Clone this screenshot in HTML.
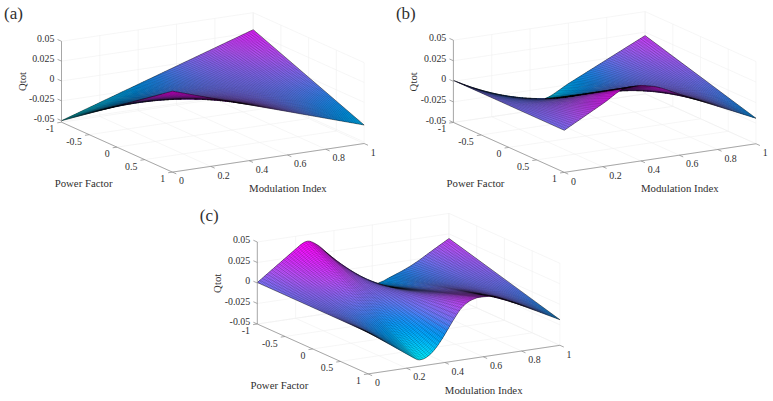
<!DOCTYPE html>
<html><head><meta charset="utf-8"><title>Qtot surfaces</title>
<style>html,body{margin:0;padding:0;background:#fff}svg{display:block}path.m{fill:none;stroke:#000;stroke-width:0.165}path.n{fill:none;stroke:#000;stroke-width:0.165}path.b{fill:none;stroke:#000;stroke-width:.55;stroke-opacity:.85}text{font-family:"Liberation Serif",serif;fill:#303030}</style>
</head><body>
<svg width="773" height="401" viewBox="0 0 773 401">
<defs><linearGradient id="g0_99" gradientUnits="userSpaceOnUse" x1="252.2" y1="0" x2="363.1" y2="0"><stop offset="0" stop-color="#e225ff"/><stop offset=".1" stop-color="#d435ff"/><stop offset=".2" stop-color="#c549ff"/><stop offset=".3" stop-color="#b25bff"/><stop offset=".4" stop-color="#9669ff"/><stop offset=".5" stop-color="#7a78ff"/><stop offset=".6" stop-color="#5684ff"/><stop offset=".7" stop-color="#2b90ff"/><stop offset=".8" stop-color="#0e9cff"/><stop offset=".9" stop-color="#00abff"/><stop offset="1" stop-color="#00bcff"/></linearGradient>
<linearGradient id="g0_98" gradientUnits="userSpaceOnUse" x1="250.3" y1="0" x2="361.2" y2="0"><stop offset="0" stop-color="#e027ff"/><stop offset=".1" stop-color="#d237ff"/><stop offset=".2" stop-color="#c34bff"/><stop offset=".3" stop-color="#b05cff"/><stop offset=".4" stop-color="#956aff"/><stop offset=".5" stop-color="#7a78ff"/><stop offset=".6" stop-color="#5784ff"/><stop offset=".7" stop-color="#2e90ff"/><stop offset=".8" stop-color="#109bff"/><stop offset=".9" stop-color="#00a9ff"/><stop offset="1" stop-color="#00baff"/></linearGradient>
<linearGradient id="g0_97" gradientUnits="userSpaceOnUse" x1="248.4" y1="0" x2="359.3" y2="0"><stop offset="0" stop-color="#de28ff"/><stop offset=".1" stop-color="#d03aff"/><stop offset=".2" stop-color="#c24cff"/><stop offset=".3" stop-color="#af5dff"/><stop offset=".4" stop-color="#946aff"/><stop offset=".5" stop-color="#7a78ff"/><stop offset=".6" stop-color="#5883ff"/><stop offset=".7" stop-color="#308fff"/><stop offset=".8" stop-color="#139aff"/><stop offset=".9" stop-color="#00a7ff"/><stop offset="1" stop-color="#00b7ff"/></linearGradient>
<linearGradient id="g0_96" gradientUnits="userSpaceOnUse" x1="246.5" y1="0" x2="357.4" y2="0"><stop offset="0" stop-color="#dc2aff"/><stop offset=".1" stop-color="#cf3cff"/><stop offset=".2" stop-color="#c14eff"/><stop offset=".3" stop-color="#ad5eff"/><stop offset=".4" stop-color="#946bff"/><stop offset=".5" stop-color="#7a78ff"/><stop offset=".6" stop-color="#5983ff"/><stop offset=".7" stop-color="#338eff"/><stop offset=".8" stop-color="#1599ff"/><stop offset=".9" stop-color="#00a5ff"/><stop offset="1" stop-color="#00b5ff"/></linearGradient>
<linearGradient id="g0_95" gradientUnits="userSpaceOnUse" x1="244.6" y1="0" x2="355.5" y2="0"><stop offset="0" stop-color="#db2cff"/><stop offset=".1" stop-color="#cd3eff"/><stop offset=".2" stop-color="#c050ff"/><stop offset=".3" stop-color="#ab5eff"/><stop offset=".4" stop-color="#936bff"/><stop offset=".5" stop-color="#7a78ff"/><stop offset=".6" stop-color="#5a83ff"/><stop offset=".7" stop-color="#358eff"/><stop offset=".8" stop-color="#1798ff"/><stop offset=".9" stop-color="#00a3ff"/><stop offset="1" stop-color="#00b3ff"/></linearGradient>
<linearGradient id="g0_94" gradientUnits="userSpaceOnUse" x1="242.7" y1="0" x2="353.6" y2="0"><stop offset="0" stop-color="#d82fff"/><stop offset=".1" stop-color="#cb40ff"/><stop offset=".2" stop-color="#be51ff"/><stop offset=".3" stop-color="#aa5fff"/><stop offset=".4" stop-color="#926bff"/><stop offset=".5" stop-color="#7a78ff"/><stop offset=".6" stop-color="#5b82ff"/><stop offset=".7" stop-color="#378dff"/><stop offset=".8" stop-color="#1997ff"/><stop offset=".9" stop-color="#03a2ff"/><stop offset="1" stop-color="#00b0ff"/></linearGradient>
<linearGradient id="g0_93" gradientUnits="userSpaceOnUse" x1="240.7" y1="0" x2="351.6" y2="0"><stop offset="0" stop-color="#d632ff"/><stop offset=".1" stop-color="#ca42ff"/><stop offset=".2" stop-color="#bd53ff"/><stop offset=".3" stop-color="#a860ff"/><stop offset=".4" stop-color="#916cff"/><stop offset=".5" stop-color="#7a78ff"/><stop offset=".6" stop-color="#5c82ff"/><stop offset=".7" stop-color="#3a8cff"/><stop offset=".8" stop-color="#1b96ff"/><stop offset=".9" stop-color="#06a0ff"/><stop offset="1" stop-color="#00aeff"/></linearGradient>
<linearGradient id="g0_92" gradientUnits="userSpaceOnUse" x1="238.8" y1="0" x2="349.7" y2="0"><stop offset="0" stop-color="#d435ff"/><stop offset=".1" stop-color="#c845ff"/><stop offset=".2" stop-color="#bc55ff"/><stop offset=".3" stop-color="#a761ff"/><stop offset=".4" stop-color="#916cff"/><stop offset=".5" stop-color="#7a78ff"/><stop offset=".6" stop-color="#5d82ff"/><stop offset=".7" stop-color="#3c8bff"/><stop offset=".8" stop-color="#1d95ff"/><stop offset=".9" stop-color="#099fff"/><stop offset="1" stop-color="#00abff"/></linearGradient>
<linearGradient id="g0_91" gradientUnits="userSpaceOnUse" x1="236.9" y1="0" x2="347.8" y2="0"><stop offset="0" stop-color="#d237ff"/><stop offset=".1" stop-color="#c647ff"/><stop offset=".2" stop-color="#ba56ff"/><stop offset=".3" stop-color="#a562ff"/><stop offset=".4" stop-color="#906dff"/><stop offset=".5" stop-color="#7a78ff"/><stop offset=".6" stop-color="#5e81ff"/><stop offset=".7" stop-color="#3f8bff"/><stop offset=".8" stop-color="#1f94ff"/><stop offset=".9" stop-color="#0b9eff"/><stop offset="1" stop-color="#00a9ff"/></linearGradient>
<linearGradient id="g0_90" gradientUnits="userSpaceOnUse" x1="235.0" y1="0" x2="345.9" y2="0"><stop offset="0" stop-color="#d03aff"/><stop offset=".1" stop-color="#c549ff"/><stop offset=".2" stop-color="#b858ff"/><stop offset=".3" stop-color="#a462ff"/><stop offset=".4" stop-color="#8f6dff"/><stop offset=".5" stop-color="#7a78ff"/><stop offset=".6" stop-color="#5f81ff"/><stop offset=".7" stop-color="#418aff"/><stop offset=".8" stop-color="#2293ff"/><stop offset=".9" stop-color="#0e9cff"/><stop offset="1" stop-color="#00a7ff"/></linearGradient>
<linearGradient id="g0_89" gradientUnits="userSpaceOnUse" x1="233.1" y1="0" x2="344.0" y2="0"><stop offset="0" stop-color="#ce3dff"/><stop offset=".1" stop-color="#c34bff"/><stop offset=".2" stop-color="#b659ff"/><stop offset=".3" stop-color="#a263ff"/><stop offset=".4" stop-color="#8e6eff"/><stop offset=".5" stop-color="#7a78ff"/><stop offset=".6" stop-color="#6081ff"/><stop offset=".7" stop-color="#4489ff"/><stop offset=".8" stop-color="#2492ff"/><stop offset=".9" stop-color="#119bff"/><stop offset="1" stop-color="#00a4ff"/></linearGradient>
<linearGradient id="g0_88" gradientUnits="userSpaceOnUse" x1="231.2" y1="0" x2="342.1" y2="0"><stop offset="0" stop-color="#cc40ff"/><stop offset=".1" stop-color="#c14eff"/><stop offset=".2" stop-color="#b45aff"/><stop offset=".3" stop-color="#a164ff"/><stop offset=".4" stop-color="#8e6eff"/><stop offset=".5" stop-color="#7a78ff"/><stop offset=".6" stop-color="#6180ff"/><stop offset=".7" stop-color="#4689ff"/><stop offset=".8" stop-color="#2891ff"/><stop offset=".9" stop-color="#149aff"/><stop offset="1" stop-color="#02a2ff"/></linearGradient>
<linearGradient id="g0_87" gradientUnits="userSpaceOnUse" x1="229.2" y1="0" x2="340.1" y2="0"><stop offset="0" stop-color="#ca43ff"/><stop offset=".1" stop-color="#bf50ff"/><stop offset=".2" stop-color="#b15bff"/><stop offset=".3" stop-color="#9f65ff"/><stop offset=".4" stop-color="#8d6eff"/><stop offset=".5" stop-color="#7a78ff"/><stop offset=".6" stop-color="#6280ff"/><stop offset=".7" stop-color="#4988ff"/><stop offset=".8" stop-color="#2b90ff"/><stop offset=".9" stop-color="#1798ff"/><stop offset="1" stop-color="#06a0ff"/></linearGradient>
<linearGradient id="g0_86" gradientUnits="userSpaceOnUse" x1="227.3" y1="0" x2="338.2" y2="0"><stop offset="0" stop-color="#c745ff"/><stop offset=".1" stop-color="#be52ff"/><stop offset=".2" stop-color="#af5cff"/><stop offset=".3" stop-color="#9e66ff"/><stop offset=".4" stop-color="#8c6fff"/><stop offset=".5" stop-color="#7a78ff"/><stop offset=".6" stop-color="#6380ff"/><stop offset=".7" stop-color="#4b87ff"/><stop offset=".8" stop-color="#2f8fff"/><stop offset=".9" stop-color="#1a97ff"/><stop offset="1" stop-color="#099fff"/></linearGradient>
<linearGradient id="g0_85" gradientUnits="userSpaceOnUse" x1="225.4" y1="0" x2="336.3" y2="0"><stop offset="0" stop-color="#c548ff"/><stop offset=".1" stop-color="#bc54ff"/><stop offset=".2" stop-color="#ad5eff"/><stop offset=".3" stop-color="#9c66ff"/><stop offset=".4" stop-color="#8b6fff"/><stop offset=".5" stop-color="#7a78ff"/><stop offset=".6" stop-color="#647fff"/><stop offset=".7" stop-color="#4e87ff"/><stop offset=".8" stop-color="#338eff"/><stop offset=".9" stop-color="#1d96ff"/><stop offset="1" stop-color="#0d9dff"/></linearGradient>
<linearGradient id="g0_84" gradientUnits="userSpaceOnUse" x1="223.5" y1="0" x2="334.4" y2="0"><stop offset="0" stop-color="#c34bff"/><stop offset=".1" stop-color="#ba56ff"/><stop offset=".2" stop-color="#ab5fff"/><stop offset=".3" stop-color="#9b67ff"/><stop offset=".4" stop-color="#8a70ff"/><stop offset=".5" stop-color="#7a78ff"/><stop offset=".6" stop-color="#657fff"/><stop offset=".7" stop-color="#5086ff"/><stop offset=".8" stop-color="#368dff"/><stop offset=".9" stop-color="#2094ff"/><stop offset="1" stop-color="#119bff"/></linearGradient>
<linearGradient id="g0_83" gradientUnits="userSpaceOnUse" x1="221.6" y1="0" x2="332.5" y2="0"><stop offset="0" stop-color="#c14eff"/><stop offset=".1" stop-color="#b858ff"/><stop offset=".2" stop-color="#a860ff"/><stop offset=".3" stop-color="#9968ff"/><stop offset=".4" stop-color="#8a70ff"/><stop offset=".5" stop-color="#7a78ff"/><stop offset=".6" stop-color="#667fff"/><stop offset=".7" stop-color="#5285ff"/><stop offset=".8" stop-color="#3a8cff"/><stop offset=".9" stop-color="#2293ff"/><stop offset="1" stop-color="#149aff"/></linearGradient>
<linearGradient id="g0_82" gradientUnits="userSpaceOnUse" x1="219.7" y1="0" x2="330.6" y2="0"><stop offset="0" stop-color="#bf50ff"/><stop offset=".1" stop-color="#b45aff"/><stop offset=".2" stop-color="#a661ff"/><stop offset=".3" stop-color="#9769ff"/><stop offset=".4" stop-color="#8970ff"/><stop offset=".5" stop-color="#7a78ff"/><stop offset=".6" stop-color="#677eff"/><stop offset=".7" stop-color="#5485ff"/><stop offset=".8" stop-color="#3e8bff"/><stop offset=".9" stop-color="#2792ff"/><stop offset="1" stop-color="#1898ff"/></linearGradient>
<linearGradient id="g0_81" gradientUnits="userSpaceOnUse" x1="217.7" y1="0" x2="328.6" y2="0"><stop offset="0" stop-color="#bd53ff"/><stop offset=".1" stop-color="#b15bff"/><stop offset=".2" stop-color="#a462ff"/><stop offset=".3" stop-color="#966aff"/><stop offset=".4" stop-color="#8871ff"/><stop offset=".5" stop-color="#7a78ff"/><stop offset=".6" stop-color="#687eff"/><stop offset=".7" stop-color="#5684ff"/><stop offset=".8" stop-color="#428aff"/><stop offset=".9" stop-color="#2c90ff"/><stop offset="1" stop-color="#1b96ff"/></linearGradient>
<linearGradient id="g0_80" gradientUnits="userSpaceOnUse" x1="215.8" y1="0" x2="326.7" y2="0"><stop offset="0" stop-color="#bb56ff"/><stop offset=".1" stop-color="#ae5dff"/><stop offset=".2" stop-color="#a164ff"/><stop offset=".3" stop-color="#946aff"/><stop offset=".4" stop-color="#8771ff"/><stop offset=".5" stop-color="#7a78ff"/><stop offset=".6" stop-color="#697eff"/><stop offset=".7" stop-color="#5883ff"/><stop offset=".8" stop-color="#4589ff"/><stop offset=".9" stop-color="#308fff"/><stop offset="1" stop-color="#1f95ff"/></linearGradient>
<linearGradient id="g0_79" gradientUnits="userSpaceOnUse" x1="213.9" y1="0" x2="324.8" y2="0"><stop offset="0" stop-color="#b758ff"/><stop offset=".1" stop-color="#ab5eff"/><stop offset=".2" stop-color="#9f65ff"/><stop offset=".3" stop-color="#936bff"/><stop offset=".4" stop-color="#8772ff"/><stop offset=".5" stop-color="#7a78ff"/><stop offset=".6" stop-color="#6a7dff"/><stop offset=".7" stop-color="#5a83ff"/><stop offset=".8" stop-color="#4988ff"/><stop offset=".9" stop-color="#358dff"/><stop offset="1" stop-color="#2393ff"/></linearGradient>
<linearGradient id="g0_78" gradientUnits="userSpaceOnUse" x1="212.0" y1="0" x2="322.9" y2="0"><stop offset="0" stop-color="#b45aff"/><stop offset=".1" stop-color="#a860ff"/><stop offset=".2" stop-color="#9d66ff"/><stop offset=".3" stop-color="#916cff"/><stop offset=".4" stop-color="#8672ff"/><stop offset=".5" stop-color="#7a78ff"/><stop offset=".6" stop-color="#6b7dff"/><stop offset=".7" stop-color="#5c82ff"/><stop offset=".8" stop-color="#4d87ff"/><stop offset=".9" stop-color="#3a8cff"/><stop offset="1" stop-color="#2891ff"/></linearGradient>
<linearGradient id="g0_77" gradientUnits="userSpaceOnUse" x1="210.1" y1="0" x2="321.0" y2="0"><stop offset="0" stop-color="#b05cff"/><stop offset=".1" stop-color="#a562ff"/><stop offset=".2" stop-color="#9a67ff"/><stop offset=".3" stop-color="#906dff"/><stop offset=".4" stop-color="#8572ff"/><stop offset=".5" stop-color="#7a78ff"/><stop offset=".6" stop-color="#6c7dff"/><stop offset=".7" stop-color="#5e81ff"/><stop offset=".8" stop-color="#5086ff"/><stop offset=".9" stop-color="#3f8bff"/><stop offset="1" stop-color="#2e8fff"/></linearGradient>
<linearGradient id="g0_76" gradientUnits="userSpaceOnUse" x1="208.2" y1="0" x2="319.1" y2="0"><stop offset="0" stop-color="#ac5eff"/><stop offset=".1" stop-color="#a263ff"/><stop offset=".2" stop-color="#9868ff"/><stop offset=".3" stop-color="#8e6eff"/><stop offset=".4" stop-color="#8473ff"/><stop offset=".5" stop-color="#7a78ff"/><stop offset=".6" stop-color="#6d7cff"/><stop offset=".7" stop-color="#6081ff"/><stop offset=".8" stop-color="#5385ff"/><stop offset=".9" stop-color="#4489ff"/><stop offset="1" stop-color="#348eff"/></linearGradient>
<linearGradient id="g0_75" gradientUnits="userSpaceOnUse" x1="206.2" y1="0" x2="317.1" y2="0"><stop offset="0" stop-color="#a860ff"/><stop offset=".1" stop-color="#9f65ff"/><stop offset=".2" stop-color="#966aff"/><stop offset=".3" stop-color="#8d6eff"/><stop offset=".4" stop-color="#8473ff"/><stop offset=".5" stop-color="#7a78ff"/><stop offset=".6" stop-color="#6e7cff"/><stop offset=".7" stop-color="#6280ff"/><stop offset=".8" stop-color="#5684ff"/><stop offset=".9" stop-color="#4988ff"/><stop offset="1" stop-color="#3b8cff"/></linearGradient>
<linearGradient id="g0_74" gradientUnits="userSpaceOnUse" x1="204.3" y1="0" x2="315.2" y2="0"><stop offset="0" stop-color="#a462ff"/><stop offset=".1" stop-color="#9c66ff"/><stop offset=".2" stop-color="#936bff"/><stop offset=".3" stop-color="#8b6fff"/><stop offset=".4" stop-color="#8374ff"/><stop offset=".5" stop-color="#7a78ff"/><stop offset=".6" stop-color="#6f7cff"/><stop offset=".7" stop-color="#647fff"/><stop offset=".8" stop-color="#5983ff"/><stop offset=".9" stop-color="#4e87ff"/><stop offset="1" stop-color="#418aff"/></linearGradient>
<linearGradient id="g0_73" gradientUnits="userSpaceOnUse" x1="202.4" y1="0" x2="313.3" y2="0"><stop offset="0" stop-color="#a064ff"/><stop offset=".1" stop-color="#9968ff"/><stop offset=".2" stop-color="#916cff"/><stop offset=".3" stop-color="#8a70ff"/><stop offset=".4" stop-color="#8274ff"/><stop offset=".5" stop-color="#7a78ff"/><stop offset=".6" stop-color="#707bff"/><stop offset=".7" stop-color="#667fff"/><stop offset=".8" stop-color="#5c82ff"/><stop offset=".9" stop-color="#5285ff"/><stop offset="1" stop-color="#4789ff"/></linearGradient>
<linearGradient id="g0_72" gradientUnits="userSpaceOnUse" x1="200.5" y1="0" x2="311.4" y2="0"><stop offset="0" stop-color="#9c66ff"/><stop offset=".1" stop-color="#966aff"/><stop offset=".2" stop-color="#8f6dff"/><stop offset=".3" stop-color="#8871ff"/><stop offset=".4" stop-color="#8174ff"/><stop offset=".5" stop-color="#7a78ff"/><stop offset=".6" stop-color="#717bff"/><stop offset=".7" stop-color="#687eff"/><stop offset=".8" stop-color="#5f81ff"/><stop offset=".9" stop-color="#5684ff"/><stop offset="1" stop-color="#4d87ff"/></linearGradient>
<linearGradient id="g0_71" gradientUnits="userSpaceOnUse" x1="198.6" y1="0" x2="309.5" y2="0"><stop offset="0" stop-color="#9968ff"/><stop offset=".1" stop-color="#936bff"/><stop offset=".2" stop-color="#8d6eff"/><stop offset=".3" stop-color="#8672ff"/><stop offset=".4" stop-color="#8075ff"/><stop offset=".5" stop-color="#7a78ff"/><stop offset=".6" stop-color="#727bff"/><stop offset=".7" stop-color="#6a7dff"/><stop offset=".8" stop-color="#6380ff"/><stop offset=".9" stop-color="#5b83ff"/><stop offset="1" stop-color="#5385ff"/></linearGradient>
<linearGradient id="g0_70" gradientUnits="userSpaceOnUse" x1="196.6" y1="0" x2="307.5" y2="0"><stop offset="0" stop-color="#956aff"/><stop offset=".1" stop-color="#8f6dff"/><stop offset=".2" stop-color="#8a70ff"/><stop offset=".3" stop-color="#8572ff"/><stop offset=".4" stop-color="#8075ff"/><stop offset=".5" stop-color="#7a78ff"/><stop offset=".6" stop-color="#737aff"/><stop offset=".7" stop-color="#6d7dff"/><stop offset=".8" stop-color="#667fff"/><stop offset=".9" stop-color="#5f81ff"/><stop offset="1" stop-color="#5883ff"/></linearGradient>
<linearGradient id="g0_69" gradientUnits="userSpaceOnUse" x1="194.7" y1="0" x2="305.6" y2="0"><stop offset="0" stop-color="#916cff"/><stop offset=".1" stop-color="#8c6eff"/><stop offset=".2" stop-color="#8871ff"/><stop offset=".3" stop-color="#8373ff"/><stop offset=".4" stop-color="#7f76ff"/><stop offset=".5" stop-color="#7a78ff"/><stop offset=".6" stop-color="#747aff"/><stop offset=".7" stop-color="#6f7cff"/><stop offset=".8" stop-color="#697eff"/><stop offset=".9" stop-color="#6380ff"/><stop offset="1" stop-color="#5d82ff"/></linearGradient>
<linearGradient id="g0_68" gradientUnits="userSpaceOnUse" x1="192.8" y1="0" x2="303.7" y2="0"><stop offset="0" stop-color="#8d6eff"/><stop offset=".1" stop-color="#8970ff"/><stop offset=".2" stop-color="#8672ff"/><stop offset=".3" stop-color="#8274ff"/><stop offset=".4" stop-color="#7e76ff"/><stop offset=".5" stop-color="#7a78ff"/><stop offset=".6" stop-color="#7579ff"/><stop offset=".7" stop-color="#717bff"/><stop offset=".8" stop-color="#6c7dff"/><stop offset=".9" stop-color="#677eff"/><stop offset="1" stop-color="#6280ff"/></linearGradient>
<linearGradient id="g0_67" gradientUnits="userSpaceOnUse" x1="190.9" y1="0" x2="301.8" y2="0"><stop offset="0" stop-color="#8970ff"/><stop offset=".1" stop-color="#8672ff"/><stop offset=".2" stop-color="#8373ff"/><stop offset=".3" stop-color="#8075ff"/><stop offset=".4" stop-color="#7d76ff"/><stop offset=".5" stop-color="#7a78ff"/><stop offset=".6" stop-color="#7679ff"/><stop offset=".7" stop-color="#737aff"/><stop offset=".8" stop-color="#6f7cff"/><stop offset=".9" stop-color="#6b7dff"/><stop offset="1" stop-color="#677eff"/></linearGradient>
<linearGradient id="g0_66" gradientUnits="userSpaceOnUse" x1="189.0" y1="0" x2="299.9" y2="0"><stop offset="0" stop-color="#8572ff"/><stop offset=".1" stop-color="#8373ff"/><stop offset=".2" stop-color="#8174ff"/><stop offset=".3" stop-color="#7f76ff"/><stop offset=".4" stop-color="#7d77ff"/><stop offset=".5" stop-color="#7a78ff"/><stop offset=".6" stop-color="#7879ff"/><stop offset=".7" stop-color="#757aff"/><stop offset=".8" stop-color="#727bff"/><stop offset=".9" stop-color="#6f7cff"/><stop offset="1" stop-color="#6c7dff"/></linearGradient>
<linearGradient id="g0_65" gradientUnits="userSpaceOnUse" x1="187.1" y1="0" x2="298.0" y2="0"><stop offset="0" stop-color="#8174ff"/><stop offset=".1" stop-color="#8075ff"/><stop offset=".2" stop-color="#7f76ff"/><stop offset=".3" stop-color="#7d76ff"/><stop offset=".4" stop-color="#7c77ff"/><stop offset=".5" stop-color="#7a78ff"/><stop offset=".6" stop-color="#7978ff"/><stop offset=".7" stop-color="#7779ff"/><stop offset=".8" stop-color="#757aff"/><stop offset=".9" stop-color="#737aff"/><stop offset="1" stop-color="#717bff"/></linearGradient>
<linearGradient id="g0_64" gradientUnits="userSpaceOnUse" x1="185.1" y1="0" x2="296.0" y2="0"><stop offset="0" stop-color="#7e76ff"/><stop offset=".1" stop-color="#7d77ff"/><stop offset=".2" stop-color="#7c77ff"/><stop offset=".3" stop-color="#7c77ff"/><stop offset=".4" stop-color="#7b78ff"/><stop offset=".5" stop-color="#7a78ff"/><stop offset=".6" stop-color="#7a78ff"/><stop offset=".7" stop-color="#7978ff"/><stop offset=".8" stop-color="#7879ff"/><stop offset=".9" stop-color="#7779ff"/><stop offset="1" stop-color="#7679ff"/></linearGradient>
<linearGradient id="g0_63" gradientUnits="userSpaceOnUse" x1="183.2" y1="0" x2="294.1" y2="0"><stop offset="0" stop-color="#7a78ff"/><stop offset=".1" stop-color="#7a78ff"/><stop offset=".2" stop-color="#7a78ff"/><stop offset=".3" stop-color="#7a78ff"/><stop offset=".4" stop-color="#7a78ff"/><stop offset=".5" stop-color="#7a78ff"/><stop offset=".6" stop-color="#7b78ff"/><stop offset=".7" stop-color="#7b78ff"/><stop offset=".8" stop-color="#7b78ff"/><stop offset=".9" stop-color="#7b78ff"/><stop offset="1" stop-color="#7b78ff"/></linearGradient>
<linearGradient id="g0_62" gradientUnits="userSpaceOnUse" x1="181.3" y1="0" x2="292.2" y2="0"><stop offset="0" stop-color="#747aff"/><stop offset=".1" stop-color="#7679ff"/><stop offset=".2" stop-color="#7779ff"/><stop offset=".3" stop-color="#7879ff"/><stop offset=".4" stop-color="#7978ff"/><stop offset=".5" stop-color="#7a78ff"/><stop offset=".6" stop-color="#7b77ff"/><stop offset=".7" stop-color="#7c77ff"/><stop offset=".8" stop-color="#7d76ff"/><stop offset=".9" stop-color="#7e76ff"/><stop offset="1" stop-color="#7f76ff"/></linearGradient>
<linearGradient id="g0_61" gradientUnits="userSpaceOnUse" x1="179.4" y1="0" x2="290.3" y2="0"><stop offset="0" stop-color="#6f7cff"/><stop offset=".1" stop-color="#727bff"/><stop offset=".2" stop-color="#747aff"/><stop offset=".3" stop-color="#7679ff"/><stop offset=".4" stop-color="#7879ff"/><stop offset=".5" stop-color="#7a78ff"/><stop offset=".6" stop-color="#7c77ff"/><stop offset=".7" stop-color="#7e76ff"/><stop offset=".8" stop-color="#7f75ff"/><stop offset=".9" stop-color="#8174ff"/><stop offset="1" stop-color="#8374ff"/></linearGradient>
<linearGradient id="g0_60" gradientUnits="userSpaceOnUse" x1="177.5" y1="0" x2="288.4" y2="0"><stop offset="0" stop-color="#6a7dff"/><stop offset=".1" stop-color="#6e7cff"/><stop offset=".2" stop-color="#717bff"/><stop offset=".3" stop-color="#747aff"/><stop offset=".4" stop-color="#7779ff"/><stop offset=".5" stop-color="#7a78ff"/><stop offset=".6" stop-color="#7d77ff"/><stop offset=".7" stop-color="#7f75ff"/><stop offset=".8" stop-color="#8274ff"/><stop offset=".9" stop-color="#8473ff"/><stop offset="1" stop-color="#8772ff"/></linearGradient>
<linearGradient id="g0_59" gradientUnits="userSpaceOnUse" x1="175.6" y1="0" x2="286.5" y2="0"><stop offset="0" stop-color="#657fff"/><stop offset=".1" stop-color="#697eff"/><stop offset=".2" stop-color="#6e7cff"/><stop offset=".3" stop-color="#727bff"/><stop offset=".4" stop-color="#7679ff"/><stop offset=".5" stop-color="#7a78ff"/><stop offset=".6" stop-color="#7e76ff"/><stop offset=".7" stop-color="#8175ff"/><stop offset=".8" stop-color="#8473ff"/><stop offset=".9" stop-color="#8771ff"/><stop offset="1" stop-color="#8a70ff"/></linearGradient>
<linearGradient id="g0_58" gradientUnits="userSpaceOnUse" x1="173.6" y1="0" x2="284.5" y2="0"><stop offset="0" stop-color="#6081ff"/><stop offset=".1" stop-color="#657fff"/><stop offset=".2" stop-color="#6b7dff"/><stop offset=".3" stop-color="#707bff"/><stop offset=".4" stop-color="#757aff"/><stop offset=".5" stop-color="#7a78ff"/><stop offset=".6" stop-color="#7e76ff"/><stop offset=".7" stop-color="#8274ff"/><stop offset=".8" stop-color="#8672ff"/><stop offset=".9" stop-color="#8a70ff"/><stop offset="1" stop-color="#8e6eff"/></linearGradient>
<linearGradient id="g0_57" gradientUnits="userSpaceOnUse" x1="171.7" y1="0" x2="282.6" y2="0"><stop offset="0" stop-color="#5b82ff"/><stop offset=".1" stop-color="#6180ff"/><stop offset=".2" stop-color="#687eff"/><stop offset=".3" stop-color="#6e7cff"/><stop offset=".4" stop-color="#747aff"/><stop offset=".5" stop-color="#7a78ff"/><stop offset=".6" stop-color="#7f75ff"/><stop offset=".7" stop-color="#8473ff"/><stop offset=".8" stop-color="#8970ff"/><stop offset=".9" stop-color="#8d6eff"/><stop offset="1" stop-color="#926cff"/></linearGradient>
<linearGradient id="g0_56" gradientUnits="userSpaceOnUse" x1="169.8" y1="0" x2="280.7" y2="0"><stop offset="0" stop-color="#5684ff"/><stop offset=".1" stop-color="#5d82ff"/><stop offset=".2" stop-color="#657fff"/><stop offset=".3" stop-color="#6c7dff"/><stop offset=".4" stop-color="#737aff"/><stop offset=".5" stop-color="#7a78ff"/><stop offset=".6" stop-color="#8075ff"/><stop offset=".7" stop-color="#8572ff"/><stop offset=".8" stop-color="#8b6fff"/><stop offset=".9" stop-color="#906cff"/><stop offset="1" stop-color="#966aff"/></linearGradient>
<linearGradient id="g0_55" gradientUnits="userSpaceOnUse" x1="167.9" y1="0" x2="278.8" y2="0"><stop offset="0" stop-color="#5186ff"/><stop offset=".1" stop-color="#5983ff"/><stop offset=".2" stop-color="#6280ff"/><stop offset=".3" stop-color="#6a7dff"/><stop offset=".4" stop-color="#727bff"/><stop offset=".5" stop-color="#7a78ff"/><stop offset=".6" stop-color="#8175ff"/><stop offset=".7" stop-color="#8771ff"/><stop offset=".8" stop-color="#8d6eff"/><stop offset=".9" stop-color="#946bff"/><stop offset="1" stop-color="#9a68ff"/></linearGradient>
<linearGradient id="g0_54" gradientUnits="userSpaceOnUse" x1="166.0" y1="0" x2="276.9" y2="0"><stop offset="0" stop-color="#4b87ff"/><stop offset=".1" stop-color="#5584ff"/><stop offset=".2" stop-color="#5e81ff"/><stop offset=".3" stop-color="#687eff"/><stop offset=".4" stop-color="#717bff"/><stop offset=".5" stop-color="#7a78ff"/><stop offset=".6" stop-color="#8174ff"/><stop offset=".7" stop-color="#8971ff"/><stop offset=".8" stop-color="#906dff"/><stop offset=".9" stop-color="#9769ff"/><stop offset="1" stop-color="#9e66ff"/></linearGradient>
<linearGradient id="g0_53" gradientUnits="userSpaceOnUse" x1="164.1" y1="0" x2="275.0" y2="0"><stop offset="0" stop-color="#4589ff"/><stop offset=".1" stop-color="#5186ff"/><stop offset=".2" stop-color="#5b82ff"/><stop offset=".3" stop-color="#667fff"/><stop offset=".4" stop-color="#707bff"/><stop offset=".5" stop-color="#7a78ff"/><stop offset=".6" stop-color="#8274ff"/><stop offset=".7" stop-color="#8a70ff"/><stop offset=".8" stop-color="#926cff"/><stop offset=".9" stop-color="#9a68ff"/><stop offset="1" stop-color="#a263ff"/></linearGradient>
<linearGradient id="g0_52" gradientUnits="userSpaceOnUse" x1="162.1" y1="0" x2="273.0" y2="0"><stop offset="0" stop-color="#3f8bff"/><stop offset=".1" stop-color="#4d87ff"/><stop offset=".2" stop-color="#5883ff"/><stop offset=".3" stop-color="#647fff"/><stop offset=".4" stop-color="#6f7cff"/><stop offset=".5" stop-color="#7a78ff"/><stop offset=".6" stop-color="#8373ff"/><stop offset=".7" stop-color="#8c6fff"/><stop offset=".8" stop-color="#946aff"/><stop offset=".9" stop-color="#9d66ff"/><stop offset="1" stop-color="#a561ff"/></linearGradient>
<linearGradient id="g0_51" gradientUnits="userSpaceOnUse" x1="160.2" y1="0" x2="271.1" y2="0"><stop offset="0" stop-color="#398dff"/><stop offset=".1" stop-color="#4888ff"/><stop offset=".2" stop-color="#5584ff"/><stop offset=".3" stop-color="#6280ff"/><stop offset=".4" stop-color="#6e7cff"/><stop offset=".5" stop-color="#7a78ff"/><stop offset=".6" stop-color="#8473ff"/><stop offset=".7" stop-color="#8d6eff"/><stop offset=".8" stop-color="#9769ff"/><stop offset=".9" stop-color="#a064ff"/><stop offset="1" stop-color="#a95fff"/></linearGradient>
<linearGradient id="g0_50" gradientUnits="userSpaceOnUse" x1="158.3" y1="0" x2="269.2" y2="0"><stop offset="0" stop-color="#328eff"/><stop offset=".1" stop-color="#438aff"/><stop offset=".2" stop-color="#5285ff"/><stop offset=".3" stop-color="#6081ff"/><stop offset=".4" stop-color="#6d7cff"/><stop offset=".5" stop-color="#7a78ff"/><stop offset=".6" stop-color="#8573ff"/><stop offset=".7" stop-color="#8f6dff"/><stop offset=".8" stop-color="#9968ff"/><stop offset=".9" stop-color="#a363ff"/><stop offset="1" stop-color="#ad5dff"/></linearGradient>
<linearGradient id="g0_49" gradientUnits="userSpaceOnUse" x1="156.4" y1="0" x2="267.3" y2="0"><stop offset="0" stop-color="#2c90ff"/><stop offset=".1" stop-color="#3e8bff"/><stop offset=".2" stop-color="#4f86ff"/><stop offset=".3" stop-color="#5e81ff"/><stop offset=".4" stop-color="#6c7dff"/><stop offset=".5" stop-color="#7a78ff"/><stop offset=".6" stop-color="#8572ff"/><stop offset=".7" stop-color="#906dff"/><stop offset=".8" stop-color="#9b67ff"/><stop offset=".9" stop-color="#a661ff"/><stop offset="1" stop-color="#b15bff"/></linearGradient>
<linearGradient id="g0_48" gradientUnits="userSpaceOnUse" x1="154.5" y1="0" x2="265.4" y2="0"><stop offset="0" stop-color="#2692ff"/><stop offset=".1" stop-color="#398cff"/><stop offset=".2" stop-color="#4c87ff"/><stop offset=".3" stop-color="#5c82ff"/><stop offset=".4" stop-color="#6b7dff"/><stop offset=".5" stop-color="#7a78ff"/><stop offset=".6" stop-color="#8672ff"/><stop offset=".7" stop-color="#926cff"/><stop offset=".8" stop-color="#9d66ff"/><stop offset=".9" stop-color="#a960ff"/><stop offset="1" stop-color="#b559ff"/></linearGradient>
<linearGradient id="g0_47" gradientUnits="userSpaceOnUse" x1="152.6" y1="0" x2="263.5" y2="0"><stop offset="0" stop-color="#2193ff"/><stop offset=".1" stop-color="#348eff"/><stop offset=".2" stop-color="#4888ff"/><stop offset=".3" stop-color="#5a83ff"/><stop offset=".4" stop-color="#6a7dff"/><stop offset=".5" stop-color="#7a78ff"/><stop offset=".6" stop-color="#8771ff"/><stop offset=".7" stop-color="#936bff"/><stop offset=".8" stop-color="#a064ff"/><stop offset=".9" stop-color="#ac5eff"/><stop offset="1" stop-color="#b957ff"/></linearGradient>
<linearGradient id="g0_46" gradientUnits="userSpaceOnUse" x1="150.6" y1="0" x2="261.5" y2="0"><stop offset="0" stop-color="#1e95ff"/><stop offset=".1" stop-color="#2f8fff"/><stop offset=".2" stop-color="#4489ff"/><stop offset=".3" stop-color="#5884ff"/><stop offset=".4" stop-color="#697eff"/><stop offset=".5" stop-color="#7a78ff"/><stop offset=".6" stop-color="#8871ff"/><stop offset=".7" stop-color="#956aff"/><stop offset=".8" stop-color="#a263ff"/><stop offset=".9" stop-color="#af5cff"/><stop offset="1" stop-color="#bb55ff"/></linearGradient>
<linearGradient id="g0_45" gradientUnits="userSpaceOnUse" x1="148.7" y1="0" x2="259.6" y2="0"><stop offset="0" stop-color="#1a97ff"/><stop offset=".1" stop-color="#2a91ff"/><stop offset=".2" stop-color="#408aff"/><stop offset=".3" stop-color="#5584ff"/><stop offset=".4" stop-color="#687eff"/><stop offset=".5" stop-color="#7a78ff"/><stop offset=".6" stop-color="#8871ff"/><stop offset=".7" stop-color="#9669ff"/><stop offset=".8" stop-color="#a462ff"/><stop offset=".9" stop-color="#b25bff"/><stop offset="1" stop-color="#be52ff"/></linearGradient>
<linearGradient id="g0_44" gradientUnits="userSpaceOnUse" x1="146.8" y1="0" x2="257.7" y2="0"><stop offset="0" stop-color="#1798ff"/><stop offset=".1" stop-color="#2592ff"/><stop offset=".2" stop-color="#3d8bff"/><stop offset=".3" stop-color="#5385ff"/><stop offset=".4" stop-color="#677eff"/><stop offset=".5" stop-color="#7a78ff"/><stop offset=".6" stop-color="#8970ff"/><stop offset=".7" stop-color="#9868ff"/><stop offset=".8" stop-color="#a761ff"/><stop offset=".9" stop-color="#b559ff"/><stop offset="1" stop-color="#c04fff"/></linearGradient>
<linearGradient id="g0_43" gradientUnits="userSpaceOnUse" x1="144.9" y1="0" x2="255.8" y2="0"><stop offset="0" stop-color="#139aff"/><stop offset=".1" stop-color="#2293ff"/><stop offset=".2" stop-color="#398cff"/><stop offset=".3" stop-color="#5186ff"/><stop offset=".4" stop-color="#667fff"/><stop offset=".5" stop-color="#7a78ff"/><stop offset=".6" stop-color="#8a70ff"/><stop offset=".7" stop-color="#9968ff"/><stop offset=".8" stop-color="#a960ff"/><stop offset=".9" stop-color="#b958ff"/><stop offset="1" stop-color="#c24dff"/></linearGradient>
<linearGradient id="g0_42" gradientUnits="userSpaceOnUse" x1="143.0" y1="0" x2="253.9" y2="0"><stop offset="0" stop-color="#0f9cff"/><stop offset=".1" stop-color="#1f95ff"/><stop offset=".2" stop-color="#358dff"/><stop offset=".3" stop-color="#4f86ff"/><stop offset=".4" stop-color="#657fff"/><stop offset=".5" stop-color="#7a78ff"/><stop offset=".6" stop-color="#8b6fff"/><stop offset=".7" stop-color="#9b67ff"/><stop offset=".8" stop-color="#ab5eff"/><stop offset=".9" stop-color="#bb56ff"/><stop offset="1" stop-color="#c44aff"/></linearGradient>
<linearGradient id="g0_41" gradientUnits="userSpaceOnUse" x1="141.1" y1="0" x2="252.0" y2="0"><stop offset="0" stop-color="#0c9eff"/><stop offset=".1" stop-color="#1c96ff"/><stop offset=".2" stop-color="#328eff"/><stop offset=".3" stop-color="#4d87ff"/><stop offset=".4" stop-color="#647fff"/><stop offset=".5" stop-color="#7a78ff"/><stop offset=".6" stop-color="#8b6fff"/><stop offset=".7" stop-color="#9d66ff"/><stop offset=".8" stop-color="#ae5dff"/><stop offset=".9" stop-color="#bd53ff"/><stop offset="1" stop-color="#c647ff"/></linearGradient>
<linearGradient id="g0_40" gradientUnits="userSpaceOnUse" x1="139.1" y1="0" x2="250.0" y2="0"><stop offset="0" stop-color="#089fff"/><stop offset=".1" stop-color="#1997ff"/><stop offset=".2" stop-color="#2e90ff"/><stop offset=".3" stop-color="#4b88ff"/><stop offset=".4" stop-color="#6380ff"/><stop offset=".5" stop-color="#7a78ff"/><stop offset=".6" stop-color="#8c6fff"/><stop offset=".7" stop-color="#9e65ff"/><stop offset=".8" stop-color="#b05cff"/><stop offset=".9" stop-color="#be51ff"/><stop offset="1" stop-color="#c844ff"/></linearGradient>
<linearGradient id="g0_39" gradientUnits="userSpaceOnUse" x1="137.2" y1="0" x2="248.1" y2="0"><stop offset="0" stop-color="#05a1ff"/><stop offset=".1" stop-color="#1699ff"/><stop offset=".2" stop-color="#2a91ff"/><stop offset=".3" stop-color="#4888ff"/><stop offset=".4" stop-color="#6280ff"/><stop offset=".5" stop-color="#7a78ff"/><stop offset=".6" stop-color="#8d6eff"/><stop offset=".7" stop-color="#a064ff"/><stop offset=".8" stop-color="#b25bff"/><stop offset=".9" stop-color="#c04fff"/><stop offset="1" stop-color="#ca42ff"/></linearGradient>
<linearGradient id="g0_38" gradientUnits="userSpaceOnUse" x1="135.3" y1="0" x2="246.2" y2="0"><stop offset="0" stop-color="#01a3ff"/><stop offset=".1" stop-color="#139aff"/><stop offset=".2" stop-color="#2692ff"/><stop offset=".3" stop-color="#4689ff"/><stop offset=".4" stop-color="#6180ff"/><stop offset=".5" stop-color="#7a78ff"/><stop offset=".6" stop-color="#8e6eff"/><stop offset=".7" stop-color="#a164ff"/><stop offset=".8" stop-color="#b55aff"/><stop offset=".9" stop-color="#c24dff"/><stop offset="1" stop-color="#cc3fff"/></linearGradient>
<linearGradient id="g0_37" gradientUnits="userSpaceOnUse" x1="133.4" y1="0" x2="244.3" y2="0"><stop offset="0" stop-color="#00a5ff"/><stop offset=".1" stop-color="#109bff"/><stop offset=".2" stop-color="#2393ff"/><stop offset=".3" stop-color="#438aff"/><stop offset=".4" stop-color="#6081ff"/><stop offset=".5" stop-color="#7a78ff"/><stop offset=".6" stop-color="#8f6dff"/><stop offset=".7" stop-color="#a363ff"/><stop offset=".8" stop-color="#b758ff"/><stop offset=".9" stop-color="#c34bff"/><stop offset="1" stop-color="#ce3cff"/></linearGradient>
<linearGradient id="g0_36" gradientUnits="userSpaceOnUse" x1="131.5" y1="0" x2="242.4" y2="0"><stop offset="0" stop-color="#00a7ff"/><stop offset=".1" stop-color="#0d9dff"/><stop offset=".2" stop-color="#2194ff"/><stop offset=".3" stop-color="#418aff"/><stop offset=".4" stop-color="#5f81ff"/><stop offset=".5" stop-color="#7a78ff"/><stop offset=".6" stop-color="#8f6dff"/><stop offset=".7" stop-color="#a462ff"/><stop offset=".8" stop-color="#b957ff"/><stop offset=".9" stop-color="#c548ff"/><stop offset="1" stop-color="#d139ff"/></linearGradient>
<linearGradient id="g0_35" gradientUnits="userSpaceOnUse" x1="129.6" y1="0" x2="240.5" y2="0"><stop offset="0" stop-color="#00aaff"/><stop offset=".1" stop-color="#0b9eff"/><stop offset=".2" stop-color="#1f95ff"/><stop offset=".3" stop-color="#3e8bff"/><stop offset=".4" stop-color="#5e81ff"/><stop offset=".5" stop-color="#7a78ff"/><stop offset=".6" stop-color="#906dff"/><stop offset=".7" stop-color="#a661ff"/><stop offset=".8" stop-color="#bb56ff"/><stop offset=".9" stop-color="#c746ff"/><stop offset="1" stop-color="#d337ff"/></linearGradient>
<linearGradient id="g0_34" gradientUnits="userSpaceOnUse" x1="127.6" y1="0" x2="238.5" y2="0"><stop offset="0" stop-color="#00acff"/><stop offset=".1" stop-color="#08a0ff"/><stop offset=".2" stop-color="#1d96ff"/><stop offset=".3" stop-color="#3c8cff"/><stop offset=".4" stop-color="#5d82ff"/><stop offset=".5" stop-color="#7a78ff"/><stop offset=".6" stop-color="#916cff"/><stop offset=".7" stop-color="#a760ff"/><stop offset=".8" stop-color="#bc54ff"/><stop offset=".9" stop-color="#c844ff"/><stop offset="1" stop-color="#d534ff"/></linearGradient>
<linearGradient id="g0_33" gradientUnits="userSpaceOnUse" x1="125.7" y1="0" x2="236.6" y2="0"><stop offset="0" stop-color="#00aeff"/><stop offset=".1" stop-color="#05a1ff"/><stop offset=".2" stop-color="#1a97ff"/><stop offset=".3" stop-color="#398cff"/><stop offset=".4" stop-color="#5c82ff"/><stop offset=".5" stop-color="#7a78ff"/><stop offset=".6" stop-color="#926cff"/><stop offset=".7" stop-color="#a960ff"/><stop offset=".8" stop-color="#bd52ff"/><stop offset=".9" stop-color="#ca42ff"/><stop offset="1" stop-color="#d731ff"/></linearGradient>
<linearGradient id="g0_32" gradientUnits="userSpaceOnUse" x1="123.8" y1="0" x2="234.7" y2="0"><stop offset="0" stop-color="#00b1ff"/><stop offset=".1" stop-color="#02a2ff"/><stop offset=".2" stop-color="#1898ff"/><stop offset=".3" stop-color="#378dff"/><stop offset=".4" stop-color="#5b82ff"/><stop offset=".5" stop-color="#7a78ff"/><stop offset=".6" stop-color="#926bff"/><stop offset=".7" stop-color="#aa5fff"/><stop offset=".8" stop-color="#bf51ff"/><stop offset=".9" stop-color="#cc40ff"/><stop offset="1" stop-color="#d92eff"/></linearGradient>
<linearGradient id="g0_31" gradientUnits="userSpaceOnUse" x1="121.9" y1="0" x2="232.8" y2="0"><stop offset="0" stop-color="#00b3ff"/><stop offset=".1" stop-color="#00a4ff"/><stop offset=".2" stop-color="#1699ff"/><stop offset=".3" stop-color="#348eff"/><stop offset=".4" stop-color="#5a83ff"/><stop offset=".5" stop-color="#7a78ff"/><stop offset=".6" stop-color="#936bff"/><stop offset=".7" stop-color="#ac5eff"/><stop offset=".8" stop-color="#c04fff"/><stop offset=".9" stop-color="#ce3dff"/><stop offset="1" stop-color="#db2bff"/></linearGradient>
<linearGradient id="g0_30" gradientUnits="userSpaceOnUse" x1="120.0" y1="0" x2="230.9" y2="0"><stop offset="0" stop-color="#00b6ff"/><stop offset=".1" stop-color="#00a6ff"/><stop offset=".2" stop-color="#149aff"/><stop offset=".3" stop-color="#328eff"/><stop offset=".4" stop-color="#5983ff"/><stop offset=".5" stop-color="#7a78ff"/><stop offset=".6" stop-color="#946bff"/><stop offset=".7" stop-color="#ad5dff"/><stop offset=".8" stop-color="#c14dff"/><stop offset=".9" stop-color="#cf3bff"/><stop offset="1" stop-color="#dd2aff"/></linearGradient>
<linearGradient id="g0_29" gradientUnits="userSpaceOnUse" x1="118.1" y1="0" x2="229.0" y2="0"><stop offset="0" stop-color="#00b8ff"/><stop offset=".1" stop-color="#00a8ff"/><stop offset=".2" stop-color="#129bff"/><stop offset=".3" stop-color="#2f8fff"/><stop offset=".4" stop-color="#5883ff"/><stop offset=".5" stop-color="#7a78ff"/><stop offset=".6" stop-color="#956aff"/><stop offset=".7" stop-color="#af5cff"/><stop offset=".8" stop-color="#c34cff"/><stop offset=".9" stop-color="#d139ff"/><stop offset="1" stop-color="#df28ff"/></linearGradient>
<linearGradient id="g0_28" gradientUnits="userSpaceOnUse" x1="116.1" y1="0" x2="227.0" y2="0"><stop offset="0" stop-color="#00bbff"/><stop offset=".1" stop-color="#00aaff"/><stop offset=".2" stop-color="#109cff"/><stop offset=".3" stop-color="#2d90ff"/><stop offset=".4" stop-color="#5784ff"/><stop offset=".5" stop-color="#7a78ff"/><stop offset=".6" stop-color="#956aff"/><stop offset=".7" stop-color="#b15cff"/><stop offset=".8" stop-color="#c44aff"/><stop offset=".9" stop-color="#d337ff"/><stop offset="1" stop-color="#e126ff"/></linearGradient>
<linearGradient id="g0_27" gradientUnits="userSpaceOnUse" x1="114.2" y1="0" x2="225.1" y2="0"><stop offset="0" stop-color="#00bdff"/><stop offset=".1" stop-color="#00acff"/><stop offset=".2" stop-color="#0e9dff"/><stop offset=".3" stop-color="#2a90ff"/><stop offset=".4" stop-color="#5684ff"/><stop offset=".5" stop-color="#7a78ff"/><stop offset=".6" stop-color="#9669ff"/><stop offset=".7" stop-color="#b25bff"/><stop offset=".8" stop-color="#c548ff"/><stop offset=".9" stop-color="#d434ff"/><stop offset="1" stop-color="#e324ff"/></linearGradient>
<linearGradient id="g0_26" gradientUnits="userSpaceOnUse" x1="112.3" y1="0" x2="223.2" y2="0"><stop offset="0" stop-color="#00bfff"/><stop offset=".1" stop-color="#00adff"/><stop offset=".2" stop-color="#0b9eff"/><stop offset=".3" stop-color="#2891ff"/><stop offset=".4" stop-color="#5585ff"/><stop offset=".5" stop-color="#7a78ff"/><stop offset=".6" stop-color="#9769ff"/><stop offset=".7" stop-color="#b45aff"/><stop offset=".8" stop-color="#c647ff"/><stop offset=".9" stop-color="#d632ff"/><stop offset="1" stop-color="#e523ff"/></linearGradient>
<linearGradient id="g0_25" gradientUnits="userSpaceOnUse" x1="110.4" y1="0" x2="221.3" y2="0"><stop offset="0" stop-color="#00c2ff"/><stop offset=".1" stop-color="#00afff"/><stop offset=".2" stop-color="#099fff"/><stop offset=".3" stop-color="#2592ff"/><stop offset=".4" stop-color="#5485ff"/><stop offset=".5" stop-color="#7a78ff"/><stop offset=".6" stop-color="#9869ff"/><stop offset=".7" stop-color="#b559ff"/><stop offset=".8" stop-color="#c845ff"/><stop offset=".9" stop-color="#d830ff"/><stop offset="1" stop-color="#e721ff"/></linearGradient>
<linearGradient id="g0_24" gradientUnits="userSpaceOnUse" x1="108.5" y1="0" x2="219.4" y2="0"><stop offset="0" stop-color="#00c5ff"/><stop offset=".1" stop-color="#00b1ff"/><stop offset=".2" stop-color="#07a0ff"/><stop offset=".3" stop-color="#2393ff"/><stop offset=".4" stop-color="#5385ff"/><stop offset=".5" stop-color="#7a78ff"/><stop offset=".6" stop-color="#9968ff"/><stop offset=".7" stop-color="#b758ff"/><stop offset=".8" stop-color="#c943ff"/><stop offset=".9" stop-color="#d92eff"/><stop offset="1" stop-color="#e91fff"/></linearGradient>
<linearGradient id="g0_23" gradientUnits="userSpaceOnUse" x1="106.5" y1="0" x2="217.4" y2="0"><stop offset="0" stop-color="#00c7ff"/><stop offset=".1" stop-color="#00b3ff"/><stop offset=".2" stop-color="#05a1ff"/><stop offset=".3" stop-color="#2293ff"/><stop offset=".4" stop-color="#5286ff"/><stop offset=".5" stop-color="#7a78ff"/><stop offset=".6" stop-color="#9968ff"/><stop offset=".7" stop-color="#b858ff"/><stop offset=".8" stop-color="#ca42ff"/><stop offset=".9" stop-color="#db2cff"/><stop offset="1" stop-color="#ea1dff"/></linearGradient>
<linearGradient id="g0_22" gradientUnits="userSpaceOnUse" x1="104.6" y1="0" x2="215.5" y2="0"><stop offset="0" stop-color="#00caff"/><stop offset=".1" stop-color="#00b5ff"/><stop offset=".2" stop-color="#03a2ff"/><stop offset=".3" stop-color="#2094ff"/><stop offset=".4" stop-color="#5186ff"/><stop offset=".5" stop-color="#7a78ff"/><stop offset=".6" stop-color="#9a67ff"/><stop offset=".7" stop-color="#ba57ff"/><stop offset=".8" stop-color="#cb40ff"/><stop offset=".9" stop-color="#dd2aff"/><stop offset="1" stop-color="#ec1bff"/></linearGradient>
<linearGradient id="g0_21" gradientUnits="userSpaceOnUse" x1="102.7" y1="0" x2="213.6" y2="0"><stop offset="0" stop-color="#00cdff"/><stop offset=".1" stop-color="#00b7ff"/><stop offset=".2" stop-color="#01a3ff"/><stop offset=".3" stop-color="#1f95ff"/><stop offset=".4" stop-color="#5086ff"/><stop offset=".5" stop-color="#7a78ff"/><stop offset=".6" stop-color="#9b67ff"/><stop offset=".7" stop-color="#bb56ff"/><stop offset=".8" stop-color="#cd3eff"/><stop offset=".9" stop-color="#de29ff"/><stop offset="1" stop-color="#ee1aff"/></linearGradient>
<linearGradient id="g0_20" gradientUnits="userSpaceOnUse" x1="100.8" y1="0" x2="211.7" y2="0"><stop offset="0" stop-color="#00d0ff"/><stop offset=".1" stop-color="#00b9ff"/><stop offset=".2" stop-color="#00a4ff"/><stop offset=".3" stop-color="#1d95ff"/><stop offset=".4" stop-color="#4e87ff"/><stop offset=".5" stop-color="#7a78ff"/><stop offset=".6" stop-color="#9c67ff"/><stop offset=".7" stop-color="#bc55ff"/><stop offset=".8" stop-color="#ce3dff"/><stop offset=".9" stop-color="#e027ff"/><stop offset="1" stop-color="#f018ff"/></linearGradient>
<linearGradient id="g0_19" gradientUnits="userSpaceOnUse" x1="98.9" y1="0" x2="209.8" y2="0"><stop offset="0" stop-color="#00d3ff"/><stop offset=".1" stop-color="#00bbff"/><stop offset=".2" stop-color="#00a6ff"/><stop offset=".3" stop-color="#1c96ff"/><stop offset=".4" stop-color="#4d87ff"/><stop offset=".5" stop-color="#7a78ff"/><stop offset=".6" stop-color="#9c66ff"/><stop offset=".7" stop-color="#bd54ff"/><stop offset=".8" stop-color="#cf3bff"/><stop offset=".9" stop-color="#e126ff"/><stop offset="1" stop-color="#f216ff"/></linearGradient>
<linearGradient id="g0_18" gradientUnits="userSpaceOnUse" x1="97.0" y1="0" x2="207.9" y2="0"><stop offset="0" stop-color="#00d6ff"/><stop offset=".1" stop-color="#00bdff"/><stop offset=".2" stop-color="#00a7ff"/><stop offset=".3" stop-color="#1b97ff"/><stop offset=".4" stop-color="#4c87ff"/><stop offset=".5" stop-color="#7a78ff"/><stop offset=".6" stop-color="#9d66ff"/><stop offset=".7" stop-color="#bd53ff"/><stop offset=".8" stop-color="#d03aff"/><stop offset=".9" stop-color="#e324ff"/><stop offset="1" stop-color="#f414ff"/></linearGradient>
<linearGradient id="g0_17" gradientUnits="userSpaceOnUse" x1="95.0" y1="0" x2="205.9" y2="0"><stop offset="0" stop-color="#00d8ff"/><stop offset=".1" stop-color="#00bfff"/><stop offset=".2" stop-color="#00a9ff"/><stop offset=".3" stop-color="#1997ff"/><stop offset=".4" stop-color="#4b88ff"/><stop offset=".5" stop-color="#7a78ff"/><stop offset=".6" stop-color="#9e65ff"/><stop offset=".7" stop-color="#be51ff"/><stop offset=".8" stop-color="#d238ff"/><stop offset=".9" stop-color="#e423ff"/><stop offset="1" stop-color="#f613ff"/></linearGradient>
<linearGradient id="g0_16" gradientUnits="userSpaceOnUse" x1="93.1" y1="0" x2="204.0" y2="0"><stop offset="0" stop-color="#00dbff"/><stop offset=".1" stop-color="#00c1ff"/><stop offset=".2" stop-color="#00aaff"/><stop offset=".3" stop-color="#1898ff"/><stop offset=".4" stop-color="#4988ff"/><stop offset=".5" stop-color="#7a78ff"/><stop offset=".6" stop-color="#9f65ff"/><stop offset=".7" stop-color="#bf50ff"/><stop offset=".8" stop-color="#d336ff"/><stop offset=".9" stop-color="#e622ff"/><stop offset="1" stop-color="#f811ff"/></linearGradient>
<linearGradient id="g0_15" gradientUnits="userSpaceOnUse" x1="91.2" y1="0" x2="202.1" y2="0"><stop offset="0" stop-color="#00deff"/><stop offset=".1" stop-color="#00c3ff"/><stop offset=".2" stop-color="#00abff"/><stop offset=".3" stop-color="#1699ff"/><stop offset=".4" stop-color="#4888ff"/><stop offset=".5" stop-color="#7a78ff"/><stop offset=".6" stop-color="#9f65ff"/><stop offset=".7" stop-color="#c04fff"/><stop offset=".8" stop-color="#d435ff"/><stop offset=".9" stop-color="#e720ff"/><stop offset="1" stop-color="#fa0fff"/></linearGradient>
<linearGradient id="g0_14" gradientUnits="userSpaceOnUse" x1="89.3" y1="0" x2="200.2" y2="0"><stop offset="0" stop-color="#00e1ff"/><stop offset=".1" stop-color="#00c5ff"/><stop offset=".2" stop-color="#00adff"/><stop offset=".3" stop-color="#1599ff"/><stop offset=".4" stop-color="#4789ff"/><stop offset=".5" stop-color="#7a78ff"/><stop offset=".6" stop-color="#a064ff"/><stop offset=".7" stop-color="#c14eff"/><stop offset=".8" stop-color="#d633ff"/><stop offset=".9" stop-color="#e91fff"/><stop offset="1" stop-color="#fc0dff"/></linearGradient>
<linearGradient id="g0_13" gradientUnits="userSpaceOnUse" x1="87.4" y1="0" x2="198.3" y2="0"><stop offset="0" stop-color="#00e4ff"/><stop offset=".1" stop-color="#00c7ff"/><stop offset=".2" stop-color="#00aeff"/><stop offset=".3" stop-color="#139aff"/><stop offset=".4" stop-color="#4689ff"/><stop offset=".5" stop-color="#7a78ff"/><stop offset=".6" stop-color="#a164ff"/><stop offset=".7" stop-color="#c24dff"/><stop offset=".8" stop-color="#d731ff"/><stop offset=".9" stop-color="#ea1dff"/><stop offset="1" stop-color="#fe0cff"/></linearGradient>
<linearGradient id="g0_12" gradientUnits="userSpaceOnUse" x1="85.5" y1="0" x2="196.4" y2="0"><stop offset="0" stop-color="#00e7ff"/><stop offset=".1" stop-color="#00caff"/><stop offset=".2" stop-color="#00b0ff"/><stop offset=".3" stop-color="#129bff"/><stop offset=".4" stop-color="#4589ff"/><stop offset=".5" stop-color="#7a78ff"/><stop offset=".6" stop-color="#a263ff"/><stop offset=".7" stop-color="#c24cff"/><stop offset=".8" stop-color="#d830ff"/><stop offset=".9" stop-color="#ec1cff"/><stop offset="1" stop-color="#ff0aff"/></linearGradient>
<linearGradient id="g0_11" gradientUnits="userSpaceOnUse" x1="83.5" y1="0" x2="194.4" y2="0"><stop offset="0" stop-color="#00e9ff"/><stop offset=".1" stop-color="#00ccff"/><stop offset=".2" stop-color="#00b1ff"/><stop offset=".3" stop-color="#119bff"/><stop offset=".4" stop-color="#438aff"/><stop offset=".5" stop-color="#7a78ff"/><stop offset=".6" stop-color="#a363ff"/><stop offset=".7" stop-color="#c34bff"/><stop offset=".8" stop-color="#d92eff"/><stop offset=".9" stop-color="#ed1aff"/><stop offset="1" stop-color="#ff09ff"/></linearGradient>
<linearGradient id="g0_10" gradientUnits="userSpaceOnUse" x1="81.6" y1="0" x2="192.5" y2="0"><stop offset="0" stop-color="#00ecff"/><stop offset=".1" stop-color="#00ceff"/><stop offset=".2" stop-color="#00b3ff"/><stop offset=".3" stop-color="#0f9cff"/><stop offset=".4" stop-color="#428aff"/><stop offset=".5" stop-color="#7a78ff"/><stop offset=".6" stop-color="#a363ff"/><stop offset=".7" stop-color="#c44aff"/><stop offset=".8" stop-color="#db2cff"/><stop offset=".9" stop-color="#ef19ff"/><stop offset="1" stop-color="#ff08ff"/></linearGradient>
<linearGradient id="g0_9" gradientUnits="userSpaceOnUse" x1="79.7" y1="0" x2="190.6" y2="0"><stop offset="0" stop-color="#00eeff"/><stop offset=".1" stop-color="#00d0ff"/><stop offset=".2" stop-color="#00b4ff"/><stop offset=".3" stop-color="#0e9dff"/><stop offset=".4" stop-color="#418aff"/><stop offset=".5" stop-color="#7a78ff"/><stop offset=".6" stop-color="#a462ff"/><stop offset=".7" stop-color="#c549ff"/><stop offset=".8" stop-color="#dc2bff"/><stop offset=".9" stop-color="#f118ff"/><stop offset="1" stop-color="#ff08ff"/></linearGradient>
<linearGradient id="g0_8" gradientUnits="userSpaceOnUse" x1="77.8" y1="0" x2="188.7" y2="0"><stop offset="0" stop-color="#00f0ff"/><stop offset=".1" stop-color="#00d3ff"/><stop offset=".2" stop-color="#00b6ff"/><stop offset=".3" stop-color="#0c9dff"/><stop offset=".4" stop-color="#408bff"/><stop offset=".5" stop-color="#7a78ff"/><stop offset=".6" stop-color="#a562ff"/><stop offset=".7" stop-color="#c647ff"/><stop offset=".8" stop-color="#dd2aff"/><stop offset=".9" stop-color="#f216ff"/><stop offset="1" stop-color="#ff07ff"/></linearGradient>
<linearGradient id="g0_7" gradientUnits="userSpaceOnUse" x1="75.9" y1="0" x2="186.8" y2="0"><stop offset="0" stop-color="#00f2ff"/><stop offset=".1" stop-color="#00d5ff"/><stop offset=".2" stop-color="#00b7ff"/><stop offset=".3" stop-color="#0b9eff"/><stop offset=".4" stop-color="#3e8bff"/><stop offset=".5" stop-color="#7a78ff"/><stop offset=".6" stop-color="#a661ff"/><stop offset=".7" stop-color="#c746ff"/><stop offset=".8" stop-color="#de29ff"/><stop offset=".9" stop-color="#f415ff"/><stop offset="1" stop-color="#ff06ff"/></linearGradient>
<linearGradient id="g0_6" gradientUnits="userSpaceOnUse" x1="74.0" y1="0" x2="184.9" y2="0"><stop offset="0" stop-color="#00f4ff"/><stop offset=".1" stop-color="#00d7ff"/><stop offset=".2" stop-color="#00b8ff"/><stop offset=".3" stop-color="#099fff"/><stop offset=".4" stop-color="#3d8bff"/><stop offset=".5" stop-color="#7a78ff"/><stop offset=".6" stop-color="#a661ff"/><stop offset=".7" stop-color="#c845ff"/><stop offset=".8" stop-color="#df28ff"/><stop offset=".9" stop-color="#f513ff"/><stop offset="1" stop-color="#ff05ff"/></linearGradient>
<linearGradient id="g0_5" gradientUnits="userSpaceOnUse" x1="72.0" y1="0" x2="182.9" y2="0"><stop offset="0" stop-color="#00f5ff"/><stop offset=".1" stop-color="#00d9ff"/><stop offset=".2" stop-color="#00baff"/><stop offset=".3" stop-color="#089fff"/><stop offset=".4" stop-color="#3c8cff"/><stop offset=".5" stop-color="#7a78ff"/><stop offset=".6" stop-color="#a761ff"/><stop offset=".7" stop-color="#c844ff"/><stop offset=".8" stop-color="#e027ff"/><stop offset=".9" stop-color="#f712ff"/><stop offset="1" stop-color="#ff04ff"/></linearGradient>
<linearGradient id="g0_4" gradientUnits="userSpaceOnUse" x1="70.1" y1="0" x2="181.0" y2="0"><stop offset="0" stop-color="#00f7ff"/><stop offset=".1" stop-color="#00dcff"/><stop offset=".2" stop-color="#00bbff"/><stop offset=".3" stop-color="#06a0ff"/><stop offset=".4" stop-color="#3b8cff"/><stop offset=".5" stop-color="#7a78ff"/><stop offset=".6" stop-color="#a860ff"/><stop offset=".7" stop-color="#c943ff"/><stop offset=".8" stop-color="#e226ff"/><stop offset=".9" stop-color="#f811ff"/><stop offset="1" stop-color="#ff04ff"/></linearGradient>
<linearGradient id="g0_3" gradientUnits="userSpaceOnUse" x1="68.2" y1="0" x2="179.1" y2="0"><stop offset="0" stop-color="#00f9ff"/><stop offset=".1" stop-color="#00deff"/><stop offset=".2" stop-color="#00bdff"/><stop offset=".3" stop-color="#05a1ff"/><stop offset=".4" stop-color="#398cff"/><stop offset=".5" stop-color="#7a78ff"/><stop offset=".6" stop-color="#a960ff"/><stop offset=".7" stop-color="#ca42ff"/><stop offset=".8" stop-color="#e324ff"/><stop offset=".9" stop-color="#fa0fff"/><stop offset="1" stop-color="#ff03ff"/></linearGradient>
<linearGradient id="g0_2" gradientUnits="userSpaceOnUse" x1="66.3" y1="0" x2="177.2" y2="0"><stop offset="0" stop-color="#00fbff"/><stop offset=".1" stop-color="#00e0ff"/><stop offset=".2" stop-color="#00beff"/><stop offset=".3" stop-color="#04a1ff"/><stop offset=".4" stop-color="#388dff"/><stop offset=".5" stop-color="#7a78ff"/><stop offset=".6" stop-color="#aa5fff"/><stop offset=".7" stop-color="#cb41ff"/><stop offset=".8" stop-color="#e423ff"/><stop offset=".9" stop-color="#fb0eff"/><stop offset="1" stop-color="#ff02ff"/></linearGradient>
<linearGradient id="g0_1" gradientUnits="userSpaceOnUse" x1="64.4" y1="0" x2="175.3" y2="0"><stop offset="0" stop-color="#00fcff"/><stop offset=".1" stop-color="#00e3ff"/><stop offset=".2" stop-color="#00c0ff"/><stop offset=".3" stop-color="#02a2ff"/><stop offset=".4" stop-color="#378dff"/><stop offset=".5" stop-color="#7a78ff"/><stop offset=".6" stop-color="#aa5fff"/><stop offset=".7" stop-color="#cc40ff"/><stop offset=".8" stop-color="#e522ff"/><stop offset=".9" stop-color="#fd0cff"/><stop offset="1" stop-color="#ff01ff"/></linearGradient>
<linearGradient id="g0_0" gradientUnits="userSpaceOnUse" x1="62.5" y1="0" x2="173.4" y2="0"><stop offset="0" stop-color="#00feff"/><stop offset=".1" stop-color="#00e5ff"/><stop offset=".2" stop-color="#00c1ff"/><stop offset=".3" stop-color="#01a3ff"/><stop offset=".4" stop-color="#368dff"/><stop offset=".5" stop-color="#7a78ff"/><stop offset=".6" stop-color="#ab5fff"/><stop offset=".7" stop-color="#cd3fff"/><stop offset=".8" stop-color="#e621ff"/><stop offset=".9" stop-color="#fe0bff"/><stop offset="1" stop-color="#ff00ff"/></linearGradient>
<linearGradient id="g1_99" gradientUnits="userSpaceOnUse" x1="644.1" y1="0" x2="755.0" y2="0"><stop offset="0" stop-color="#ce3dff"/><stop offset=".1" stop-color="#c34bff"/><stop offset=".2" stop-color="#b858ff"/><stop offset=".3" stop-color="#a562ff"/><stop offset=".4" stop-color="#926cff"/><stop offset=".5" stop-color="#7f76ff"/><stop offset=".6" stop-color="#677eff"/><stop offset=".7" stop-color="#4d87ff"/><stop offset=".8" stop-color="#2f8fff"/><stop offset=".9" stop-color="#1898ff"/><stop offset="1" stop-color="#07a0ff"/></linearGradient>
<linearGradient id="g1_98" gradientUnits="userSpaceOnUse" x1="642.2" y1="0" x2="753.1" y2="0"><stop offset="0" stop-color="#cb41ff"/><stop offset=".1" stop-color="#c14eff"/><stop offset=".2" stop-color="#b45aff"/><stop offset=".3" stop-color="#a263ff"/><stop offset=".4" stop-color="#916cff"/><stop offset=".5" stop-color="#7f76ff"/><stop offset=".6" stop-color="#687eff"/><stop offset=".7" stop-color="#5086ff"/><stop offset=".8" stop-color="#348eff"/><stop offset=".9" stop-color="#1c96ff"/><stop offset="1" stop-color="#0c9eff"/></linearGradient>
<linearGradient id="g1_97" gradientUnits="userSpaceOnUse" x1="640.3" y1="0" x2="751.2" y2="0"><stop offset="0" stop-color="#c845ff"/><stop offset=".1" stop-color="#be51ff"/><stop offset=".2" stop-color="#b15bff"/><stop offset=".3" stop-color="#a064ff"/><stop offset=".4" stop-color="#8f6dff"/><stop offset=".5" stop-color="#7e76ff"/><stop offset=".6" stop-color="#697eff"/><stop offset=".7" stop-color="#5385ff"/><stop offset=".8" stop-color="#398cff"/><stop offset=".9" stop-color="#2094ff"/><stop offset="1" stop-color="#119bff"/></linearGradient>
<linearGradient id="g1_96" gradientUnits="userSpaceOnUse" x1="638.4" y1="0" x2="749.3" y2="0"><stop offset="0" stop-color="#c549ff"/><stop offset=".1" stop-color="#bc54ff"/><stop offset=".2" stop-color="#ae5dff"/><stop offset=".3" stop-color="#9e65ff"/><stop offset=".4" stop-color="#8e6eff"/><stop offset=".5" stop-color="#7e76ff"/><stop offset=".6" stop-color="#6b7dff"/><stop offset=".7" stop-color="#5684ff"/><stop offset=".8" stop-color="#3e8bff"/><stop offset=".9" stop-color="#2592ff"/><stop offset="1" stop-color="#1599ff"/></linearGradient>
<linearGradient id="g1_95" gradientUnits="userSpaceOnUse" x1="636.5" y1="0" x2="747.4" y2="0"><stop offset="0" stop-color="#c24dff"/><stop offset=".1" stop-color="#b957ff"/><stop offset=".2" stop-color="#ab5fff"/><stop offset=".3" stop-color="#9c66ff"/><stop offset=".4" stop-color="#8d6eff"/><stop offset=".5" stop-color="#7e76ff"/><stop offset=".6" stop-color="#6c7dff"/><stop offset=".7" stop-color="#5983ff"/><stop offset=".8" stop-color="#438aff"/><stop offset=".9" stop-color="#2b90ff"/><stop offset="1" stop-color="#1a97ff"/></linearGradient>
<linearGradient id="g1_94" gradientUnits="userSpaceOnUse" x1="634.6" y1="0" x2="745.5" y2="0"><stop offset="0" stop-color="#bf51ff"/><stop offset=".1" stop-color="#b559ff"/><stop offset=".2" stop-color="#a761ff"/><stop offset=".3" stop-color="#9a68ff"/><stop offset=".4" stop-color="#8c6fff"/><stop offset=".5" stop-color="#7e76ff"/><stop offset=".6" stop-color="#6d7cff"/><stop offset=".7" stop-color="#5b82ff"/><stop offset=".8" stop-color="#4888ff"/><stop offset=".9" stop-color="#328eff"/><stop offset="1" stop-color="#1f94ff"/></linearGradient>
<linearGradient id="g1_93" gradientUnits="userSpaceOnUse" x1="632.6" y1="0" x2="743.5" y2="0"><stop offset="0" stop-color="#bc55ff"/><stop offset=".1" stop-color="#b15cff"/><stop offset=".2" stop-color="#a462ff"/><stop offset=".3" stop-color="#9769ff"/><stop offset=".4" stop-color="#8b6fff"/><stop offset=".5" stop-color="#7e76ff"/><stop offset=".6" stop-color="#6f7cff"/><stop offset=".7" stop-color="#5e81ff"/><stop offset=".8" stop-color="#4d87ff"/><stop offset=".9" stop-color="#398cff"/><stop offset="1" stop-color="#2592ff"/></linearGradient>
<linearGradient id="g1_92" gradientUnits="userSpaceOnUse" x1="630.7" y1="0" x2="741.6" y2="0"><stop offset="0" stop-color="#b858ff"/><stop offset=".1" stop-color="#ac5eff"/><stop offset=".2" stop-color="#a164ff"/><stop offset=".3" stop-color="#956aff"/><stop offset=".4" stop-color="#8a70ff"/><stop offset=".5" stop-color="#7e76ff"/><stop offset=".6" stop-color="#707bff"/><stop offset=".7" stop-color="#6180ff"/><stop offset=".8" stop-color="#5285ff"/><stop offset=".9" stop-color="#408bff"/><stop offset="1" stop-color="#2d90ff"/></linearGradient>
<linearGradient id="g1_91" gradientUnits="userSpaceOnUse" x1="628.8" y1="0" x2="739.7" y2="0"><stop offset="0" stop-color="#b25bff"/><stop offset=".1" stop-color="#a860ff"/><stop offset=".2" stop-color="#9d66ff"/><stop offset=".3" stop-color="#936bff"/><stop offset=".4" stop-color="#8871ff"/><stop offset=".5" stop-color="#7e76ff"/><stop offset=".6" stop-color="#717bff"/><stop offset=".7" stop-color="#647fff"/><stop offset=".8" stop-color="#5684ff"/><stop offset=".9" stop-color="#4789ff"/><stop offset="1" stop-color="#368dff"/></linearGradient>
<linearGradient id="g1_90" gradientUnits="userSpaceOnUse" x1="626.9" y1="0" x2="737.8" y2="0"><stop offset="0" stop-color="#ad5eff"/><stop offset=".1" stop-color="#a363ff"/><stop offset=".2" stop-color="#9a67ff"/><stop offset=".3" stop-color="#916cff"/><stop offset=".4" stop-color="#8771ff"/><stop offset=".5" stop-color="#7e76ff"/><stop offset=".6" stop-color="#737aff"/><stop offset=".7" stop-color="#667fff"/><stop offset=".8" stop-color="#5a83ff"/><stop offset=".9" stop-color="#4d87ff"/><stop offset="1" stop-color="#3e8bff"/></linearGradient>
<linearGradient id="g1_89" gradientUnits="userSpaceOnUse" x1="625.0" y1="0" x2="735.9" y2="0"><stop offset="0" stop-color="#a761ff"/><stop offset=".1" stop-color="#9f65ff"/><stop offset=".2" stop-color="#9769ff"/><stop offset=".3" stop-color="#8e6dff"/><stop offset=".4" stop-color="#8672ff"/><stop offset=".5" stop-color="#7e76ff"/><stop offset=".6" stop-color="#747aff"/><stop offset=".7" stop-color="#697eff"/><stop offset=".8" stop-color="#5e81ff"/><stop offset=".9" stop-color="#5385ff"/><stop offset="1" stop-color="#4789ff"/></linearGradient>
<linearGradient id="g1_88" gradientUnits="userSpaceOnUse" x1="623.1" y1="0" x2="734.0" y2="0"><stop offset="0" stop-color="#a263ff"/><stop offset=".1" stop-color="#9b67ff"/><stop offset=".2" stop-color="#936bff"/><stop offset=".3" stop-color="#8c6fff"/><stop offset=".4" stop-color="#8572ff"/><stop offset=".5" stop-color="#7e76ff"/><stop offset=".6" stop-color="#757aff"/><stop offset=".7" stop-color="#6c7dff"/><stop offset=".8" stop-color="#6280ff"/><stop offset=".9" stop-color="#5983ff"/><stop offset="1" stop-color="#4f86ff"/></linearGradient>
<linearGradient id="g1_87" gradientUnits="userSpaceOnUse" x1="621.1" y1="0" x2="732.0" y2="0"><stop offset="0" stop-color="#9c66ff"/><stop offset=".1" stop-color="#9669ff"/><stop offset=".2" stop-color="#906dff"/><stop offset=".3" stop-color="#8a70ff"/><stop offset=".4" stop-color="#8473ff"/><stop offset=".5" stop-color="#7e76ff"/><stop offset=".6" stop-color="#7779ff"/><stop offset=".7" stop-color="#6f7cff"/><stop offset=".8" stop-color="#667fff"/><stop offset=".9" stop-color="#5e81ff"/><stop offset="1" stop-color="#5684ff"/></linearGradient>
<linearGradient id="g1_86" gradientUnits="userSpaceOnUse" x1="619.2" y1="0" x2="730.1" y2="0"><stop offset="0" stop-color="#9769ff"/><stop offset=".1" stop-color="#926cff"/><stop offset=".2" stop-color="#8d6eff"/><stop offset=".3" stop-color="#8871ff"/><stop offset=".4" stop-color="#8374ff"/><stop offset=".5" stop-color="#7e76ff"/><stop offset=".6" stop-color="#7879ff"/><stop offset=".7" stop-color="#717bff"/><stop offset=".8" stop-color="#6b7dff"/><stop offset=".9" stop-color="#647fff"/><stop offset="1" stop-color="#5d82ff"/></linearGradient>
<linearGradient id="g1_85" gradientUnits="userSpaceOnUse" x1="617.3" y1="0" x2="728.2" y2="0"><stop offset="0" stop-color="#916cff"/><stop offset=".1" stop-color="#8d6eff"/><stop offset=".2" stop-color="#8a70ff"/><stop offset=".3" stop-color="#8672ff"/><stop offset=".4" stop-color="#8274ff"/><stop offset=".5" stop-color="#7e76ff"/><stop offset=".6" stop-color="#7978ff"/><stop offset=".7" stop-color="#747aff"/><stop offset=".8" stop-color="#6f7cff"/><stop offset=".9" stop-color="#697eff"/><stop offset="1" stop-color="#647fff"/></linearGradient>
<linearGradient id="g1_84" gradientUnits="userSpaceOnUse" x1="615.4" y1="0" x2="726.3" y2="0"><stop offset="0" stop-color="#8c6fff"/><stop offset=".1" stop-color="#8970ff"/><stop offset=".2" stop-color="#8672ff"/><stop offset=".3" stop-color="#8373ff"/><stop offset=".4" stop-color="#8075ff"/><stop offset=".5" stop-color="#7d76ff"/><stop offset=".6" stop-color="#7b78ff"/><stop offset=".7" stop-color="#7779ff"/><stop offset=".8" stop-color="#737aff"/><stop offset=".9" stop-color="#6f7cff"/><stop offset="1" stop-color="#6b7dff"/></linearGradient>
<linearGradient id="g1_83" gradientUnits="userSpaceOnUse" x1="613.5" y1="0" x2="724.4" y2="0"><stop offset="0" stop-color="#8772ff"/><stop offset=".1" stop-color="#8572ff"/><stop offset=".2" stop-color="#8373ff"/><stop offset=".3" stop-color="#8174ff"/><stop offset=".4" stop-color="#7f75ff"/><stop offset=".5" stop-color="#7d76ff"/><stop offset=".6" stop-color="#7c77ff"/><stop offset=".7" stop-color="#7978ff"/><stop offset=".8" stop-color="#7779ff"/><stop offset=".9" stop-color="#757aff"/><stop offset="1" stop-color="#727bff"/></linearGradient>
<linearGradient id="g1_82" gradientUnits="userSpaceOnUse" x1="611.6" y1="0" x2="722.5" y2="0"><stop offset="0" stop-color="#8174ff"/><stop offset=".1" stop-color="#8075ff"/><stop offset=".2" stop-color="#8075ff"/><stop offset=".3" stop-color="#7f76ff"/><stop offset=".4" stop-color="#7e76ff"/><stop offset=".5" stop-color="#7d76ff"/><stop offset=".6" stop-color="#7d77ff"/><stop offset=".7" stop-color="#7c77ff"/><stop offset=".8" stop-color="#7b78ff"/><stop offset=".9" stop-color="#7a78ff"/><stop offset="1" stop-color="#7978ff"/></linearGradient>
<linearGradient id="g1_81" gradientUnits="userSpaceOnUse" x1="609.6" y1="0" x2="720.5" y2="0"><stop offset="0" stop-color="#7c77ff"/><stop offset=".1" stop-color="#7c77ff"/><stop offset=".2" stop-color="#7c77ff"/><stop offset=".3" stop-color="#7d77ff"/><stop offset=".4" stop-color="#7d77ff"/><stop offset=".5" stop-color="#7d76ff"/><stop offset=".6" stop-color="#7e76ff"/><stop offset=".7" stop-color="#7e76ff"/><stop offset=".8" stop-color="#7e76ff"/><stop offset=".9" stop-color="#7e76ff"/><stop offset="1" stop-color="#7f76ff"/></linearGradient>
<linearGradient id="g1_80" gradientUnits="userSpaceOnUse" x1="607.7" y1="0" x2="718.6" y2="0"><stop offset="0" stop-color="#757aff"/><stop offset=".1" stop-color="#7779ff"/><stop offset=".2" stop-color="#7978ff"/><stop offset=".3" stop-color="#7a78ff"/><stop offset=".4" stop-color="#7c77ff"/><stop offset=".5" stop-color="#7d76ff"/><stop offset=".6" stop-color="#7f76ff"/><stop offset=".7" stop-color="#8075ff"/><stop offset=".8" stop-color="#8174ff"/><stop offset=".9" stop-color="#8374ff"/><stop offset="1" stop-color="#8473ff"/></linearGradient>
<linearGradient id="g1_79" gradientUnits="userSpaceOnUse" x1="605.8" y1="0" x2="716.7" y2="0"><stop offset="0" stop-color="#6e7cff"/><stop offset=".1" stop-color="#717bff"/><stop offset=".2" stop-color="#747aff"/><stop offset=".3" stop-color="#7779ff"/><stop offset=".4" stop-color="#7b78ff"/><stop offset=".5" stop-color="#7d76ff"/><stop offset=".6" stop-color="#8075ff"/><stop offset=".7" stop-color="#8274ff"/><stop offset=".8" stop-color="#8473ff"/><stop offset=".9" stop-color="#8771ff"/><stop offset="1" stop-color="#8970ff"/></linearGradient>
<linearGradient id="g1_78" gradientUnits="userSpaceOnUse" x1="603.9" y1="0" x2="714.8" y2="0"><stop offset="0" stop-color="#667fff"/><stop offset=".1" stop-color="#6b7dff"/><stop offset=".2" stop-color="#707bff"/><stop offset=".3" stop-color="#747aff"/><stop offset=".4" stop-color="#7978ff"/><stop offset=".5" stop-color="#7d76ff"/><stop offset=".6" stop-color="#8175ff"/><stop offset=".7" stop-color="#8473ff"/><stop offset=".8" stop-color="#8871ff"/><stop offset=".9" stop-color="#8b6fff"/><stop offset="1" stop-color="#8f6dff"/></linearGradient>
<linearGradient id="g1_77" gradientUnits="userSpaceOnUse" x1="602.0" y1="0" x2="712.9" y2="0"><stop offset="0" stop-color="#5f81ff"/><stop offset=".1" stop-color="#657fff"/><stop offset=".2" stop-color="#6b7dff"/><stop offset=".3" stop-color="#727bff"/><stop offset=".4" stop-color="#7879ff"/><stop offset=".5" stop-color="#7d77ff"/><stop offset=".6" stop-color="#8274ff"/><stop offset=".7" stop-color="#8672ff"/><stop offset=".8" stop-color="#8b6fff"/><stop offset=".9" stop-color="#8f6dff"/><stop offset="1" stop-color="#946bff"/></linearGradient>
<linearGradient id="g1_76" gradientUnits="userSpaceOnUse" x1="600.1" y1="0" x2="711.0" y2="0"><stop offset="0" stop-color="#5883ff"/><stop offset=".1" stop-color="#6081ff"/><stop offset=".2" stop-color="#677eff"/><stop offset=".3" stop-color="#6f7cff"/><stop offset=".4" stop-color="#7679ff"/><stop offset=".5" stop-color="#7d77ff"/><stop offset=".6" stop-color="#8374ff"/><stop offset=".7" stop-color="#8871ff"/><stop offset=".8" stop-color="#8e6eff"/><stop offset=".9" stop-color="#946bff"/><stop offset="1" stop-color="#9968ff"/></linearGradient>
<linearGradient id="g1_75" gradientUnits="userSpaceOnUse" x1="598.1" y1="0" x2="709.0" y2="0"><stop offset="0" stop-color="#5186ff"/><stop offset=".1" stop-color="#5a83ff"/><stop offset=".2" stop-color="#6380ff"/><stop offset=".3" stop-color="#6c7dff"/><stop offset=".4" stop-color="#757aff"/><stop offset=".5" stop-color="#7d77ff"/><stop offset=".6" stop-color="#8473ff"/><stop offset=".7" stop-color="#8a70ff"/><stop offset=".8" stop-color="#916cff"/><stop offset=".9" stop-color="#9869ff"/><stop offset="1" stop-color="#9f65ff"/></linearGradient>
<linearGradient id="g1_74" gradientUnits="userSpaceOnUse" x1="596.2" y1="0" x2="707.1" y2="0"><stop offset="0" stop-color="#4988ff"/><stop offset=".1" stop-color="#5485ff"/><stop offset=".2" stop-color="#5e81ff"/><stop offset=".3" stop-color="#697eff"/><stop offset=".4" stop-color="#737aff"/><stop offset=".5" stop-color="#7d77ff"/><stop offset=".6" stop-color="#8573ff"/><stop offset=".7" stop-color="#8c6fff"/><stop offset=".8" stop-color="#946aff"/><stop offset=".9" stop-color="#9c66ff"/><stop offset="1" stop-color="#a462ff"/></linearGradient>
<linearGradient id="g1_73" gradientUnits="userSpaceOnUse" x1="594.3" y1="0" x2="705.2" y2="0"><stop offset="0" stop-color="#408bff"/><stop offset=".1" stop-color="#4e87ff"/><stop offset=".2" stop-color="#5a83ff"/><stop offset=".3" stop-color="#667fff"/><stop offset=".4" stop-color="#727bff"/><stop offset=".5" stop-color="#7d77ff"/><stop offset=".6" stop-color="#8672ff"/><stop offset=".7" stop-color="#8e6dff"/><stop offset=".8" stop-color="#9769ff"/><stop offset=".9" stop-color="#a064ff"/><stop offset="1" stop-color="#a960ff"/></linearGradient>
<linearGradient id="g1_72" gradientUnits="userSpaceOnUse" x1="592.4" y1="0" x2="703.3" y2="0"><stop offset="0" stop-color="#378dff"/><stop offset=".1" stop-color="#4789ff"/><stop offset=".2" stop-color="#5684ff"/><stop offset=".3" stop-color="#6380ff"/><stop offset=".4" stop-color="#707bff"/><stop offset=".5" stop-color="#7d77ff"/><stop offset=".6" stop-color="#8772ff"/><stop offset=".7" stop-color="#916cff"/><stop offset=".8" stop-color="#9b67ff"/><stop offset=".9" stop-color="#a562ff"/><stop offset="1" stop-color="#ae5dff"/></linearGradient>
<linearGradient id="g1_71" gradientUnits="userSpaceOnUse" x1="590.5" y1="0" x2="701.4" y2="0"><stop offset="0" stop-color="#2e8fff"/><stop offset=".1" stop-color="#408aff"/><stop offset=".2" stop-color="#5186ff"/><stop offset=".3" stop-color="#6081ff"/><stop offset=".4" stop-color="#6f7cff"/><stop offset=".5" stop-color="#7c77ff"/><stop offset=".6" stop-color="#8871ff"/><stop offset=".7" stop-color="#936bff"/><stop offset=".8" stop-color="#9e66ff"/><stop offset=".9" stop-color="#a960ff"/><stop offset="1" stop-color="#b45aff"/></linearGradient>
<linearGradient id="g1_70" gradientUnits="userSpaceOnUse" x1="588.5" y1="0" x2="699.4" y2="0"><stop offset="0" stop-color="#2592ff"/><stop offset=".1" stop-color="#398cff"/><stop offset=".2" stop-color="#4d87ff"/><stop offset=".3" stop-color="#5d82ff"/><stop offset=".4" stop-color="#6d7cff"/><stop offset=".5" stop-color="#7c77ff"/><stop offset=".6" stop-color="#8970ff"/><stop offset=".7" stop-color="#956aff"/><stop offset=".8" stop-color="#a164ff"/><stop offset=".9" stop-color="#ad5eff"/><stop offset="1" stop-color="#b957ff"/></linearGradient>
<linearGradient id="g1_69" gradientUnits="userSpaceOnUse" x1="586.6" y1="0" x2="697.5" y2="0"><stop offset="0" stop-color="#2094ff"/><stop offset=".1" stop-color="#328eff"/><stop offset=".2" stop-color="#4789ff"/><stop offset=".3" stop-color="#5a83ff"/><stop offset=".4" stop-color="#6b7dff"/><stop offset=".5" stop-color="#7c77ff"/><stop offset=".6" stop-color="#8a70ff"/><stop offset=".7" stop-color="#9769ff"/><stop offset=".8" stop-color="#a462ff"/><stop offset=".9" stop-color="#b15bff"/><stop offset="1" stop-color="#bc54ff"/></linearGradient>
<linearGradient id="g1_68" gradientUnits="userSpaceOnUse" x1="584.7" y1="0" x2="695.6" y2="0"><stop offset="0" stop-color="#1b97ff"/><stop offset=".1" stop-color="#2b90ff"/><stop offset=".2" stop-color="#428aff"/><stop offset=".3" stop-color="#5784ff"/><stop offset=".4" stop-color="#6a7dff"/><stop offset=".5" stop-color="#7c77ff"/><stop offset=".6" stop-color="#8b6fff"/><stop offset=".7" stop-color="#9968ff"/><stop offset=".8" stop-color="#a761ff"/><stop offset=".9" stop-color="#b559ff"/><stop offset="1" stop-color="#bf50ff"/></linearGradient>
<linearGradient id="g1_67" gradientUnits="userSpaceOnUse" x1="582.8" y1="0" x2="693.7" y2="0"><stop offset="0" stop-color="#1599ff"/><stop offset=".1" stop-color="#2492ff"/><stop offset=".2" stop-color="#3d8bff"/><stop offset=".3" stop-color="#5485ff"/><stop offset=".4" stop-color="#687eff"/><stop offset=".5" stop-color="#7c77ff"/><stop offset=".6" stop-color="#8c6fff"/><stop offset=".7" stop-color="#9b67ff"/><stop offset=".8" stop-color="#aa5fff"/><stop offset=".9" stop-color="#ba57ff"/><stop offset="1" stop-color="#c24cff"/></linearGradient>
<linearGradient id="g1_66" gradientUnits="userSpaceOnUse" x1="580.9" y1="0" x2="691.8" y2="0"><stop offset="0" stop-color="#109bff"/><stop offset=".1" stop-color="#2094ff"/><stop offset=".2" stop-color="#378dff"/><stop offset=".3" stop-color="#5186ff"/><stop offset=".4" stop-color="#677eff"/><stop offset=".5" stop-color="#7c77ff"/><stop offset=".6" stop-color="#8d6eff"/><stop offset=".7" stop-color="#9d66ff"/><stop offset=".8" stop-color="#ad5dff"/><stop offset=".9" stop-color="#bc54ff"/><stop offset="1" stop-color="#c548ff"/></linearGradient>
<linearGradient id="g1_65" gradientUnits="userSpaceOnUse" x1="579.0" y1="0" x2="689.9" y2="0"><stop offset="0" stop-color="#0b9eff"/><stop offset=".1" stop-color="#1c96ff"/><stop offset=".2" stop-color="#328eff"/><stop offset=".3" stop-color="#4e87ff"/><stop offset=".4" stop-color="#657fff"/><stop offset=".5" stop-color="#7c77ff"/><stop offset=".6" stop-color="#8e6eff"/><stop offset=".7" stop-color="#9f65ff"/><stop offset=".8" stop-color="#b15cff"/><stop offset=".9" stop-color="#bf51ff"/><stop offset="1" stop-color="#c844ff"/></linearGradient>
<linearGradient id="g1_64" gradientUnits="userSpaceOnUse" x1="577.0" y1="0" x2="687.9" y2="0"><stop offset="0" stop-color="#06a0ff"/><stop offset=".1" stop-color="#1898ff"/><stop offset=".2" stop-color="#2d90ff"/><stop offset=".3" stop-color="#4b88ff"/><stop offset=".4" stop-color="#647fff"/><stop offset=".5" stop-color="#7c77ff"/><stop offset=".6" stop-color="#8f6dff"/><stop offset=".7" stop-color="#a164ff"/><stop offset=".8" stop-color="#b45aff"/><stop offset=".9" stop-color="#c14eff"/><stop offset="1" stop-color="#cb41ff"/></linearGradient>
<linearGradient id="g1_63" gradientUnits="userSpaceOnUse" x1="575.1" y1="0" x2="686.0" y2="0"><stop offset="0" stop-color="#01a3ff"/><stop offset=".1" stop-color="#139aff"/><stop offset=".2" stop-color="#2791ff"/><stop offset=".3" stop-color="#4789ff"/><stop offset=".4" stop-color="#6280ff"/><stop offset=".5" stop-color="#7c77ff"/><stop offset=".6" stop-color="#906dff"/><stop offset=".7" stop-color="#a363ff"/><stop offset=".8" stop-color="#b758ff"/><stop offset=".9" stop-color="#c34bff"/><stop offset="1" stop-color="#ce3dff"/></linearGradient>
<linearGradient id="g1_62" gradientUnits="userSpaceOnUse" x1="573.2" y1="0" x2="684.1" y2="0"><stop offset="0" stop-color="#00a6ff"/><stop offset=".1" stop-color="#0f9cff"/><stop offset=".2" stop-color="#2393ff"/><stop offset=".3" stop-color="#438aff"/><stop offset=".4" stop-color="#6180ff"/><stop offset=".5" stop-color="#7c77ff"/><stop offset=".6" stop-color="#916cff"/><stop offset=".7" stop-color="#a562ff"/><stop offset=".8" stop-color="#ba57ff"/><stop offset=".9" stop-color="#c548ff"/><stop offset="1" stop-color="#d139ff"/></linearGradient>
<linearGradient id="g1_61" gradientUnits="userSpaceOnUse" x1="571.3" y1="0" x2="682.2" y2="0"><stop offset="0" stop-color="#00a9ff"/><stop offset=".1" stop-color="#0b9eff"/><stop offset=".2" stop-color="#2094ff"/><stop offset=".3" stop-color="#408bff"/><stop offset=".4" stop-color="#5f81ff"/><stop offset=".5" stop-color="#7c77ff"/><stop offset=".6" stop-color="#926cff"/><stop offset=".7" stop-color="#a760ff"/><stop offset=".8" stop-color="#bc55ff"/><stop offset=".9" stop-color="#c845ff"/><stop offset="1" stop-color="#d435ff"/></linearGradient>
<linearGradient id="g1_60" gradientUnits="userSpaceOnUse" x1="569.4" y1="0" x2="680.3" y2="0"><stop offset="0" stop-color="#00adff"/><stop offset=".1" stop-color="#07a0ff"/><stop offset=".2" stop-color="#1d96ff"/><stop offset=".3" stop-color="#3c8cff"/><stop offset=".4" stop-color="#5e81ff"/><stop offset=".5" stop-color="#7c77ff"/><stop offset=".6" stop-color="#936bff"/><stop offset=".7" stop-color="#a95fff"/><stop offset=".8" stop-color="#be52ff"/><stop offset=".9" stop-color="#ca42ff"/><stop offset="1" stop-color="#d731ff"/></linearGradient>
<linearGradient id="g1_59" gradientUnits="userSpaceOnUse" x1="567.5" y1="0" x2="678.4" y2="0"><stop offset="0" stop-color="#00b0ff"/><stop offset=".1" stop-color="#03a2ff"/><stop offset=".2" stop-color="#1997ff"/><stop offset=".3" stop-color="#398dff"/><stop offset=".4" stop-color="#5c82ff"/><stop offset=".5" stop-color="#7c77ff"/><stop offset=".6" stop-color="#936bff"/><stop offset=".7" stop-color="#ab5eff"/><stop offset=".8" stop-color="#bf50ff"/><stop offset=".9" stop-color="#cc3fff"/><stop offset="1" stop-color="#da2eff"/></linearGradient>
<linearGradient id="g1_58" gradientUnits="userSpaceOnUse" x1="565.5" y1="0" x2="676.4" y2="0"><stop offset="0" stop-color="#00b4ff"/><stop offset=".1" stop-color="#00a4ff"/><stop offset=".2" stop-color="#1699ff"/><stop offset=".3" stop-color="#358eff"/><stop offset=".4" stop-color="#5a83ff"/><stop offset=".5" stop-color="#7b77ff"/><stop offset=".6" stop-color="#946aff"/><stop offset=".7" stop-color="#ae5dff"/><stop offset=".8" stop-color="#c14eff"/><stop offset=".9" stop-color="#cf3cff"/><stop offset="1" stop-color="#dd2aff"/></linearGradient>
<linearGradient id="g1_57" gradientUnits="userSpaceOnUse" x1="563.6" y1="0" x2="674.5" y2="0"><stop offset="0" stop-color="#00b8ff"/><stop offset=".1" stop-color="#00a7ff"/><stop offset=".2" stop-color="#129bff"/><stop offset=".3" stop-color="#308fff"/><stop offset=".4" stop-color="#5883ff"/><stop offset=".5" stop-color="#7b78ff"/><stop offset=".6" stop-color="#956aff"/><stop offset=".7" stop-color="#b05cff"/><stop offset=".8" stop-color="#c34bff"/><stop offset=".9" stop-color="#d138ff"/><stop offset="1" stop-color="#df28ff"/></linearGradient>
<linearGradient id="g1_56" gradientUnits="userSpaceOnUse" x1="561.7" y1="0" x2="672.6" y2="0"><stop offset="0" stop-color="#00bcff"/><stop offset=".1" stop-color="#00abff"/><stop offset=".2" stop-color="#0f9cff"/><stop offset=".3" stop-color="#2c90ff"/><stop offset=".4" stop-color="#5684ff"/><stop offset=".5" stop-color="#7b78ff"/><stop offset=".6" stop-color="#9669ff"/><stop offset=".7" stop-color="#b25bff"/><stop offset=".8" stop-color="#c549ff"/><stop offset=".9" stop-color="#d435ff"/><stop offset="1" stop-color="#e225ff"/></linearGradient>
<linearGradient id="g1_55" gradientUnits="userSpaceOnUse" x1="559.8" y1="0" x2="670.7" y2="0"><stop offset="0" stop-color="#00c0ff"/><stop offset=".1" stop-color="#00aeff"/><stop offset=".2" stop-color="#0b9eff"/><stop offset=".3" stop-color="#2791ff"/><stop offset=".4" stop-color="#5485ff"/><stop offset=".5" stop-color="#7a78ff"/><stop offset=".6" stop-color="#9769ff"/><stop offset=".7" stop-color="#b45aff"/><stop offset=".8" stop-color="#c747ff"/><stop offset=".9" stop-color="#d632ff"/><stop offset="1" stop-color="#e522ff"/></linearGradient>
<linearGradient id="g1_54" gradientUnits="userSpaceOnUse" x1="557.9" y1="0" x2="668.8" y2="0"><stop offset="0" stop-color="#00c5ff"/><stop offset=".1" stop-color="#00b1ff"/><stop offset=".2" stop-color="#07a0ff"/><stop offset=".3" stop-color="#2393ff"/><stop offset=".4" stop-color="#5285ff"/><stop offset=".5" stop-color="#7a78ff"/><stop offset=".6" stop-color="#9869ff"/><stop offset=".7" stop-color="#b659ff"/><stop offset=".8" stop-color="#c844ff"/><stop offset=".9" stop-color="#d92fff"/><stop offset="1" stop-color="#e820ff"/></linearGradient>
<linearGradient id="g1_53" gradientUnits="userSpaceOnUse" x1="556.0" y1="0" x2="666.9" y2="0"><stop offset="0" stop-color="#00c9ff"/><stop offset=".1" stop-color="#00b5ff"/><stop offset=".2" stop-color="#03a2ff"/><stop offset=".3" stop-color="#2094ff"/><stop offset=".4" stop-color="#5086ff"/><stop offset=".5" stop-color="#7978ff"/><stop offset=".6" stop-color="#9968ff"/><stop offset=".7" stop-color="#b858ff"/><stop offset=".8" stop-color="#ca42ff"/><stop offset=".9" stop-color="#db2bff"/><stop offset="1" stop-color="#eb1dff"/></linearGradient>
<linearGradient id="g1_52" gradientUnits="userSpaceOnUse" x1="554.0" y1="0" x2="664.9" y2="0"><stop offset="0" stop-color="#00ceff"/><stop offset=".1" stop-color="#00b8ff"/><stop offset=".2" stop-color="#00a4ff"/><stop offset=".3" stop-color="#1e95ff"/><stop offset=".4" stop-color="#4e87ff"/><stop offset=".5" stop-color="#7978ff"/><stop offset=".6" stop-color="#9a68ff"/><stop offset=".7" stop-color="#ba57ff"/><stop offset=".8" stop-color="#cc3fff"/><stop offset=".9" stop-color="#de29ff"/><stop offset="1" stop-color="#ee1aff"/></linearGradient>
<linearGradient id="g1_51" gradientUnits="userSpaceOnUse" x1="552.1" y1="0" x2="663.0" y2="0"><stop offset="0" stop-color="#00d2ff"/><stop offset=".1" stop-color="#00bbff"/><stop offset=".2" stop-color="#00a6ff"/><stop offset=".3" stop-color="#1c96ff"/><stop offset=".4" stop-color="#4c87ff"/><stop offset=".5" stop-color="#7978ff"/><stop offset=".6" stop-color="#9b67ff"/><stop offset=".7" stop-color="#bb55ff"/><stop offset=".8" stop-color="#ce3dff"/><stop offset=".9" stop-color="#e027ff"/><stop offset="1" stop-color="#f018ff"/></linearGradient>
<linearGradient id="g1_50" gradientUnits="userSpaceOnUse" x1="550.2" y1="0" x2="661.1" y2="0"><stop offset="0" stop-color="#00d6ff"/><stop offset=".1" stop-color="#00bdff"/><stop offset=".2" stop-color="#00a8ff"/><stop offset=".3" stop-color="#1a97ff"/><stop offset=".4" stop-color="#4a88ff"/><stop offset=".5" stop-color="#7978ff"/><stop offset=".6" stop-color="#9c67ff"/><stop offset=".7" stop-color="#bc54ff"/><stop offset=".8" stop-color="#cf3bff"/><stop offset=".9" stop-color="#e225ff"/><stop offset="1" stop-color="#f316ff"/></linearGradient>
<linearGradient id="g1_49" gradientUnits="userSpaceOnUse" x1="548.3" y1="0" x2="659.2" y2="0"><stop offset="0" stop-color="#00d9ff"/><stop offset=".1" stop-color="#00bfff"/><stop offset=".2" stop-color="#00a9ff"/><stop offset=".3" stop-color="#1898ff"/><stop offset=".4" stop-color="#4988ff"/><stop offset=".5" stop-color="#7978ff"/><stop offset=".6" stop-color="#9d66ff"/><stop offset=".7" stop-color="#bd52ff"/><stop offset=".8" stop-color="#d139ff"/><stop offset=".9" stop-color="#e424ff"/><stop offset="1" stop-color="#f513ff"/></linearGradient>
<linearGradient id="g1_48" gradientUnits="userSpaceOnUse" x1="546.4" y1="0" x2="657.3" y2="0"><stop offset="0" stop-color="#00dcff"/><stop offset=".1" stop-color="#00c1ff"/><stop offset=".2" stop-color="#00aaff"/><stop offset=".3" stop-color="#1798ff"/><stop offset=".4" stop-color="#4888ff"/><stop offset=".5" stop-color="#7978ff"/><stop offset=".6" stop-color="#9e65ff"/><stop offset=".7" stop-color="#bf51ff"/><stop offset=".8" stop-color="#d237ff"/><stop offset=".9" stop-color="#e522ff"/><stop offset="1" stop-color="#f711ff"/></linearGradient>
<linearGradient id="g1_47" gradientUnits="userSpaceOnUse" x1="544.5" y1="0" x2="655.4" y2="0"><stop offset="0" stop-color="#00ddff"/><stop offset=".1" stop-color="#00c2ff"/><stop offset=".2" stop-color="#00abff"/><stop offset=".3" stop-color="#1798ff"/><stop offset=".4" stop-color="#4888ff"/><stop offset=".5" stop-color="#7a78ff"/><stop offset=".6" stop-color="#9f65ff"/><stop offset=".7" stop-color="#c050ff"/><stop offset=".8" stop-color="#d435ff"/><stop offset=".9" stop-color="#e721ff"/><stop offset="1" stop-color="#f910ff"/></linearGradient>
<linearGradient id="g1_46" gradientUnits="userSpaceOnUse" x1="542.5" y1="0" x2="653.4" y2="0"><stop offset="0" stop-color="#00dfff"/><stop offset=".1" stop-color="#00c3ff"/><stop offset=".2" stop-color="#00abff"/><stop offset=".3" stop-color="#1799ff"/><stop offset=".4" stop-color="#4988ff"/><stop offset=".5" stop-color="#7b77ff"/><stop offset=".6" stop-color="#a164ff"/><stop offset=".7" stop-color="#c14eff"/><stop offset=".8" stop-color="#d533ff"/><stop offset=".9" stop-color="#e81fff"/><stop offset="1" stop-color="#fb0eff"/></linearGradient>
<linearGradient id="g1_45" gradientUnits="userSpaceOnUse" x1="540.6" y1="0" x2="651.5" y2="0"><stop offset="0" stop-color="#00dfff"/><stop offset=".1" stop-color="#00c4ff"/><stop offset=".2" stop-color="#00acff"/><stop offset=".3" stop-color="#1799ff"/><stop offset=".4" stop-color="#4a88ff"/><stop offset=".5" stop-color="#7c77ff"/><stop offset=".6" stop-color="#a263ff"/><stop offset=".7" stop-color="#c24dff"/><stop offset=".8" stop-color="#d632ff"/><stop offset=".9" stop-color="#ea1eff"/><stop offset="1" stop-color="#fc0dff"/></linearGradient>
<linearGradient id="g1_44" gradientUnits="userSpaceOnUse" x1="538.7" y1="0" x2="649.6" y2="0"><stop offset="0" stop-color="#00e0ff"/><stop offset=".1" stop-color="#00c4ff"/><stop offset=".2" stop-color="#00acff"/><stop offset=".3" stop-color="#1798ff"/><stop offset=".4" stop-color="#4b88ff"/><stop offset=".5" stop-color="#7d76ff"/><stop offset=".6" stop-color="#a363ff"/><stop offset=".7" stop-color="#c34cff"/><stop offset=".8" stop-color="#d830ff"/><stop offset=".9" stop-color="#eb1dff"/><stop offset="1" stop-color="#fe0bff"/></linearGradient>
<linearGradient id="g1_43" gradientUnits="userSpaceOnUse" x1="536.8" y1="0" x2="647.7" y2="0"><stop offset="0" stop-color="#00e1ff"/><stop offset=".1" stop-color="#00c5ff"/><stop offset=".2" stop-color="#00acff"/><stop offset=".3" stop-color="#1798ff"/><stop offset=".4" stop-color="#4b87ff"/><stop offset=".5" stop-color="#7e76ff"/><stop offset=".6" stop-color="#a462ff"/><stop offset=".7" stop-color="#c34bff"/><stop offset=".8" stop-color="#d92fff"/><stop offset=".9" stop-color="#ec1cff"/><stop offset="1" stop-color="#ff0aff"/></linearGradient>
<linearGradient id="g1_42" gradientUnits="userSpaceOnUse" x1="534.9" y1="0" x2="645.8" y2="0"><stop offset="0" stop-color="#00e2ff"/><stop offset=".1" stop-color="#00c5ff"/><stop offset=".2" stop-color="#00acff"/><stop offset=".3" stop-color="#1798ff"/><stop offset=".4" stop-color="#4c87ff"/><stop offset=".5" stop-color="#7e76ff"/><stop offset=".6" stop-color="#a562ff"/><stop offset=".7" stop-color="#c44aff"/><stop offset=".8" stop-color="#d92eff"/><stop offset=".9" stop-color="#ed1bff"/><stop offset="1" stop-color="#ff0aff"/></linearGradient>
<linearGradient id="g1_41" gradientUnits="userSpaceOnUse" x1="533.0" y1="0" x2="643.9" y2="0"><stop offset="0" stop-color="#00e3ff"/><stop offset=".1" stop-color="#00c6ff"/><stop offset=".2" stop-color="#00adff"/><stop offset=".3" stop-color="#1799ff"/><stop offset=".4" stop-color="#4c87ff"/><stop offset=".5" stop-color="#7f75ff"/><stop offset=".6" stop-color="#a661ff"/><stop offset=".7" stop-color="#c549ff"/><stop offset=".8" stop-color="#db2cff"/><stop offset=".9" stop-color="#ee1aff"/><stop offset="1" stop-color="#ff09ff"/></linearGradient>
<linearGradient id="g1_40" gradientUnits="userSpaceOnUse" x1="531.0" y1="0" x2="641.9" y2="0"><stop offset="0" stop-color="#00e4ff"/><stop offset=".1" stop-color="#00c7ff"/><stop offset=".2" stop-color="#00adff"/><stop offset=".3" stop-color="#1699ff"/><stop offset=".4" stop-color="#4d87ff"/><stop offset=".5" stop-color="#8075ff"/><stop offset=".6" stop-color="#a760ff"/><stop offset=".7" stop-color="#c648ff"/><stop offset=".8" stop-color="#db2bff"/><stop offset=".9" stop-color="#ef19ff"/><stop offset="1" stop-color="#ff09ff"/></linearGradient>
<linearGradient id="g1_39" gradientUnits="userSpaceOnUse" x1="529.1" y1="0" x2="640.0" y2="0"><stop offset="0" stop-color="#00e4ff"/><stop offset=".1" stop-color="#00c7ff"/><stop offset=".2" stop-color="#00adff"/><stop offset=".3" stop-color="#1699ff"/><stop offset=".4" stop-color="#4d87ff"/><stop offset=".5" stop-color="#8075ff"/><stop offset=".6" stop-color="#a860ff"/><stop offset=".7" stop-color="#c647ff"/><stop offset=".8" stop-color="#dc2bff"/><stop offset=".9" stop-color="#f018ff"/><stop offset="1" stop-color="#ff08ff"/></linearGradient>
<linearGradient id="g1_38" gradientUnits="userSpaceOnUse" x1="527.2" y1="0" x2="638.1" y2="0"><stop offset="0" stop-color="#00e4ff"/><stop offset=".1" stop-color="#00c7ff"/><stop offset=".2" stop-color="#00adff"/><stop offset=".3" stop-color="#1699ff"/><stop offset=".4" stop-color="#4d87ff"/><stop offset=".5" stop-color="#8075ff"/><stop offset=".6" stop-color="#a860ff"/><stop offset=".7" stop-color="#c647ff"/><stop offset=".8" stop-color="#dc2bff"/><stop offset=".9" stop-color="#f018ff"/><stop offset="1" stop-color="#ff08ff"/></linearGradient>
<linearGradient id="g1_37" gradientUnits="userSpaceOnUse" x1="525.3" y1="0" x2="636.2" y2="0"><stop offset="0" stop-color="#00e4ff"/><stop offset=".1" stop-color="#00c7ff"/><stop offset=".2" stop-color="#00adff"/><stop offset=".3" stop-color="#1699ff"/><stop offset=".4" stop-color="#4d87ff"/><stop offset=".5" stop-color="#8075ff"/><stop offset=".6" stop-color="#a860ff"/><stop offset=".7" stop-color="#c647ff"/><stop offset=".8" stop-color="#dc2bff"/><stop offset=".9" stop-color="#f018ff"/><stop offset="1" stop-color="#ff08ff"/></linearGradient>
<linearGradient id="g1_36" gradientUnits="userSpaceOnUse" x1="523.4" y1="0" x2="634.3" y2="0"><stop offset="0" stop-color="#00e4ff"/><stop offset=".1" stop-color="#00c7ff"/><stop offset=".2" stop-color="#00adff"/><stop offset=".3" stop-color="#1699ff"/><stop offset=".4" stop-color="#4d87ff"/><stop offset=".5" stop-color="#8075ff"/><stop offset=".6" stop-color="#a860ff"/><stop offset=".7" stop-color="#c647ff"/><stop offset=".8" stop-color="#dc2bff"/><stop offset=".9" stop-color="#f018ff"/><stop offset="1" stop-color="#ff08ff"/></linearGradient>
<linearGradient id="g1_35" gradientUnits="userSpaceOnUse" x1="521.5" y1="0" x2="632.4" y2="0"><stop offset="0" stop-color="#00e4ff"/><stop offset=".1" stop-color="#00c7ff"/><stop offset=".2" stop-color="#00adff"/><stop offset=".3" stop-color="#1699ff"/><stop offset=".4" stop-color="#4d87ff"/><stop offset=".5" stop-color="#8075ff"/><stop offset=".6" stop-color="#a860ff"/><stop offset=".7" stop-color="#c647ff"/><stop offset=".8" stop-color="#dc2bff"/><stop offset=".9" stop-color="#f018ff"/><stop offset="1" stop-color="#ff08ff"/></linearGradient>
<linearGradient id="g1_34" gradientUnits="userSpaceOnUse" x1="519.5" y1="0" x2="630.4" y2="0"><stop offset="0" stop-color="#00e4ff"/><stop offset=".1" stop-color="#00c7ff"/><stop offset=".2" stop-color="#00adff"/><stop offset=".3" stop-color="#1699ff"/><stop offset=".4" stop-color="#4d87ff"/><stop offset=".5" stop-color="#8075ff"/><stop offset=".6" stop-color="#a860ff"/><stop offset=".7" stop-color="#c647ff"/><stop offset=".8" stop-color="#dc2bff"/><stop offset=".9" stop-color="#f019ff"/><stop offset="1" stop-color="#ff08ff"/></linearGradient>
<linearGradient id="g1_33" gradientUnits="userSpaceOnUse" x1="517.6" y1="0" x2="628.5" y2="0"><stop offset="0" stop-color="#00e3ff"/><stop offset=".1" stop-color="#00c6ff"/><stop offset=".2" stop-color="#00adff"/><stop offset=".3" stop-color="#1798ff"/><stop offset=".4" stop-color="#4d87ff"/><stop offset=".5" stop-color="#8075ff"/><stop offset=".6" stop-color="#a860ff"/><stop offset=".7" stop-color="#c647ff"/><stop offset=".8" stop-color="#dc2bff"/><stop offset=".9" stop-color="#ef19ff"/><stop offset="1" stop-color="#ff09ff"/></linearGradient>
<linearGradient id="g1_32" gradientUnits="userSpaceOnUse" x1="515.7" y1="0" x2="626.6" y2="0"><stop offset="0" stop-color="#00e2ff"/><stop offset=".1" stop-color="#00c5ff"/><stop offset=".2" stop-color="#00acff"/><stop offset=".3" stop-color="#1798ff"/><stop offset=".4" stop-color="#4e87ff"/><stop offset=".5" stop-color="#8075ff"/><stop offset=".6" stop-color="#a760ff"/><stop offset=".7" stop-color="#c548ff"/><stop offset=".8" stop-color="#db2cff"/><stop offset=".9" stop-color="#ef19ff"/><stop offset="1" stop-color="#ff09ff"/></linearGradient>
<linearGradient id="g1_31" gradientUnits="userSpaceOnUse" x1="513.8" y1="0" x2="624.7" y2="0"><stop offset="0" stop-color="#00e1ff"/><stop offset=".1" stop-color="#00c4ff"/><stop offset=".2" stop-color="#00acff"/><stop offset=".3" stop-color="#1898ff"/><stop offset=".4" stop-color="#4e87ff"/><stop offset=".5" stop-color="#8075ff"/><stop offset=".6" stop-color="#a761ff"/><stop offset=".7" stop-color="#c548ff"/><stop offset=".8" stop-color="#db2cff"/><stop offset=".9" stop-color="#ee1aff"/><stop offset="1" stop-color="#ff09ff"/></linearGradient>
<linearGradient id="g1_30" gradientUnits="userSpaceOnUse" x1="511.9" y1="0" x2="622.8" y2="0"><stop offset="0" stop-color="#00dfff"/><stop offset=".1" stop-color="#00c3ff"/><stop offset=".2" stop-color="#00abff"/><stop offset=".3" stop-color="#1997ff"/><stop offset=".4" stop-color="#4f86ff"/><stop offset=".5" stop-color="#8075ff"/><stop offset=".6" stop-color="#a661ff"/><stop offset=".7" stop-color="#c449ff"/><stop offset=".8" stop-color="#da2eff"/><stop offset=".9" stop-color="#ed1bff"/><stop offset="1" stop-color="#ff0aff"/></linearGradient>
<linearGradient id="g1_29" gradientUnits="userSpaceOnUse" x1="510.0" y1="0" x2="620.9" y2="0"><stop offset="0" stop-color="#00dcff"/><stop offset=".1" stop-color="#00c1ff"/><stop offset=".2" stop-color="#00a9ff"/><stop offset=".3" stop-color="#1a97ff"/><stop offset=".4" stop-color="#5086ff"/><stop offset=".5" stop-color="#8075ff"/><stop offset=".6" stop-color="#a661ff"/><stop offset=".7" stop-color="#c44aff"/><stop offset=".8" stop-color="#d82fff"/><stop offset=".9" stop-color="#eb1dff"/><stop offset="1" stop-color="#fe0bff"/></linearGradient>
<linearGradient id="g1_28" gradientUnits="userSpaceOnUse" x1="508.0" y1="0" x2="618.9" y2="0"><stop offset="0" stop-color="#00d8ff"/><stop offset=".1" stop-color="#00beff"/><stop offset=".2" stop-color="#00a7ff"/><stop offset=".3" stop-color="#1c96ff"/><stop offset=".4" stop-color="#5186ff"/><stop offset=".5" stop-color="#8075ff"/><stop offset=".6" stop-color="#a562ff"/><stop offset=".7" stop-color="#c24cff"/><stop offset=".8" stop-color="#d732ff"/><stop offset=".9" stop-color="#e91eff"/><stop offset="1" stop-color="#fb0eff"/></linearGradient>
<linearGradient id="g1_27" gradientUnits="userSpaceOnUse" x1="506.1" y1="0" x2="617.0" y2="0"><stop offset="0" stop-color="#00d4ff"/><stop offset=".1" stop-color="#00bbff"/><stop offset=".2" stop-color="#00a5ff"/><stop offset=".3" stop-color="#1f95ff"/><stop offset=".4" stop-color="#5385ff"/><stop offset=".5" stop-color="#8075ff"/><stop offset=".6" stop-color="#a363ff"/><stop offset=".7" stop-color="#c14eff"/><stop offset=".8" stop-color="#d534ff"/><stop offset=".9" stop-color="#e721ff"/><stop offset="1" stop-color="#f810ff"/></linearGradient>
<linearGradient id="g1_26" gradientUnits="userSpaceOnUse" x1="504.2" y1="0" x2="615.1" y2="0"><stop offset="0" stop-color="#00cfff"/><stop offset=".1" stop-color="#00b7ff"/><stop offset=".2" stop-color="#02a2ff"/><stop offset=".3" stop-color="#2193ff"/><stop offset=".4" stop-color="#5584ff"/><stop offset=".5" stop-color="#8075ff"/><stop offset=".6" stop-color="#a263ff"/><stop offset=".7" stop-color="#c050ff"/><stop offset=".8" stop-color="#d237ff"/><stop offset=".9" stop-color="#e423ff"/><stop offset="1" stop-color="#f514ff"/></linearGradient>
<linearGradient id="g1_25" gradientUnits="userSpaceOnUse" x1="502.3" y1="0" x2="613.2" y2="0"><stop offset="0" stop-color="#00c9ff"/><stop offset=".1" stop-color="#00b4ff"/><stop offset=".2" stop-color="#06a1ff"/><stop offset=".3" stop-color="#2492ff"/><stop offset=".4" stop-color="#5784ff"/><stop offset=".5" stop-color="#8075ff"/><stop offset=".6" stop-color="#a164ff"/><stop offset=".7" stop-color="#be52ff"/><stop offset=".8" stop-color="#d03aff"/><stop offset=".9" stop-color="#e126ff"/><stop offset="1" stop-color="#f117ff"/></linearGradient>
<linearGradient id="g1_24" gradientUnits="userSpaceOnUse" x1="500.4" y1="0" x2="611.3" y2="0"><stop offset="0" stop-color="#00c4ff"/><stop offset=".1" stop-color="#00b0ff"/><stop offset=".2" stop-color="#0a9fff"/><stop offset=".3" stop-color="#2991ff"/><stop offset=".4" stop-color="#5983ff"/><stop offset=".5" stop-color="#8075ff"/><stop offset=".6" stop-color="#9f65ff"/><stop offset=".7" stop-color="#bc54ff"/><stop offset=".8" stop-color="#cd3eff"/><stop offset=".9" stop-color="#de29ff"/><stop offset="1" stop-color="#ed1bff"/></linearGradient>
<linearGradient id="g1_23" gradientUnits="userSpaceOnUse" x1="498.4" y1="0" x2="609.3" y2="0"><stop offset="0" stop-color="#00bfff"/><stop offset=".1" stop-color="#00acff"/><stop offset=".2" stop-color="#0e9cff"/><stop offset=".3" stop-color="#2e8fff"/><stop offset=".4" stop-color="#5b82ff"/><stop offset=".5" stop-color="#8075ff"/><stop offset=".6" stop-color="#9e66ff"/><stop offset=".7" stop-color="#bb56ff"/><stop offset=".8" stop-color="#cb41ff"/><stop offset=".9" stop-color="#db2cff"/><stop offset="1" stop-color="#ea1eff"/></linearGradient>
<linearGradient id="g1_22" gradientUnits="userSpaceOnUse" x1="496.5" y1="0" x2="607.4" y2="0"><stop offset="0" stop-color="#00baff"/><stop offset=".1" stop-color="#00a8ff"/><stop offset=".2" stop-color="#129bff"/><stop offset=".3" stop-color="#338eff"/><stop offset=".4" stop-color="#5d82ff"/><stop offset=".5" stop-color="#8075ff"/><stop offset=".6" stop-color="#9c66ff"/><stop offset=".7" stop-color="#b858ff"/><stop offset=".8" stop-color="#c844ff"/><stop offset=".9" stop-color="#d830ff"/><stop offset="1" stop-color="#e621ff"/></linearGradient>
<linearGradient id="g1_21" gradientUnits="userSpaceOnUse" x1="494.6" y1="0" x2="605.5" y2="0"><stop offset="0" stop-color="#00b6ff"/><stop offset=".1" stop-color="#00a5ff"/><stop offset=".2" stop-color="#1699ff"/><stop offset=".3" stop-color="#378dff"/><stop offset=".4" stop-color="#5f81ff"/><stop offset=".5" stop-color="#8075ff"/><stop offset=".6" stop-color="#9b67ff"/><stop offset=".7" stop-color="#b559ff"/><stop offset=".8" stop-color="#c647ff"/><stop offset=".9" stop-color="#d534ff"/><stop offset="1" stop-color="#e325ff"/></linearGradient>
<linearGradient id="g1_20" gradientUnits="userSpaceOnUse" x1="492.7" y1="0" x2="603.6" y2="0"><stop offset="0" stop-color="#00b2ff"/><stop offset=".1" stop-color="#02a2ff"/><stop offset=".2" stop-color="#1a97ff"/><stop offset=".3" stop-color="#3b8cff"/><stop offset=".4" stop-color="#6081ff"/><stop offset=".5" stop-color="#8075ff"/><stop offset=".6" stop-color="#9968ff"/><stop offset=".7" stop-color="#b35bff"/><stop offset=".8" stop-color="#c44aff"/><stop offset=".9" stop-color="#d237ff"/><stop offset="1" stop-color="#e027ff"/></linearGradient>
<linearGradient id="g1_19" gradientUnits="userSpaceOnUse" x1="490.8" y1="0" x2="601.7" y2="0"><stop offset="0" stop-color="#00aeff"/><stop offset=".1" stop-color="#07a0ff"/><stop offset=".2" stop-color="#1d95ff"/><stop offset=".3" stop-color="#3f8bff"/><stop offset=".4" stop-color="#6280ff"/><stop offset=".5" stop-color="#8075ff"/><stop offset=".6" stop-color="#9868ff"/><stop offset=".7" stop-color="#b05cff"/><stop offset=".8" stop-color="#c24cff"/><stop offset=".9" stop-color="#cf3bff"/><stop offset="1" stop-color="#dc2aff"/></linearGradient>
<linearGradient id="g1_18" gradientUnits="userSpaceOnUse" x1="488.9" y1="0" x2="599.8" y2="0"><stop offset="0" stop-color="#00aaff"/><stop offset=".1" stop-color="#0b9eff"/><stop offset=".2" stop-color="#2194ff"/><stop offset=".3" stop-color="#438aff"/><stop offset=".4" stop-color="#6480ff"/><stop offset=".5" stop-color="#8075ff"/><stop offset=".6" stop-color="#9769ff"/><stop offset=".7" stop-color="#ae5dff"/><stop offset=".8" stop-color="#c04fff"/><stop offset=".9" stop-color="#cd3fff"/><stop offset="1" stop-color="#d92eff"/></linearGradient>
<linearGradient id="g1_17" gradientUnits="userSpaceOnUse" x1="486.9" y1="0" x2="597.8" y2="0"><stop offset="0" stop-color="#00a6ff"/><stop offset=".1" stop-color="#109cff"/><stop offset=".2" stop-color="#2492ff"/><stop offset=".3" stop-color="#4789ff"/><stop offset=".4" stop-color="#657fff"/><stop offset=".5" stop-color="#8075ff"/><stop offset=".6" stop-color="#966aff"/><stop offset=".7" stop-color="#ab5eff"/><stop offset=".8" stop-color="#be52ff"/><stop offset=".9" stop-color="#ca42ff"/><stop offset="1" stop-color="#d633ff"/></linearGradient>
<linearGradient id="g1_16" gradientUnits="userSpaceOnUse" x1="485.0" y1="0" x2="595.9" y2="0"><stop offset="0" stop-color="#01a3ff"/><stop offset=".1" stop-color="#149aff"/><stop offset=".2" stop-color="#2a90ff"/><stop offset=".3" stop-color="#4b87ff"/><stop offset=".4" stop-color="#677eff"/><stop offset=".5" stop-color="#8075ff"/><stop offset=".6" stop-color="#946aff"/><stop offset=".7" stop-color="#a960ff"/><stop offset=".8" stop-color="#bc54ff"/><stop offset=".9" stop-color="#c746ff"/><stop offset="1" stop-color="#d237ff"/></linearGradient>
<linearGradient id="g1_15" gradientUnits="userSpaceOnUse" x1="483.1" y1="0" x2="594.0" y2="0"><stop offset="0" stop-color="#07a0ff"/><stop offset=".1" stop-color="#1997ff"/><stop offset=".2" stop-color="#308fff"/><stop offset=".3" stop-color="#4f86ff"/><stop offset=".4" stop-color="#687eff"/><stop offset=".5" stop-color="#8075ff"/><stop offset=".6" stop-color="#936bff"/><stop offset=".7" stop-color="#a661ff"/><stop offset=".8" stop-color="#ba57ff"/><stop offset=".9" stop-color="#c449ff"/><stop offset="1" stop-color="#cf3cff"/></linearGradient>
<linearGradient id="g1_14" gradientUnits="userSpaceOnUse" x1="481.2" y1="0" x2="592.1" y2="0"><stop offset="0" stop-color="#0d9dff"/><stop offset=".1" stop-color="#1e95ff"/><stop offset=".2" stop-color="#368dff"/><stop offset=".3" stop-color="#5285ff"/><stop offset=".4" stop-color="#6a7dff"/><stop offset=".5" stop-color="#8075ff"/><stop offset=".6" stop-color="#926cff"/><stop offset=".7" stop-color="#a462ff"/><stop offset=".8" stop-color="#b659ff"/><stop offset=".9" stop-color="#c24dff"/><stop offset="1" stop-color="#cc40ff"/></linearGradient>
<linearGradient id="g1_13" gradientUnits="userSpaceOnUse" x1="479.3" y1="0" x2="590.2" y2="0"><stop offset="0" stop-color="#139aff"/><stop offset=".1" stop-color="#2293ff"/><stop offset=".2" stop-color="#3c8cff"/><stop offset=".3" stop-color="#5684ff"/><stop offset=".4" stop-color="#6c7dff"/><stop offset=".5" stop-color="#8075ff"/><stop offset=".6" stop-color="#916cff"/><stop offset=".7" stop-color="#a164ff"/><stop offset=".8" stop-color="#b25bff"/><stop offset=".9" stop-color="#bf50ff"/><stop offset="1" stop-color="#c844ff"/></linearGradient>
<linearGradient id="g1_12" gradientUnits="userSpaceOnUse" x1="477.4" y1="0" x2="588.3" y2="0"><stop offset="0" stop-color="#1898ff"/><stop offset=".1" stop-color="#2991ff"/><stop offset=".2" stop-color="#428aff"/><stop offset=".3" stop-color="#5983ff"/><stop offset=".4" stop-color="#6d7cff"/><stop offset=".5" stop-color="#8075ff"/><stop offset=".6" stop-color="#8f6dff"/><stop offset=".7" stop-color="#9f65ff"/><stop offset=".8" stop-color="#ae5dff"/><stop offset=".9" stop-color="#bc54ff"/><stop offset="1" stop-color="#c549ff"/></linearGradient>
<linearGradient id="g1_11" gradientUnits="userSpaceOnUse" x1="475.4" y1="0" x2="586.3" y2="0"><stop offset="0" stop-color="#1e95ff"/><stop offset=".1" stop-color="#318fff"/><stop offset=".2" stop-color="#4888ff"/><stop offset=".3" stop-color="#5c82ff"/><stop offset=".4" stop-color="#6f7cff"/><stop offset=".5" stop-color="#8075ff"/><stop offset=".6" stop-color="#8e6eff"/><stop offset=".7" stop-color="#9c66ff"/><stop offset=".8" stop-color="#ab5fff"/><stop offset=".9" stop-color="#b957ff"/><stop offset="1" stop-color="#c14dff"/></linearGradient>
<linearGradient id="g1_10" gradientUnits="userSpaceOnUse" x1="473.5" y1="0" x2="584.4" y2="0"><stop offset="0" stop-color="#2492ff"/><stop offset=".1" stop-color="#398cff"/><stop offset=".2" stop-color="#4e87ff"/><stop offset=".3" stop-color="#5f81ff"/><stop offset=".4" stop-color="#717bff"/><stop offset=".5" stop-color="#8075ff"/><stop offset=".6" stop-color="#8d6eff"/><stop offset=".7" stop-color="#9a67ff"/><stop offset=".8" stop-color="#a761ff"/><stop offset=".9" stop-color="#b45aff"/><stop offset="1" stop-color="#be52ff"/></linearGradient>
<linearGradient id="g1_9" gradientUnits="userSpaceOnUse" x1="471.6" y1="0" x2="582.5" y2="0"><stop offset="0" stop-color="#2e8fff"/><stop offset=".1" stop-color="#418aff"/><stop offset=".2" stop-color="#5385ff"/><stop offset=".3" stop-color="#6380ff"/><stop offset=".4" stop-color="#727bff"/><stop offset=".5" stop-color="#8075ff"/><stop offset=".6" stop-color="#8c6fff"/><stop offset=".7" stop-color="#9869ff"/><stop offset=".8" stop-color="#a363ff"/><stop offset=".9" stop-color="#af5cff"/><stop offset="1" stop-color="#bb56ff"/></linearGradient>
<linearGradient id="g1_8" gradientUnits="userSpaceOnUse" x1="469.7" y1="0" x2="580.6" y2="0"><stop offset="0" stop-color="#388dff"/><stop offset=".1" stop-color="#4988ff"/><stop offset=".2" stop-color="#5883ff"/><stop offset=".3" stop-color="#667fff"/><stop offset=".4" stop-color="#747aff"/><stop offset=".5" stop-color="#8075ff"/><stop offset=".6" stop-color="#8b6fff"/><stop offset=".7" stop-color="#956aff"/><stop offset=".8" stop-color="#a065ff"/><stop offset=".9" stop-color="#aa5fff"/><stop offset="1" stop-color="#b55aff"/></linearGradient>
<linearGradient id="g1_7" gradientUnits="userSpaceOnUse" x1="467.8" y1="0" x2="578.7" y2="0"><stop offset="0" stop-color="#428aff"/><stop offset=".1" stop-color="#5186ff"/><stop offset=".2" stop-color="#5d82ff"/><stop offset=".3" stop-color="#697eff"/><stop offset=".4" stop-color="#7679ff"/><stop offset=".5" stop-color="#8075ff"/><stop offset=".6" stop-color="#8970ff"/><stop offset=".7" stop-color="#936bff"/><stop offset=".8" stop-color="#9c66ff"/><stop offset=".9" stop-color="#a562ff"/><stop offset="1" stop-color="#ae5dff"/></linearGradient>
<linearGradient id="g1_6" gradientUnits="userSpaceOnUse" x1="465.9" y1="0" x2="576.8" y2="0"><stop offset="0" stop-color="#4c87ff"/><stop offset=".1" stop-color="#5784ff"/><stop offset=".2" stop-color="#6280ff"/><stop offset=".3" stop-color="#6d7dff"/><stop offset=".4" stop-color="#7779ff"/><stop offset=".5" stop-color="#8075ff"/><stop offset=".6" stop-color="#8871ff"/><stop offset=".7" stop-color="#906dff"/><stop offset=".8" stop-color="#9868ff"/><stop offset=".9" stop-color="#a064ff"/><stop offset="1" stop-color="#a860ff"/></linearGradient>
<linearGradient id="g1_5" gradientUnits="userSpaceOnUse" x1="463.9" y1="0" x2="574.8" y2="0"><stop offset="0" stop-color="#5584ff"/><stop offset=".1" stop-color="#5e81ff"/><stop offset=".2" stop-color="#677eff"/><stop offset=".3" stop-color="#707bff"/><stop offset=".4" stop-color="#7978ff"/><stop offset=".5" stop-color="#8075ff"/><stop offset=".6" stop-color="#8771ff"/><stop offset=".7" stop-color="#8e6eff"/><stop offset=".8" stop-color="#946aff"/><stop offset=".9" stop-color="#9b67ff"/><stop offset="1" stop-color="#a263ff"/></linearGradient>
<linearGradient id="g1_4" gradientUnits="userSpaceOnUse" x1="462.0" y1="0" x2="572.9" y2="0"><stop offset="0" stop-color="#5d82ff"/><stop offset=".1" stop-color="#647fff"/><stop offset=".2" stop-color="#6c7dff"/><stop offset=".3" stop-color="#737aff"/><stop offset=".4" stop-color="#7a78ff"/><stop offset=".5" stop-color="#8075ff"/><stop offset=".6" stop-color="#8672ff"/><stop offset=".7" stop-color="#8b6fff"/><stop offset=".8" stop-color="#916cff"/><stop offset=".9" stop-color="#9669ff"/><stop offset="1" stop-color="#9c66ff"/></linearGradient>
<linearGradient id="g1_3" gradientUnits="userSpaceOnUse" x1="460.1" y1="0" x2="571.0" y2="0"><stop offset="0" stop-color="#657fff"/><stop offset=".1" stop-color="#6b7dff"/><stop offset=".2" stop-color="#717bff"/><stop offset=".3" stop-color="#7679ff"/><stop offset=".4" stop-color="#7c77ff"/><stop offset=".5" stop-color="#8075ff"/><stop offset=".6" stop-color="#8473ff"/><stop offset=".7" stop-color="#8970ff"/><stop offset=".8" stop-color="#8d6eff"/><stop offset=".9" stop-color="#916cff"/><stop offset="1" stop-color="#966aff"/></linearGradient>
<linearGradient id="g1_2" gradientUnits="userSpaceOnUse" x1="458.2" y1="0" x2="569.1" y2="0"><stop offset="0" stop-color="#6d7cff"/><stop offset=".1" stop-color="#717bff"/><stop offset=".2" stop-color="#7679ff"/><stop offset=".3" stop-color="#7a78ff"/><stop offset=".4" stop-color="#7d77ff"/><stop offset=".5" stop-color="#8075ff"/><stop offset=".6" stop-color="#8373ff"/><stop offset=".7" stop-color="#8672ff"/><stop offset=".8" stop-color="#8970ff"/><stop offset=".9" stop-color="#8c6fff"/><stop offset="1" stop-color="#8f6dff"/></linearGradient>
<linearGradient id="g1_1" gradientUnits="userSpaceOnUse" x1="456.3" y1="0" x2="567.2" y2="0"><stop offset="0" stop-color="#7679ff"/><stop offset=".1" stop-color="#7879ff"/><stop offset=".2" stop-color="#7a78ff"/><stop offset=".3" stop-color="#7c77ff"/><stop offset=".4" stop-color="#7e76ff"/><stop offset=".5" stop-color="#8075ff"/><stop offset=".6" stop-color="#8274ff"/><stop offset=".7" stop-color="#8473ff"/><stop offset=".8" stop-color="#8672ff"/><stop offset=".9" stop-color="#8771ff"/><stop offset="1" stop-color="#8970ff"/></linearGradient>
<linearGradient id="g1_0" gradientUnits="userSpaceOnUse" x1="454.4" y1="0" x2="565.3" y2="0"><stop offset="0" stop-color="#7d77ff"/><stop offset=".1" stop-color="#7e76ff"/><stop offset=".2" stop-color="#7e76ff"/><stop offset=".3" stop-color="#7f76ff"/><stop offset=".4" stop-color="#7f75ff"/><stop offset=".5" stop-color="#8075ff"/><stop offset=".6" stop-color="#8175ff"/><stop offset=".7" stop-color="#8174ff"/><stop offset=".8" stop-color="#8274ff"/><stop offset=".9" stop-color="#8274ff"/><stop offset="1" stop-color="#8373ff"/></linearGradient>
<linearGradient id="g2_99" gradientUnits="userSpaceOnUse" x1="448.0" y1="0" x2="558.9" y2="0"><stop offset="0" stop-color="#ca42ff"/><stop offset=".1" stop-color="#c04fff"/><stop offset=".2" stop-color="#b25bff"/><stop offset=".3" stop-color="#a064ff"/><stop offset=".4" stop-color="#8e6eff"/><stop offset=".5" stop-color="#7c77ff"/><stop offset=".6" stop-color="#657fff"/><stop offset=".7" stop-color="#4c87ff"/><stop offset=".8" stop-color="#2f8fff"/><stop offset=".9" stop-color="#1997ff"/><stop offset="1" stop-color="#099fff"/></linearGradient>
<linearGradient id="g2_98" gradientUnits="userSpaceOnUse" x1="446.1" y1="0" x2="557.0" y2="0"><stop offset="0" stop-color="#c647ff"/><stop offset=".1" stop-color="#bd53ff"/><stop offset=".2" stop-color="#ae5dff"/><stop offset=".3" stop-color="#9d66ff"/><stop offset=".4" stop-color="#8d6eff"/><stop offset=".5" stop-color="#7c77ff"/><stop offset=".6" stop-color="#667fff"/><stop offset=".7" stop-color="#5086ff"/><stop offset=".8" stop-color="#358eff"/><stop offset=".9" stop-color="#1e95ff"/><stop offset="1" stop-color="#0e9cff"/></linearGradient>
<linearGradient id="g2_97" gradientUnits="userSpaceOnUse" x1="444.2" y1="0" x2="555.1" y2="0"><stop offset="0" stop-color="#c34cff"/><stop offset=".1" stop-color="#ba57ff"/><stop offset=".2" stop-color="#aa5fff"/><stop offset=".3" stop-color="#9b67ff"/><stop offset=".4" stop-color="#8b6fff"/><stop offset=".5" stop-color="#7c77ff"/><stop offset=".6" stop-color="#677eff"/><stop offset=".7" stop-color="#5385ff"/><stop offset=".8" stop-color="#3b8cff"/><stop offset=".9" stop-color="#2293ff"/><stop offset="1" stop-color="#149aff"/></linearGradient>
<linearGradient id="g2_96" gradientUnits="userSpaceOnUse" x1="442.3" y1="0" x2="553.2" y2="0"><stop offset="0" stop-color="#bf50ff"/><stop offset=".1" stop-color="#b55aff"/><stop offset=".2" stop-color="#a661ff"/><stop offset=".3" stop-color="#9868ff"/><stop offset=".4" stop-color="#8a70ff"/><stop offset=".5" stop-color="#7b77ff"/><stop offset=".6" stop-color="#697eff"/><stop offset=".7" stop-color="#5684ff"/><stop offset=".8" stop-color="#408aff"/><stop offset=".9" stop-color="#2991ff"/><stop offset="1" stop-color="#1a97ff"/></linearGradient>
<linearGradient id="g2_95" gradientUnits="userSpaceOnUse" x1="440.4" y1="0" x2="551.3" y2="0"><stop offset="0" stop-color="#bb55ff"/><stop offset=".1" stop-color="#af5cff"/><stop offset=".2" stop-color="#a263ff"/><stop offset=".3" stop-color="#956aff"/><stop offset=".4" stop-color="#8871ff"/><stop offset=".5" stop-color="#7b77ff"/><stop offset=".6" stop-color="#6a7dff"/><stop offset=".7" stop-color="#5983ff"/><stop offset=".8" stop-color="#4689ff"/><stop offset=".9" stop-color="#318fff"/><stop offset="1" stop-color="#1f94ff"/></linearGradient>
<linearGradient id="g2_94" gradientUnits="userSpaceOnUse" x1="438.5" y1="0" x2="549.4" y2="0"><stop offset="0" stop-color="#b659ff"/><stop offset=".1" stop-color="#aa5fff"/><stop offset=".2" stop-color="#9e65ff"/><stop offset=".3" stop-color="#936bff"/><stop offset=".4" stop-color="#8771ff"/><stop offset=".5" stop-color="#7b78ff"/><stop offset=".6" stop-color="#6b7dff"/><stop offset=".7" stop-color="#5c82ff"/><stop offset=".8" stop-color="#4c87ff"/><stop offset=".9" stop-color="#398dff"/><stop offset="1" stop-color="#2692ff"/></linearGradient>
<linearGradient id="g2_93" gradientUnits="userSpaceOnUse" x1="436.5" y1="0" x2="547.4" y2="0"><stop offset="0" stop-color="#af5cff"/><stop offset=".1" stop-color="#a562ff"/><stop offset=".2" stop-color="#9a67ff"/><stop offset=".3" stop-color="#906dff"/><stop offset=".4" stop-color="#8572ff"/><stop offset=".5" stop-color="#7b78ff"/><stop offset=".6" stop-color="#6d7cff"/><stop offset=".7" stop-color="#5f81ff"/><stop offset=".8" stop-color="#5186ff"/><stop offset=".9" stop-color="#408aff"/><stop offset="1" stop-color="#2f8fff"/></linearGradient>
<linearGradient id="g2_92" gradientUnits="userSpaceOnUse" x1="434.6" y1="0" x2="545.5" y2="0"><stop offset="0" stop-color="#a960ff"/><stop offset=".1" stop-color="#a065ff"/><stop offset=".2" stop-color="#9669ff"/><stop offset=".3" stop-color="#8d6eff"/><stop offset=".4" stop-color="#8473ff"/><stop offset=".5" stop-color="#7a78ff"/><stop offset=".6" stop-color="#6e7cff"/><stop offset=".7" stop-color="#6280ff"/><stop offset=".8" stop-color="#5684ff"/><stop offset=".9" stop-color="#4888ff"/><stop offset="1" stop-color="#398cff"/></linearGradient>
<linearGradient id="g2_91" gradientUnits="userSpaceOnUse" x1="432.7" y1="0" x2="543.6" y2="0"><stop offset="0" stop-color="#a263ff"/><stop offset=".1" stop-color="#9a67ff"/><stop offset=".2" stop-color="#926bff"/><stop offset=".3" stop-color="#8a70ff"/><stop offset=".4" stop-color="#8274ff"/><stop offset=".5" stop-color="#7a78ff"/><stop offset=".6" stop-color="#6f7cff"/><stop offset=".7" stop-color="#657fff"/><stop offset=".8" stop-color="#5a83ff"/><stop offset=".9" stop-color="#5086ff"/><stop offset="1" stop-color="#438aff"/></linearGradient>
<linearGradient id="g2_90" gradientUnits="userSpaceOnUse" x1="430.8" y1="0" x2="541.7" y2="0"><stop offset="0" stop-color="#9c67ff"/><stop offset=".1" stop-color="#956aff"/><stop offset=".2" stop-color="#8e6eff"/><stop offset=".3" stop-color="#8771ff"/><stop offset=".4" stop-color="#8175ff"/><stop offset=".5" stop-color="#7a78ff"/><stop offset=".6" stop-color="#717bff"/><stop offset=".7" stop-color="#687eff"/><stop offset=".8" stop-color="#5f81ff"/><stop offset=".9" stop-color="#5684ff"/><stop offset="1" stop-color="#4c87ff"/></linearGradient>
<linearGradient id="g2_89" gradientUnits="userSpaceOnUse" x1="428.9" y1="0" x2="539.8" y2="0"><stop offset="0" stop-color="#956aff"/><stop offset=".1" stop-color="#8f6dff"/><stop offset=".2" stop-color="#8a70ff"/><stop offset=".3" stop-color="#8473ff"/><stop offset=".4" stop-color="#7f76ff"/><stop offset=".5" stop-color="#7978ff"/><stop offset=".6" stop-color="#727bff"/><stop offset=".7" stop-color="#6a7dff"/><stop offset=".8" stop-color="#6380ff"/><stop offset=".9" stop-color="#5c82ff"/><stop offset="1" stop-color="#5584ff"/></linearGradient>
<linearGradient id="g2_88" gradientUnits="userSpaceOnUse" x1="427.0" y1="0" x2="537.9" y2="0"><stop offset="0" stop-color="#8e6eff"/><stop offset=".1" stop-color="#8a70ff"/><stop offset=".2" stop-color="#8672ff"/><stop offset=".3" stop-color="#8174ff"/><stop offset=".4" stop-color="#7d76ff"/><stop offset=".5" stop-color="#7879ff"/><stop offset=".6" stop-color="#737aff"/><stop offset=".7" stop-color="#6d7cff"/><stop offset=".8" stop-color="#687eff"/><stop offset=".9" stop-color="#6280ff"/><stop offset="1" stop-color="#5d82ff"/></linearGradient>
<linearGradient id="g2_87" gradientUnits="userSpaceOnUse" x1="425.0" y1="0" x2="535.9" y2="0"><stop offset="0" stop-color="#8771ff"/><stop offset=".1" stop-color="#8473ff"/><stop offset=".2" stop-color="#8174ff"/><stop offset=".3" stop-color="#7e76ff"/><stop offset=".4" stop-color="#7b77ff"/><stop offset=".5" stop-color="#7879ff"/><stop offset=".6" stop-color="#747aff"/><stop offset=".7" stop-color="#707bff"/><stop offset=".8" stop-color="#6c7dff"/><stop offset=".9" stop-color="#687eff"/><stop offset="1" stop-color="#647fff"/></linearGradient>
<linearGradient id="g2_86" gradientUnits="userSpaceOnUse" x1="423.1" y1="0" x2="534.0" y2="0"><stop offset="0" stop-color="#8075ff"/><stop offset=".1" stop-color="#7e76ff"/><stop offset=".2" stop-color="#7d77ff"/><stop offset=".3" stop-color="#7b77ff"/><stop offset=".4" stop-color="#7978ff"/><stop offset=".5" stop-color="#7779ff"/><stop offset=".6" stop-color="#757aff"/><stop offset=".7" stop-color="#737aff"/><stop offset=".8" stop-color="#717bff"/><stop offset=".9" stop-color="#6e7cff"/><stop offset="1" stop-color="#6c7dff"/></linearGradient>
<linearGradient id="g2_85" gradientUnits="userSpaceOnUse" x1="421.2" y1="0" x2="532.1" y2="0"><stop offset="0" stop-color="#7978ff"/><stop offset=".1" stop-color="#7879ff"/><stop offset=".2" stop-color="#7879ff"/><stop offset=".3" stop-color="#7779ff"/><stop offset=".4" stop-color="#7779ff"/><stop offset=".5" stop-color="#7679ff"/><stop offset=".6" stop-color="#7679ff"/><stop offset=".7" stop-color="#7579ff"/><stop offset=".8" stop-color="#757aff"/><stop offset=".9" stop-color="#757aff"/><stop offset="1" stop-color="#747aff"/></linearGradient>
<linearGradient id="g2_84" gradientUnits="userSpaceOnUse" x1="419.3" y1="0" x2="530.2" y2="0"><stop offset="0" stop-color="#707bff"/><stop offset=".1" stop-color="#717bff"/><stop offset=".2" stop-color="#727bff"/><stop offset=".3" stop-color="#747aff"/><stop offset=".4" stop-color="#757aff"/><stop offset=".5" stop-color="#7679ff"/><stop offset=".6" stop-color="#7779ff"/><stop offset=".7" stop-color="#7879ff"/><stop offset=".8" stop-color="#7978ff"/><stop offset=".9" stop-color="#7b78ff"/><stop offset="1" stop-color="#7c77ff"/></linearGradient>
<linearGradient id="g2_83" gradientUnits="userSpaceOnUse" x1="417.4" y1="0" x2="528.3" y2="0"><stop offset="0" stop-color="#687eff"/><stop offset=".1" stop-color="#6b7dff"/><stop offset=".2" stop-color="#6d7cff"/><stop offset=".3" stop-color="#707bff"/><stop offset=".4" stop-color="#737aff"/><stop offset=".5" stop-color="#7679ff"/><stop offset=".6" stop-color="#7878ff"/><stop offset=".7" stop-color="#7b78ff"/><stop offset=".8" stop-color="#7d76ff"/><stop offset=".9" stop-color="#7f75ff"/><stop offset="1" stop-color="#8174ff"/></linearGradient>
<linearGradient id="g2_82" gradientUnits="userSpaceOnUse" x1="415.5" y1="0" x2="526.4" y2="0"><stop offset="0" stop-color="#6081ff"/><stop offset=".1" stop-color="#647fff"/><stop offset=".2" stop-color="#697eff"/><stop offset=".3" stop-color="#6d7cff"/><stop offset=".4" stop-color="#717bff"/><stop offset=".5" stop-color="#7679ff"/><stop offset=".6" stop-color="#7a78ff"/><stop offset=".7" stop-color="#7d76ff"/><stop offset=".8" stop-color="#8175ff"/><stop offset=".9" stop-color="#8473ff"/><stop offset="1" stop-color="#8771ff"/></linearGradient>
<linearGradient id="g2_81" gradientUnits="userSpaceOnUse" x1="413.5" y1="0" x2="524.4" y2="0"><stop offset="0" stop-color="#5883ff"/><stop offset=".1" stop-color="#5e81ff"/><stop offset=".2" stop-color="#647fff"/><stop offset=".3" stop-color="#6a7dff"/><stop offset=".4" stop-color="#707bff"/><stop offset=".5" stop-color="#7679ff"/><stop offset=".6" stop-color="#7b77ff"/><stop offset=".7" stop-color="#8075ff"/><stop offset=".8" stop-color="#8473ff"/><stop offset=".9" stop-color="#8970ff"/><stop offset="1" stop-color="#8d6eff"/></linearGradient>
<linearGradient id="g2_80" gradientUnits="userSpaceOnUse" x1="411.6" y1="0" x2="522.5" y2="0"><stop offset="0" stop-color="#5186ff"/><stop offset=".1" stop-color="#5883ff"/><stop offset=".2" stop-color="#6081ff"/><stop offset=".3" stop-color="#677eff"/><stop offset=".4" stop-color="#6e7cff"/><stop offset=".5" stop-color="#7679ff"/><stop offset=".6" stop-color="#7d77ff"/><stop offset=".7" stop-color="#8274ff"/><stop offset=".8" stop-color="#8871ff"/><stop offset=".9" stop-color="#8d6eff"/><stop offset="1" stop-color="#936bff"/></linearGradient>
<linearGradient id="g2_79" gradientUnits="userSpaceOnUse" x1="409.7" y1="0" x2="520.6" y2="0"><stop offset="0" stop-color="#4888ff"/><stop offset=".1" stop-color="#5385ff"/><stop offset=".2" stop-color="#5b82ff"/><stop offset=".3" stop-color="#647fff"/><stop offset=".4" stop-color="#6d7cff"/><stop offset=".5" stop-color="#7679ff"/><stop offset=".6" stop-color="#7e76ff"/><stop offset=".7" stop-color="#8572ff"/><stop offset=".8" stop-color="#8c6fff"/><stop offset=".9" stop-color="#926bff"/><stop offset="1" stop-color="#9968ff"/></linearGradient>
<linearGradient id="g2_78" gradientUnits="userSpaceOnUse" x1="407.8" y1="0" x2="518.7" y2="0"><stop offset="0" stop-color="#408bff"/><stop offset=".1" stop-color="#4d87ff"/><stop offset=".2" stop-color="#5784ff"/><stop offset=".3" stop-color="#6280ff"/><stop offset=".4" stop-color="#6c7dff"/><stop offset=".5" stop-color="#7779ff"/><stop offset=".6" stop-color="#7f75ff"/><stop offset=".7" stop-color="#8771ff"/><stop offset=".8" stop-color="#8f6dff"/><stop offset=".9" stop-color="#9769ff"/><stop offset="1" stop-color="#9f65ff"/></linearGradient>
<linearGradient id="g2_77" gradientUnits="userSpaceOnUse" x1="405.9" y1="0" x2="516.8" y2="0"><stop offset="0" stop-color="#388dff"/><stop offset=".1" stop-color="#4689ff"/><stop offset=".2" stop-color="#5485ff"/><stop offset=".3" stop-color="#5f81ff"/><stop offset=".4" stop-color="#6b7dff"/><stop offset=".5" stop-color="#7779ff"/><stop offset=".6" stop-color="#8174ff"/><stop offset=".7" stop-color="#8a70ff"/><stop offset=".8" stop-color="#936bff"/><stop offset=".9" stop-color="#9c66ff"/><stop offset="1" stop-color="#a562ff"/></linearGradient>
<linearGradient id="g2_76" gradientUnits="userSpaceOnUse" x1="404.0" y1="0" x2="514.9" y2="0"><stop offset="0" stop-color="#308fff"/><stop offset=".1" stop-color="#408bff"/><stop offset=".2" stop-color="#5086ff"/><stop offset=".3" stop-color="#5d82ff"/><stop offset=".4" stop-color="#6a7dff"/><stop offset=".5" stop-color="#7879ff"/><stop offset=".6" stop-color="#8274ff"/><stop offset=".7" stop-color="#8d6eff"/><stop offset=".8" stop-color="#9769ff"/><stop offset=".9" stop-color="#a164ff"/><stop offset="1" stop-color="#ab5fff"/></linearGradient>
<linearGradient id="g2_75" gradientUnits="userSpaceOnUse" x1="402.0" y1="0" x2="512.9" y2="0"><stop offset="0" stop-color="#2891ff"/><stop offset=".1" stop-color="#3a8cff"/><stop offset=".2" stop-color="#4c87ff"/><stop offset=".3" stop-color="#5b82ff"/><stop offset=".4" stop-color="#6a7dff"/><stop offset=".5" stop-color="#7879ff"/><stop offset=".6" stop-color="#8473ff"/><stop offset=".7" stop-color="#8f6dff"/><stop offset=".8" stop-color="#9a67ff"/><stop offset=".9" stop-color="#a561ff"/><stop offset="1" stop-color="#b15cff"/></linearGradient>
<linearGradient id="g2_74" gradientUnits="userSpaceOnUse" x1="400.1" y1="0" x2="511.0" y2="0"><stop offset="0" stop-color="#2293ff"/><stop offset=".1" stop-color="#348eff"/><stop offset=".2" stop-color="#4888ff"/><stop offset=".3" stop-color="#5983ff"/><stop offset=".4" stop-color="#697eff"/><stop offset=".5" stop-color="#7978ff"/><stop offset=".6" stop-color="#8672ff"/><stop offset=".7" stop-color="#926cff"/><stop offset=".8" stop-color="#9e65ff"/><stop offset=".9" stop-color="#aa5fff"/><stop offset="1" stop-color="#b659ff"/></linearGradient>
<linearGradient id="g2_73" gradientUnits="userSpaceOnUse" x1="398.2" y1="0" x2="509.1" y2="0"><stop offset="0" stop-color="#1e95ff"/><stop offset=".1" stop-color="#2f8fff"/><stop offset=".2" stop-color="#4489ff"/><stop offset=".3" stop-color="#5784ff"/><stop offset=".4" stop-color="#697eff"/><stop offset=".5" stop-color="#7a78ff"/><stop offset=".6" stop-color="#8771ff"/><stop offset=".7" stop-color="#946aff"/><stop offset=".8" stop-color="#a263ff"/><stop offset=".9" stop-color="#af5dff"/><stop offset="1" stop-color="#bb55ff"/></linearGradient>
<linearGradient id="g2_72" gradientUnits="userSpaceOnUse" x1="396.3" y1="0" x2="507.2" y2="0"><stop offset="0" stop-color="#1a97ff"/><stop offset=".1" stop-color="#2991ff"/><stop offset=".2" stop-color="#408aff"/><stop offset=".3" stop-color="#5584ff"/><stop offset=".4" stop-color="#687eff"/><stop offset=".5" stop-color="#7b78ff"/><stop offset=".6" stop-color="#8970ff"/><stop offset=".7" stop-color="#9769ff"/><stop offset=".8" stop-color="#a562ff"/><stop offset=".9" stop-color="#b35aff"/><stop offset="1" stop-color="#be51ff"/></linearGradient>
<linearGradient id="g2_71" gradientUnits="userSpaceOnUse" x1="394.4" y1="0" x2="505.3" y2="0"><stop offset="0" stop-color="#1699ff"/><stop offset=".1" stop-color="#2492ff"/><stop offset=".2" stop-color="#3d8bff"/><stop offset=".3" stop-color="#5485ff"/><stop offset=".4" stop-color="#687eff"/><stop offset=".5" stop-color="#7b77ff"/><stop offset=".6" stop-color="#8b6fff"/><stop offset=".7" stop-color="#9a68ff"/><stop offset=".8" stop-color="#a960ff"/><stop offset=".9" stop-color="#b858ff"/><stop offset="1" stop-color="#c14dff"/></linearGradient>
<linearGradient id="g2_70" gradientUnits="userSpaceOnUse" x1="392.4" y1="0" x2="503.3" y2="0"><stop offset="0" stop-color="#129bff"/><stop offset=".1" stop-color="#2194ff"/><stop offset=".2" stop-color="#398cff"/><stop offset=".3" stop-color="#5285ff"/><stop offset=".4" stop-color="#687eff"/><stop offset=".5" stop-color="#7c77ff"/><stop offset=".6" stop-color="#8c6eff"/><stop offset=".7" stop-color="#9d66ff"/><stop offset=".8" stop-color="#ad5eff"/><stop offset=".9" stop-color="#bc55ff"/><stop offset="1" stop-color="#c449ff"/></linearGradient>
<linearGradient id="g2_69" gradientUnits="userSpaceOnUse" x1="390.5" y1="0" x2="501.4" y2="0"><stop offset="0" stop-color="#0e9cff"/><stop offset=".1" stop-color="#1e95ff"/><stop offset=".2" stop-color="#368dff"/><stop offset=".3" stop-color="#5186ff"/><stop offset=".4" stop-color="#677eff"/><stop offset=".5" stop-color="#7d76ff"/><stop offset=".6" stop-color="#8e6dff"/><stop offset=".7" stop-color="#9f65ff"/><stop offset=".8" stop-color="#b15cff"/><stop offset=".9" stop-color="#be51ff"/><stop offset="1" stop-color="#c845ff"/></linearGradient>
<linearGradient id="g2_68" gradientUnits="userSpaceOnUse" x1="388.6" y1="0" x2="499.5" y2="0"><stop offset="0" stop-color="#0a9eff"/><stop offset=".1" stop-color="#1b96ff"/><stop offset=".2" stop-color="#328eff"/><stop offset=".3" stop-color="#4f86ff"/><stop offset=".4" stop-color="#677eff"/><stop offset=".5" stop-color="#7e76ff"/><stop offset=".6" stop-color="#906dff"/><stop offset=".7" stop-color="#a263ff"/><stop offset=".8" stop-color="#b45aff"/><stop offset=".9" stop-color="#c14eff"/><stop offset="1" stop-color="#cb41ff"/></linearGradient>
<linearGradient id="g2_67" gradientUnits="userSpaceOnUse" x1="386.7" y1="0" x2="497.6" y2="0"><stop offset="0" stop-color="#06a1ff"/><stop offset=".1" stop-color="#1898ff"/><stop offset=".2" stop-color="#2d90ff"/><stop offset=".3" stop-color="#4c87ff"/><stop offset=".4" stop-color="#667fff"/><stop offset=".5" stop-color="#7e76ff"/><stop offset=".6" stop-color="#916cff"/><stop offset=".7" stop-color="#a462ff"/><stop offset=".8" stop-color="#b758ff"/><stop offset=".9" stop-color="#c34bff"/><stop offset="1" stop-color="#ce3dff"/></linearGradient>
<linearGradient id="g2_66" gradientUnits="userSpaceOnUse" x1="384.8" y1="0" x2="495.7" y2="0"><stop offset="0" stop-color="#01a3ff"/><stop offset=".1" stop-color="#149aff"/><stop offset=".2" stop-color="#2891ff"/><stop offset=".3" stop-color="#4888ff"/><stop offset=".4" stop-color="#647fff"/><stop offset=".5" stop-color="#7d76ff"/><stop offset=".6" stop-color="#926cff"/><stop offset=".7" stop-color="#a661ff"/><stop offset=".8" stop-color="#ba57ff"/><stop offset=".9" stop-color="#c549ff"/><stop offset="1" stop-color="#d03aff"/></linearGradient>
<linearGradient id="g2_65" gradientUnits="userSpaceOnUse" x1="382.9" y1="0" x2="493.8" y2="0"><stop offset="0" stop-color="#00a5ff"/><stop offset=".1" stop-color="#109cff"/><stop offset=".2" stop-color="#2392ff"/><stop offset=".3" stop-color="#4589ff"/><stop offset=".4" stop-color="#6280ff"/><stop offset=".5" stop-color="#7d77ff"/><stop offset=".6" stop-color="#916cff"/><stop offset=".7" stop-color="#a661ff"/><stop offset=".8" stop-color="#bb56ff"/><stop offset=".9" stop-color="#c647ff"/><stop offset="1" stop-color="#d138ff"/></linearGradient>
<linearGradient id="g2_64" gradientUnits="userSpaceOnUse" x1="380.9" y1="0" x2="491.8" y2="0"><stop offset="0" stop-color="#00a7ff"/><stop offset=".1" stop-color="#0e9dff"/><stop offset=".2" stop-color="#2293ff"/><stop offset=".3" stop-color="#428aff"/><stop offset=".4" stop-color="#6180ff"/><stop offset=".5" stop-color="#7c77ff"/><stop offset=".6" stop-color="#926cff"/><stop offset=".7" stop-color="#a761ff"/><stop offset=".8" stop-color="#bb55ff"/><stop offset=".9" stop-color="#c746ff"/><stop offset="1" stop-color="#d337ff"/></linearGradient>
<linearGradient id="g2_63" gradientUnits="userSpaceOnUse" x1="379.0" y1="0" x2="489.9" y2="0"><stop offset="0" stop-color="#00a9ff"/><stop offset=".1" stop-color="#0c9eff"/><stop offset=".2" stop-color="#2094ff"/><stop offset=".3" stop-color="#408aff"/><stop offset=".4" stop-color="#6081ff"/><stop offset=".5" stop-color="#7c77ff"/><stop offset=".6" stop-color="#926cff"/><stop offset=".7" stop-color="#a760ff"/><stop offset=".8" stop-color="#bc55ff"/><stop offset=".9" stop-color="#c845ff"/><stop offset="1" stop-color="#d435ff"/></linearGradient>
<linearGradient id="g2_62" gradientUnits="userSpaceOnUse" x1="377.1" y1="0" x2="488.0" y2="0"><stop offset="0" stop-color="#00aaff"/><stop offset=".1" stop-color="#0a9eff"/><stop offset=".2" stop-color="#1f95ff"/><stop offset=".3" stop-color="#3f8bff"/><stop offset=".4" stop-color="#5f81ff"/><stop offset=".5" stop-color="#7c77ff"/><stop offset=".6" stop-color="#926cff"/><stop offset=".7" stop-color="#a860ff"/><stop offset=".8" stop-color="#bc54ff"/><stop offset=".9" stop-color="#c844ff"/><stop offset="1" stop-color="#d434ff"/></linearGradient>
<linearGradient id="g2_61" gradientUnits="userSpaceOnUse" x1="375.2" y1="0" x2="486.1" y2="0"><stop offset="0" stop-color="#00abff"/><stop offset=".1" stop-color="#0a9fff"/><stop offset=".2" stop-color="#1e95ff"/><stop offset=".3" stop-color="#3e8bff"/><stop offset=".4" stop-color="#5f81ff"/><stop offset=".5" stop-color="#7c77ff"/><stop offset=".6" stop-color="#926cff"/><stop offset=".7" stop-color="#a860ff"/><stop offset=".8" stop-color="#bc54ff"/><stop offset=".9" stop-color="#c944ff"/><stop offset="1" stop-color="#d534ff"/></linearGradient>
<linearGradient id="g2_60" gradientUnits="userSpaceOnUse" x1="373.3" y1="0" x2="484.2" y2="0"><stop offset="0" stop-color="#00aaff"/><stop offset=".1" stop-color="#0a9eff"/><stop offset=".2" stop-color="#1f95ff"/><stop offset=".3" stop-color="#3f8bff"/><stop offset=".4" stop-color="#5f81ff"/><stop offset=".5" stop-color="#7c77ff"/><stop offset=".6" stop-color="#926bff"/><stop offset=".7" stop-color="#a960ff"/><stop offset=".8" stop-color="#bd53ff"/><stop offset=".9" stop-color="#c943ff"/><stop offset="1" stop-color="#d533ff"/></linearGradient>
<linearGradient id="g2_59" gradientUnits="userSpaceOnUse" x1="371.4" y1="0" x2="482.3" y2="0"><stop offset="0" stop-color="#00aaff"/><stop offset=".1" stop-color="#0b9eff"/><stop offset=".2" stop-color="#2094ff"/><stop offset=".3" stop-color="#418aff"/><stop offset=".4" stop-color="#6081ff"/><stop offset=".5" stop-color="#7d77ff"/><stop offset=".6" stop-color="#936bff"/><stop offset=".7" stop-color="#a960ff"/><stop offset=".8" stop-color="#bd53ff"/><stop offset=".9" stop-color="#c943ff"/><stop offset="1" stop-color="#d533ff"/></linearGradient>
<linearGradient id="g2_58" gradientUnits="userSpaceOnUse" x1="369.4" y1="0" x2="480.3" y2="0"><stop offset="0" stop-color="#00a9ff"/><stop offset=".1" stop-color="#0c9dff"/><stop offset=".2" stop-color="#2194ff"/><stop offset=".3" stop-color="#428aff"/><stop offset=".4" stop-color="#6280ff"/><stop offset=".5" stop-color="#7e76ff"/><stop offset=".6" stop-color="#946bff"/><stop offset=".7" stop-color="#aa5fff"/><stop offset=".8" stop-color="#bd53ff"/><stop offset=".9" stop-color="#c943ff"/><stop offset="1" stop-color="#d633ff"/></linearGradient>
<linearGradient id="g2_57" gradientUnits="userSpaceOnUse" x1="367.5" y1="0" x2="478.4" y2="0"><stop offset="0" stop-color="#00a7ff"/><stop offset=".1" stop-color="#0e9cff"/><stop offset=".2" stop-color="#2393ff"/><stop offset=".3" stop-color="#4589ff"/><stop offset=".4" stop-color="#647fff"/><stop offset=".5" stop-color="#7f75ff"/><stop offset=".6" stop-color="#956aff"/><stop offset=".7" stop-color="#ab5fff"/><stop offset=".8" stop-color="#be52ff"/><stop offset=".9" stop-color="#ca43ff"/><stop offset="1" stop-color="#d633ff"/></linearGradient>
<linearGradient id="g2_56" gradientUnits="userSpaceOnUse" x1="365.6" y1="0" x2="476.5" y2="0"><stop offset="0" stop-color="#00a5ff"/><stop offset=".1" stop-color="#119bff"/><stop offset=".2" stop-color="#2692ff"/><stop offset=".3" stop-color="#4988ff"/><stop offset=".4" stop-color="#667fff"/><stop offset=".5" stop-color="#8075ff"/><stop offset=".6" stop-color="#966aff"/><stop offset=".7" stop-color="#ab5fff"/><stop offset=".8" stop-color="#be52ff"/><stop offset=".9" stop-color="#c943ff"/><stop offset="1" stop-color="#d534ff"/></linearGradient>
<linearGradient id="g2_55" gradientUnits="userSpaceOnUse" x1="363.7" y1="0" x2="474.6" y2="0"><stop offset="0" stop-color="#02a2ff"/><stop offset=".1" stop-color="#1599ff"/><stop offset=".2" stop-color="#2c90ff"/><stop offset=".3" stop-color="#4d87ff"/><stop offset=".4" stop-color="#687eff"/><stop offset=".5" stop-color="#8174ff"/><stop offset=".6" stop-color="#966aff"/><stop offset=".7" stop-color="#ab5fff"/><stop offset=".8" stop-color="#bd53ff"/><stop offset=".9" stop-color="#c844ff"/><stop offset="1" stop-color="#d435ff"/></linearGradient>
<linearGradient id="g2_54" gradientUnits="userSpaceOnUse" x1="361.8" y1="0" x2="472.7" y2="0"><stop offset="0" stop-color="#07a0ff"/><stop offset=".1" stop-color="#1997ff"/><stop offset=".2" stop-color="#318fff"/><stop offset=".3" stop-color="#5186ff"/><stop offset=".4" stop-color="#6b7dff"/><stop offset=".5" stop-color="#8274ff"/><stop offset=".6" stop-color="#9669ff"/><stop offset=".7" stop-color="#aa5fff"/><stop offset=".8" stop-color="#bc54ff"/><stop offset=".9" stop-color="#c746ff"/><stop offset="1" stop-color="#d238ff"/></linearGradient>
<linearGradient id="g2_53" gradientUnits="userSpaceOnUse" x1="359.9" y1="0" x2="470.8" y2="0"><stop offset="0" stop-color="#0d9dff"/><stop offset=".1" stop-color="#1e95ff"/><stop offset=".2" stop-color="#388dff"/><stop offset=".3" stop-color="#5584ff"/><stop offset=".4" stop-color="#6e7cff"/><stop offset=".5" stop-color="#8473ff"/><stop offset=".6" stop-color="#9669ff"/><stop offset=".7" stop-color="#a95fff"/><stop offset=".8" stop-color="#bb55ff"/><stop offset=".9" stop-color="#c548ff"/><stop offset="1" stop-color="#d03aff"/></linearGradient>
<linearGradient id="g2_52" gradientUnits="userSpaceOnUse" x1="357.9" y1="0" x2="468.8" y2="0"><stop offset="0" stop-color="#149aff"/><stop offset=".1" stop-color="#2592ff"/><stop offset=".2" stop-color="#418aff"/><stop offset=".3" stop-color="#5a83ff"/><stop offset=".4" stop-color="#717bff"/><stop offset=".5" stop-color="#8572ff"/><stop offset=".6" stop-color="#9769ff"/><stop offset=".7" stop-color="#a860ff"/><stop offset=".8" stop-color="#b957ff"/><stop offset=".9" stop-color="#c34bff"/><stop offset="1" stop-color="#cd3eff"/></linearGradient>
<linearGradient id="g2_51" gradientUnits="userSpaceOnUse" x1="356.0" y1="0" x2="466.9" y2="0"><stop offset="0" stop-color="#1d96ff"/><stop offset=".1" stop-color="#318fff"/><stop offset=".2" stop-color="#4a88ff"/><stop offset=".3" stop-color="#6081ff"/><stop offset=".4" stop-color="#757aff"/><stop offset=".5" stop-color="#8672ff"/><stop offset=".6" stop-color="#9669ff"/><stop offset=".7" stop-color="#a661ff"/><stop offset=".8" stop-color="#b659ff"/><stop offset=".9" stop-color="#c14eff"/><stop offset="1" stop-color="#c943ff"/></linearGradient>
<linearGradient id="g2_50" gradientUnits="userSpaceOnUse" x1="354.1" y1="0" x2="465.0" y2="0"><stop offset="0" stop-color="#2792ff"/><stop offset=".1" stop-color="#3d8bff"/><stop offset=".2" stop-color="#5385ff"/><stop offset=".3" stop-color="#667fff"/><stop offset=".4" stop-color="#7978ff"/><stop offset=".5" stop-color="#8771ff"/><stop offset=".6" stop-color="#966aff"/><stop offset=".7" stop-color="#a462ff"/><stop offset=".8" stop-color="#b25bff"/><stop offset=".9" stop-color="#bd52ff"/><stop offset="1" stop-color="#c548ff"/></linearGradient>
<linearGradient id="g2_49" gradientUnits="userSpaceOnUse" x1="352.2" y1="0" x2="463.1" y2="0"><stop offset="0" stop-color="#388dff"/><stop offset=".1" stop-color="#4b87ff"/><stop offset=".2" stop-color="#5c82ff"/><stop offset=".3" stop-color="#6c7dff"/><stop offset=".4" stop-color="#7c77ff"/><stop offset=".5" stop-color="#8871ff"/><stop offset=".6" stop-color="#946aff"/><stop offset=".7" stop-color="#a064ff"/><stop offset=".8" stop-color="#ac5eff"/><stop offset=".9" stop-color="#b957ff"/><stop offset="1" stop-color="#c04fff"/></linearGradient>
<linearGradient id="g2_48" gradientUnits="userSpaceOnUse" x1="350.3" y1="0" x2="461.2" y2="0"><stop offset="0" stop-color="#4b88ff"/><stop offset=".1" stop-color="#5883ff"/><stop offset=".2" stop-color="#657fff"/><stop offset=".3" stop-color="#737aff"/><stop offset=".4" stop-color="#7e76ff"/><stop offset=".5" stop-color="#8871ff"/><stop offset=".6" stop-color="#926bff"/><stop offset=".7" stop-color="#9c66ff"/><stop offset=".8" stop-color="#a661ff"/><stop offset=".9" stop-color="#b05cff"/><stop offset="1" stop-color="#ba57ff"/></linearGradient>
<linearGradient id="g2_47" gradientUnits="userSpaceOnUse" x1="348.4" y1="0" x2="459.3" y2="0"><stop offset="0" stop-color="#5c82ff"/><stop offset=".1" stop-color="#657fff"/><stop offset=".2" stop-color="#6f7cff"/><stop offset=".3" stop-color="#7978ff"/><stop offset=".4" stop-color="#8175ff"/><stop offset=".5" stop-color="#8871ff"/><stop offset=".6" stop-color="#8f6dff"/><stop offset=".7" stop-color="#9769ff"/><stop offset=".8" stop-color="#9e65ff"/><stop offset=".9" stop-color="#a661ff"/><stop offset="1" stop-color="#ad5dff"/></linearGradient>
<linearGradient id="g2_46" gradientUnits="userSpaceOnUse" x1="346.4" y1="0" x2="457.3" y2="0"><stop offset="0" stop-color="#6c7dff"/><stop offset=".1" stop-color="#727bff"/><stop offset=".2" stop-color="#7879ff"/><stop offset=".3" stop-color="#7d76ff"/><stop offset=".4" stop-color="#8274ff"/><stop offset=".5" stop-color="#8771ff"/><stop offset=".6" stop-color="#8b6fff"/><stop offset=".7" stop-color="#906dff"/><stop offset=".8" stop-color="#956aff"/><stop offset=".9" stop-color="#9968ff"/><stop offset="1" stop-color="#9e65ff"/></linearGradient>
<linearGradient id="g2_45" gradientUnits="userSpaceOnUse" x1="344.5" y1="0" x2="455.4" y2="0"><stop offset="0" stop-color="#7d77ff"/><stop offset=".1" stop-color="#7e76ff"/><stop offset=".2" stop-color="#8075ff"/><stop offset=".3" stop-color="#8274ff"/><stop offset=".4" stop-color="#8373ff"/><stop offset=".5" stop-color="#8572ff"/><stop offset=".6" stop-color="#8771ff"/><stop offset=".7" stop-color="#8871ff"/><stop offset=".8" stop-color="#8a70ff"/><stop offset=".9" stop-color="#8c6fff"/><stop offset="1" stop-color="#8e6eff"/></linearGradient>
<linearGradient id="g2_44" gradientUnits="userSpaceOnUse" x1="342.6" y1="0" x2="453.5" y2="0"><stop offset="0" stop-color="#8a70ff"/><stop offset=".1" stop-color="#8970ff"/><stop offset=".2" stop-color="#8871ff"/><stop offset=".3" stop-color="#8672ff"/><stop offset=".4" stop-color="#8572ff"/><stop offset=".5" stop-color="#8473ff"/><stop offset=".6" stop-color="#8274ff"/><stop offset=".7" stop-color="#8174ff"/><stop offset=".8" stop-color="#8075ff"/><stop offset=".9" stop-color="#7e76ff"/><stop offset="1" stop-color="#7d77ff"/></linearGradient>
<linearGradient id="g2_43" gradientUnits="userSpaceOnUse" x1="340.7" y1="0" x2="451.6" y2="0"><stop offset="0" stop-color="#9869ff"/><stop offset=".1" stop-color="#936bff"/><stop offset=".2" stop-color="#8f6dff"/><stop offset=".3" stop-color="#8a70ff"/><stop offset=".4" stop-color="#8672ff"/><stop offset=".5" stop-color="#8274ff"/><stop offset=".6" stop-color="#7d76ff"/><stop offset=".7" stop-color="#7879ff"/><stop offset=".8" stop-color="#727bff"/><stop offset=".9" stop-color="#6c7dff"/><stop offset="1" stop-color="#667fff"/></linearGradient>
<linearGradient id="g2_42" gradientUnits="userSpaceOnUse" x1="338.8" y1="0" x2="449.7" y2="0"><stop offset="0" stop-color="#a562ff"/><stop offset=".1" stop-color="#9d66ff"/><stop offset=".2" stop-color="#966aff"/><stop offset=".3" stop-color="#8e6eff"/><stop offset=".4" stop-color="#8771ff"/><stop offset=".5" stop-color="#7f75ff"/><stop offset=".6" stop-color="#7779ff"/><stop offset=".7" stop-color="#6d7cff"/><stop offset=".8" stop-color="#6380ff"/><stop offset=".9" stop-color="#5983ff"/><stop offset="1" stop-color="#4f87ff"/></linearGradient>
<linearGradient id="g2_41" gradientUnits="userSpaceOnUse" x1="336.9" y1="0" x2="447.8" y2="0"><stop offset="0" stop-color="#b25bff"/><stop offset=".1" stop-color="#a761ff"/><stop offset=".2" stop-color="#9d66ff"/><stop offset=".3" stop-color="#926cff"/><stop offset=".4" stop-color="#8771ff"/><stop offset=".5" stop-color="#7d77ff"/><stop offset=".6" stop-color="#6f7cff"/><stop offset=".7" stop-color="#6180ff"/><stop offset=".8" stop-color="#5385ff"/><stop offset=".9" stop-color="#438aff"/><stop offset="1" stop-color="#328eff"/></linearGradient>
<linearGradient id="g2_40" gradientUnits="userSpaceOnUse" x1="334.9" y1="0" x2="445.8" y2="0"><stop offset="0" stop-color="#bd53ff"/><stop offset=".1" stop-color="#b15bff"/><stop offset=".2" stop-color="#a363ff"/><stop offset=".3" stop-color="#966aff"/><stop offset=".4" stop-color="#8871ff"/><stop offset=".5" stop-color="#7a78ff"/><stop offset=".6" stop-color="#687eff"/><stop offset=".7" stop-color="#5684ff"/><stop offset=".8" stop-color="#418aff"/><stop offset=".9" stop-color="#2b90ff"/><stop offset="1" stop-color="#1b96ff"/></linearGradient>
<linearGradient id="g2_39" gradientUnits="userSpaceOnUse" x1="333.0" y1="0" x2="443.9" y2="0"><stop offset="0" stop-color="#c44aff"/><stop offset=".1" stop-color="#ba56ff"/><stop offset=".2" stop-color="#aa5fff"/><stop offset=".3" stop-color="#9968ff"/><stop offset=".4" stop-color="#8871ff"/><stop offset=".5" stop-color="#7779ff"/><stop offset=".6" stop-color="#6181ff"/><stop offset=".7" stop-color="#4988ff"/><stop offset=".8" stop-color="#2e8fff"/><stop offset=".9" stop-color="#1a97ff"/><stop offset="1" stop-color="#0b9eff"/></linearGradient>
<linearGradient id="g2_38" gradientUnits="userSpaceOnUse" x1="331.1" y1="0" x2="442.0" y2="0"><stop offset="0" stop-color="#ca42ff"/><stop offset=".1" stop-color="#bf50ff"/><stop offset=".2" stop-color="#b05cff"/><stop offset=".3" stop-color="#9d66ff"/><stop offset=".4" stop-color="#8970ff"/><stop offset=".5" stop-color="#747aff"/><stop offset=".6" stop-color="#5a83ff"/><stop offset=".7" stop-color="#3d8bff"/><stop offset=".8" stop-color="#2094ff"/><stop offset=".9" stop-color="#0e9dff"/><stop offset="1" stop-color="#00a6ff"/></linearGradient>
<linearGradient id="g2_37" gradientUnits="userSpaceOnUse" x1="329.2" y1="0" x2="440.1" y2="0"><stop offset="0" stop-color="#d139ff"/><stop offset=".1" stop-color="#c449ff"/><stop offset=".2" stop-color="#b659ff"/><stop offset=".3" stop-color="#a064ff"/><stop offset=".4" stop-color="#8a70ff"/><stop offset=".5" stop-color="#717bff"/><stop offset=".6" stop-color="#5385ff"/><stop offset=".7" stop-color="#308fff"/><stop offset=".8" stop-color="#1699ff"/><stop offset=".9" stop-color="#01a3ff"/><stop offset="1" stop-color="#00b0ff"/></linearGradient>
<linearGradient id="g2_36" gradientUnits="userSpaceOnUse" x1="327.3" y1="0" x2="438.2" y2="0"><stop offset="0" stop-color="#d731ff"/><stop offset=".1" stop-color="#c943ff"/><stop offset=".2" stop-color="#bb55ff"/><stop offset=".3" stop-color="#a363ff"/><stop offset=".4" stop-color="#8a70ff"/><stop offset=".5" stop-color="#6e7cff"/><stop offset=".6" stop-color="#4d87ff"/><stop offset=".7" stop-color="#2592ff"/><stop offset=".8" stop-color="#0d9dff"/><stop offset=".9" stop-color="#00aaff"/><stop offset="1" stop-color="#00baff"/></linearGradient>
<linearGradient id="g2_35" gradientUnits="userSpaceOnUse" x1="325.4" y1="0" x2="436.3" y2="0"><stop offset="0" stop-color="#dd2aff"/><stop offset=".1" stop-color="#ce3dff"/><stop offset=".2" stop-color="#bf51ff"/><stop offset=".3" stop-color="#a761ff"/><stop offset=".4" stop-color="#8c6fff"/><stop offset=".5" stop-color="#6d7cff"/><stop offset=".6" stop-color="#4789ff"/><stop offset=".7" stop-color="#1f95ff"/><stop offset=".8" stop-color="#05a1ff"/><stop offset=".9" stop-color="#00b1ff"/><stop offset="1" stop-color="#00c2ff"/></linearGradient>
<linearGradient id="g2_34" gradientUnits="userSpaceOnUse" x1="323.4" y1="0" x2="434.3" y2="0"><stop offset="0" stop-color="#e324ff"/><stop offset=".1" stop-color="#d336ff"/><stop offset=".2" stop-color="#c34cff"/><stop offset=".3" stop-color="#ac5eff"/><stop offset=".4" stop-color="#8e6eff"/><stop offset=".5" stop-color="#6c7dff"/><stop offset=".6" stop-color="#428aff"/><stop offset=".7" stop-color="#1997ff"/><stop offset=".8" stop-color="#00a5ff"/><stop offset=".9" stop-color="#00b8ff"/><stop offset="1" stop-color="#00ccff"/></linearGradient>
<linearGradient id="g2_33" gradientUnits="userSpaceOnUse" x1="321.5" y1="0" x2="432.4" y2="0"><stop offset="0" stop-color="#e91fff"/><stop offset=".1" stop-color="#d92fff"/><stop offset=".2" stop-color="#c746ff"/><stop offset=".3" stop-color="#b15cff"/><stop offset=".4" stop-color="#906cff"/><stop offset=".5" stop-color="#6d7cff"/><stop offset=".6" stop-color="#3f8bff"/><stop offset=".7" stop-color="#1599ff"/><stop offset=".8" stop-color="#00a9ff"/><stop offset=".9" stop-color="#00beff"/><stop offset="1" stop-color="#00d5ff"/></linearGradient>
<linearGradient id="g2_32" gradientUnits="userSpaceOnUse" x1="319.6" y1="0" x2="430.5" y2="0"><stop offset="0" stop-color="#ef19ff"/><stop offset=".1" stop-color="#de29ff"/><stop offset=".2" stop-color="#cb41ff"/><stop offset=".3" stop-color="#b659ff"/><stop offset=".4" stop-color="#936bff"/><stop offset=".5" stop-color="#6e7cff"/><stop offset=".6" stop-color="#3d8bff"/><stop offset=".7" stop-color="#129bff"/><stop offset=".8" stop-color="#00adff"/><stop offset=".9" stop-color="#00c2ff"/><stop offset="1" stop-color="#00dcff"/></linearGradient>
<linearGradient id="g2_31" gradientUnits="userSpaceOnUse" x1="317.7" y1="0" x2="428.6" y2="0"><stop offset="0" stop-color="#f415ff"/><stop offset=".1" stop-color="#e225ff"/><stop offset=".2" stop-color="#ce3cff"/><stop offset=".3" stop-color="#ba56ff"/><stop offset=".4" stop-color="#9669ff"/><stop offset=".5" stop-color="#6f7cff"/><stop offset=".6" stop-color="#3b8cff"/><stop offset=".7" stop-color="#0f9cff"/><stop offset=".8" stop-color="#00b0ff"/><stop offset=".9" stop-color="#00c7ff"/><stop offset="1" stop-color="#00e2ff"/></linearGradient>
<linearGradient id="g2_30" gradientUnits="userSpaceOnUse" x1="315.8" y1="0" x2="426.7" y2="0"><stop offset="0" stop-color="#f811ff"/><stop offset=".1" stop-color="#e522ff"/><stop offset=".2" stop-color="#d138ff"/><stop offset=".3" stop-color="#bd54ff"/><stop offset=".4" stop-color="#9968ff"/><stop offset=".5" stop-color="#707bff"/><stop offset=".6" stop-color="#3a8cff"/><stop offset=".7" stop-color="#0d9dff"/><stop offset=".8" stop-color="#00b2ff"/><stop offset=".9" stop-color="#00cbff"/><stop offset="1" stop-color="#00e7ff"/></linearGradient>
<linearGradient id="g2_29" gradientUnits="userSpaceOnUse" x1="313.9" y1="0" x2="424.8" y2="0"><stop offset="0" stop-color="#fc0dff"/><stop offset=".1" stop-color="#e81fff"/><stop offset=".2" stop-color="#d435ff"/><stop offset=".3" stop-color="#bf51ff"/><stop offset=".4" stop-color="#9b67ff"/><stop offset=".5" stop-color="#727bff"/><stop offset=".6" stop-color="#3a8cff"/><stop offset=".7" stop-color="#0c9dff"/><stop offset=".8" stop-color="#00b3ff"/><stop offset=".9" stop-color="#00ceff"/><stop offset="1" stop-color="#00ebff"/></linearGradient>
<linearGradient id="g2_28" gradientUnits="userSpaceOnUse" x1="311.9" y1="0" x2="422.8" y2="0"><stop offset="0" stop-color="#ff0aff"/><stop offset=".1" stop-color="#eb1dff"/><stop offset=".2" stop-color="#d731ff"/><stop offset=".3" stop-color="#c14eff"/><stop offset=".4" stop-color="#9e65ff"/><stop offset=".5" stop-color="#747aff"/><stop offset=".6" stop-color="#3c8cff"/><stop offset=".7" stop-color="#0c9dff"/><stop offset=".8" stop-color="#00b4ff"/><stop offset=".9" stop-color="#00cfff"/><stop offset="1" stop-color="#00edff"/></linearGradient>
<linearGradient id="g2_27" gradientUnits="userSpaceOnUse" x1="310.0" y1="0" x2="420.9" y2="0"><stop offset="0" stop-color="#ff09ff"/><stop offset=".1" stop-color="#ee1aff"/><stop offset=".2" stop-color="#d92eff"/><stop offset=".3" stop-color="#c34bff"/><stop offset=".4" stop-color="#a164ff"/><stop offset=".5" stop-color="#7779ff"/><stop offset=".6" stop-color="#3e8bff"/><stop offset=".7" stop-color="#0d9dff"/><stop offset=".8" stop-color="#00b4ff"/><stop offset=".9" stop-color="#00d0ff"/><stop offset="1" stop-color="#00eeff"/></linearGradient>
<linearGradient id="g2_26" gradientUnits="userSpaceOnUse" x1="308.1" y1="0" x2="419.0" y2="0"><stop offset="0" stop-color="#ff08ff"/><stop offset=".1" stop-color="#ef19ff"/><stop offset=".2" stop-color="#db2cff"/><stop offset=".3" stop-color="#c44aff"/><stop offset=".4" stop-color="#a363ff"/><stop offset=".5" stop-color="#7a78ff"/><stop offset=".6" stop-color="#418aff"/><stop offset=".7" stop-color="#0e9dff"/><stop offset=".8" stop-color="#00b4ff"/><stop offset=".9" stop-color="#00cfff"/><stop offset="1" stop-color="#00edff"/></linearGradient>
<linearGradient id="g2_25" gradientUnits="userSpaceOnUse" x1="306.2" y1="0" x2="417.1" y2="0"><stop offset="0" stop-color="#ff08ff"/><stop offset=".1" stop-color="#ef19ff"/><stop offset=".2" stop-color="#db2cff"/><stop offset=".3" stop-color="#c449ff"/><stop offset=".4" stop-color="#a462ff"/><stop offset=".5" stop-color="#7b77ff"/><stop offset=".6" stop-color="#4489ff"/><stop offset=".7" stop-color="#109cff"/><stop offset=".8" stop-color="#00b2ff"/><stop offset=".9" stop-color="#00cdff"/><stop offset="1" stop-color="#00ebff"/></linearGradient>
<linearGradient id="g2_24" gradientUnits="userSpaceOnUse" x1="304.3" y1="0" x2="415.2" y2="0"><stop offset="0" stop-color="#ff09ff"/><stop offset=".1" stop-color="#ee1aff"/><stop offset=".2" stop-color="#da2dff"/><stop offset=".3" stop-color="#c549ff"/><stop offset=".4" stop-color="#a562ff"/><stop offset=".5" stop-color="#7d76ff"/><stop offset=".6" stop-color="#4988ff"/><stop offset=".7" stop-color="#149aff"/><stop offset=".8" stop-color="#00afff"/><stop offset=".9" stop-color="#00c8ff"/><stop offset="1" stop-color="#00e6ff"/></linearGradient>
<linearGradient id="g2_23" gradientUnits="userSpaceOnUse" x1="302.3" y1="0" x2="413.2" y2="0"><stop offset="0" stop-color="#ff0aff"/><stop offset=".1" stop-color="#ec1cff"/><stop offset=".2" stop-color="#d92fff"/><stop offset=".3" stop-color="#c44aff"/><stop offset=".4" stop-color="#a562ff"/><stop offset=".5" stop-color="#7e76ff"/><stop offset=".6" stop-color="#4c87ff"/><stop offset=".7" stop-color="#1798ff"/><stop offset=".8" stop-color="#00acff"/><stop offset=".9" stop-color="#00c4ff"/><stop offset="1" stop-color="#00e0ff"/></linearGradient>
<linearGradient id="g2_22" gradientUnits="userSpaceOnUse" x1="300.4" y1="0" x2="411.3" y2="0"><stop offset="0" stop-color="#fc0dff"/><stop offset=".1" stop-color="#e91eff"/><stop offset=".2" stop-color="#d732ff"/><stop offset=".3" stop-color="#c24cff"/><stop offset=".4" stop-color="#a462ff"/><stop offset=".5" stop-color="#7f75ff"/><stop offset=".6" stop-color="#5086ff"/><stop offset=".7" stop-color="#1b96ff"/><stop offset=".8" stop-color="#00a8ff"/><stop offset=".9" stop-color="#00bfff"/><stop offset="1" stop-color="#00daff"/></linearGradient>
<linearGradient id="g2_21" gradientUnits="userSpaceOnUse" x1="298.5" y1="0" x2="409.4" y2="0"><stop offset="0" stop-color="#f811ff"/><stop offset=".1" stop-color="#e621ff"/><stop offset=".2" stop-color="#d435ff"/><stop offset=".3" stop-color="#c04eff"/><stop offset=".4" stop-color="#a263ff"/><stop offset=".5" stop-color="#7f75ff"/><stop offset=".6" stop-color="#5285ff"/><stop offset=".7" stop-color="#1e95ff"/><stop offset=".8" stop-color="#00a5ff"/><stop offset=".9" stop-color="#00bbff"/><stop offset="1" stop-color="#00d4ff"/></linearGradient>
<linearGradient id="g2_20" gradientUnits="userSpaceOnUse" x1="296.6" y1="0" x2="407.5" y2="0"><stop offset="0" stop-color="#f315ff"/><stop offset=".1" stop-color="#e325ff"/><stop offset=".2" stop-color="#d139ff"/><stop offset=".3" stop-color="#be51ff"/><stop offset=".4" stop-color="#a064ff"/><stop offset=".5" stop-color="#7f76ff"/><stop offset=".6" stop-color="#5485ff"/><stop offset=".7" stop-color="#2194ff"/><stop offset=".8" stop-color="#01a3ff"/><stop offset=".9" stop-color="#00b7ff"/><stop offset="1" stop-color="#00ceff"/></linearGradient>
<linearGradient id="g2_19" gradientUnits="userSpaceOnUse" x1="294.7" y1="0" x2="405.6" y2="0"><stop offset="0" stop-color="#ef19ff"/><stop offset=".1" stop-color="#df28ff"/><stop offset=".2" stop-color="#ce3cff"/><stop offset=".3" stop-color="#bd53ff"/><stop offset=".4" stop-color="#9f65ff"/><stop offset=".5" stop-color="#7f76ff"/><stop offset=".6" stop-color="#5684ff"/><stop offset=".7" stop-color="#2492ff"/><stop offset=".8" stop-color="#06a0ff"/><stop offset=".9" stop-color="#00b3ff"/><stop offset="1" stop-color="#00c8ff"/></linearGradient>
<linearGradient id="g2_18" gradientUnits="userSpaceOnUse" x1="292.8" y1="0" x2="403.7" y2="0"><stop offset="0" stop-color="#eb1dff"/><stop offset=".1" stop-color="#dc2bff"/><stop offset=".2" stop-color="#cc40ff"/><stop offset=".3" stop-color="#bb56ff"/><stop offset=".4" stop-color="#9d66ff"/><stop offset=".5" stop-color="#7f76ff"/><stop offset=".6" stop-color="#5883ff"/><stop offset=".7" stop-color="#2991ff"/><stop offset=".8" stop-color="#0b9eff"/><stop offset=".9" stop-color="#00afff"/><stop offset="1" stop-color="#00c2ff"/></linearGradient>
<linearGradient id="g2_17" gradientUnits="userSpaceOnUse" x1="290.8" y1="0" x2="401.7" y2="0"><stop offset="0" stop-color="#e720ff"/><stop offset=".1" stop-color="#d92fff"/><stop offset=".2" stop-color="#c944ff"/><stop offset=".3" stop-color="#b858ff"/><stop offset=".4" stop-color="#9b67ff"/><stop offset=".5" stop-color="#7f76ff"/><stop offset=".6" stop-color="#5a83ff"/><stop offset=".7" stop-color="#2e8fff"/><stop offset=".8" stop-color="#0f9cff"/><stop offset=".9" stop-color="#00abff"/><stop offset="1" stop-color="#00bdff"/></linearGradient>
<linearGradient id="g2_16" gradientUnits="userSpaceOnUse" x1="288.9" y1="0" x2="399.8" y2="0"><stop offset="0" stop-color="#e324ff"/><stop offset=".1" stop-color="#d534ff"/><stop offset=".2" stop-color="#c647ff"/><stop offset=".3" stop-color="#b55aff"/><stop offset=".4" stop-color="#9a68ff"/><stop offset=".5" stop-color="#7f76ff"/><stop offset=".6" stop-color="#5c82ff"/><stop offset=".7" stop-color="#348eff"/><stop offset=".8" stop-color="#149aff"/><stop offset=".9" stop-color="#00a7ff"/><stop offset="1" stop-color="#00b8ff"/></linearGradient>
<linearGradient id="g2_15" gradientUnits="userSpaceOnUse" x1="287.0" y1="0" x2="397.9" y2="0"><stop offset="0" stop-color="#df28ff"/><stop offset=".1" stop-color="#d138ff"/><stop offset=".2" stop-color="#c34bff"/><stop offset=".3" stop-color="#b15bff"/><stop offset=".4" stop-color="#9868ff"/><stop offset=".5" stop-color="#7e76ff"/><stop offset=".6" stop-color="#5e81ff"/><stop offset=".7" stop-color="#398dff"/><stop offset=".8" stop-color="#1898ff"/><stop offset=".9" stop-color="#00a3ff"/><stop offset="1" stop-color="#00b3ff"/></linearGradient>
<linearGradient id="g2_14" gradientUnits="userSpaceOnUse" x1="285.1" y1="0" x2="396.0" y2="0"><stop offset="0" stop-color="#db2cff"/><stop offset=".1" stop-color="#ce3dff"/><stop offset=".2" stop-color="#c14eff"/><stop offset=".3" stop-color="#ae5dff"/><stop offset=".4" stop-color="#9669ff"/><stop offset=".5" stop-color="#7e76ff"/><stop offset=".6" stop-color="#6081ff"/><stop offset=".7" stop-color="#3e8bff"/><stop offset=".8" stop-color="#1d96ff"/><stop offset=".9" stop-color="#06a0ff"/><stop offset="1" stop-color="#00aeff"/></linearGradient>
<linearGradient id="g2_13" gradientUnits="userSpaceOnUse" x1="283.2" y1="0" x2="394.1" y2="0"><stop offset="0" stop-color="#d632ff"/><stop offset=".1" stop-color="#ca42ff"/><stop offset=".2" stop-color="#be52ff"/><stop offset=".3" stop-color="#ab5fff"/><stop offset=".4" stop-color="#946aff"/><stop offset=".5" stop-color="#7e76ff"/><stop offset=".6" stop-color="#6280ff"/><stop offset=".7" stop-color="#438aff"/><stop offset=".8" stop-color="#2193ff"/><stop offset=".9" stop-color="#0d9dff"/><stop offset="1" stop-color="#00a9ff"/></linearGradient>
<linearGradient id="g2_12" gradientUnits="userSpaceOnUse" x1="281.3" y1="0" x2="392.2" y2="0"><stop offset="0" stop-color="#d238ff"/><stop offset=".1" stop-color="#c647ff"/><stop offset=".2" stop-color="#bb56ff"/><stop offset=".3" stop-color="#a761ff"/><stop offset=".4" stop-color="#936bff"/><stop offset=".5" stop-color="#7e76ff"/><stop offset=".6" stop-color="#647fff"/><stop offset=".7" stop-color="#4888ff"/><stop offset=".8" stop-color="#2791ff"/><stop offset=".9" stop-color="#139aff"/><stop offset="1" stop-color="#00a4ff"/></linearGradient>
<linearGradient id="g2_11" gradientUnits="userSpaceOnUse" x1="279.3" y1="0" x2="390.2" y2="0"><stop offset="0" stop-color="#cd3eff"/><stop offset=".1" stop-color="#c34cff"/><stop offset=".2" stop-color="#b758ff"/><stop offset=".3" stop-color="#a462ff"/><stop offset=".4" stop-color="#916cff"/><stop offset=".5" stop-color="#7e76ff"/><stop offset=".6" stop-color="#677fff"/><stop offset=".7" stop-color="#4d87ff"/><stop offset=".8" stop-color="#2f8fff"/><stop offset=".9" stop-color="#1998ff"/><stop offset="1" stop-color="#07a0ff"/></linearGradient>
<linearGradient id="g2_10" gradientUnits="userSpaceOnUse" x1="277.4" y1="0" x2="388.3" y2="0"><stop offset="0" stop-color="#c944ff"/><stop offset=".1" stop-color="#bf50ff"/><stop offset=".2" stop-color="#b25bff"/><stop offset=".3" stop-color="#a164ff"/><stop offset=".4" stop-color="#8f6dff"/><stop offset=".5" stop-color="#7e76ff"/><stop offset=".6" stop-color="#697eff"/><stop offset=".7" stop-color="#5285ff"/><stop offset=".8" stop-color="#378dff"/><stop offset=".9" stop-color="#1f95ff"/><stop offset="1" stop-color="#0f9cff"/></linearGradient>
<linearGradient id="g2_9" gradientUnits="userSpaceOnUse" x1="275.5" y1="0" x2="386.4" y2="0"><stop offset="0" stop-color="#c44aff"/><stop offset=".1" stop-color="#bb55ff"/><stop offset=".2" stop-color="#ad5eff"/><stop offset=".3" stop-color="#9d66ff"/><stop offset=".4" stop-color="#8e6eff"/><stop offset=".5" stop-color="#7e76ff"/><stop offset=".6" stop-color="#6b7dff"/><stop offset=".7" stop-color="#5684ff"/><stop offset=".8" stop-color="#3f8bff"/><stop offset=".9" stop-color="#2692ff"/><stop offset="1" stop-color="#1699ff"/></linearGradient>
<linearGradient id="g2_8" gradientUnits="userSpaceOnUse" x1="273.6" y1="0" x2="384.5" y2="0"><stop offset="0" stop-color="#bf50ff"/><stop offset=".1" stop-color="#b659ff"/><stop offset=".2" stop-color="#a860ff"/><stop offset=".3" stop-color="#9a67ff"/><stop offset=".4" stop-color="#8c6fff"/><stop offset=".5" stop-color="#7e76ff"/><stop offset=".6" stop-color="#6d7cff"/><stop offset=".7" stop-color="#5a83ff"/><stop offset=".8" stop-color="#4689ff"/><stop offset=".9" stop-color="#308fff"/><stop offset="1" stop-color="#1e95ff"/></linearGradient>
<linearGradient id="g2_7" gradientUnits="userSpaceOnUse" x1="271.7" y1="0" x2="382.6" y2="0"><stop offset="0" stop-color="#bb56ff"/><stop offset=".1" stop-color="#af5cff"/><stop offset=".2" stop-color="#a363ff"/><stop offset=".3" stop-color="#9769ff"/><stop offset=".4" stop-color="#8a70ff"/><stop offset=".5" stop-color="#7e76ff"/><stop offset=".6" stop-color="#6f7cff"/><stop offset=".7" stop-color="#5f81ff"/><stop offset=".8" stop-color="#4e87ff"/><stop offset=".9" stop-color="#3a8cff"/><stop offset="1" stop-color="#2791ff"/></linearGradient>
<linearGradient id="g2_6" gradientUnits="userSpaceOnUse" x1="269.8" y1="0" x2="380.7" y2="0"><stop offset="0" stop-color="#b35aff"/><stop offset=".1" stop-color="#a960ff"/><stop offset=".2" stop-color="#9e65ff"/><stop offset=".3" stop-color="#936bff"/><stop offset=".4" stop-color="#8970ff"/><stop offset=".5" stop-color="#7e76ff"/><stop offset=".6" stop-color="#717bff"/><stop offset=".7" stop-color="#6380ff"/><stop offset=".8" stop-color="#5584ff"/><stop offset=".9" stop-color="#4589ff"/><stop offset="1" stop-color="#348eff"/></linearGradient>
<linearGradient id="g2_5" gradientUnits="userSpaceOnUse" x1="267.8" y1="0" x2="378.7" y2="0"><stop offset="0" stop-color="#ab5fff"/><stop offset=".1" stop-color="#a263ff"/><stop offset=".2" stop-color="#9968ff"/><stop offset=".3" stop-color="#906dff"/><stop offset=".4" stop-color="#8771ff"/><stop offset=".5" stop-color="#7e76ff"/><stop offset=".6" stop-color="#737aff"/><stop offset=".7" stop-color="#677eff"/><stop offset=".8" stop-color="#5b82ff"/><stop offset=".9" stop-color="#4f86ff"/><stop offset="1" stop-color="#418aff"/></linearGradient>
<linearGradient id="g2_4" gradientUnits="userSpaceOnUse" x1="265.9" y1="0" x2="376.8" y2="0"><stop offset="0" stop-color="#a363ff"/><stop offset=".1" stop-color="#9b67ff"/><stop offset=".2" stop-color="#946bff"/><stop offset=".3" stop-color="#8d6eff"/><stop offset=".4" stop-color="#8572ff"/><stop offset=".5" stop-color="#7e76ff"/><stop offset=".6" stop-color="#757aff"/><stop offset=".7" stop-color="#6b7dff"/><stop offset=".8" stop-color="#6280ff"/><stop offset=".9" stop-color="#5883ff"/><stop offset="1" stop-color="#4e87ff"/></linearGradient>
<linearGradient id="g2_3" gradientUnits="userSpaceOnUse" x1="264.0" y1="0" x2="374.9" y2="0"><stop offset="0" stop-color="#9a67ff"/><stop offset=".1" stop-color="#956aff"/><stop offset=".2" stop-color="#8f6dff"/><stop offset=".3" stop-color="#8970ff"/><stop offset=".4" stop-color="#8373ff"/><stop offset=".5" stop-color="#7e76ff"/><stop offset=".6" stop-color="#7779ff"/><stop offset=".7" stop-color="#707bff"/><stop offset=".8" stop-color="#687eff"/><stop offset=".9" stop-color="#6081ff"/><stop offset="1" stop-color="#5983ff"/></linearGradient>
<linearGradient id="g2_2" gradientUnits="userSpaceOnUse" x1="262.1" y1="0" x2="373.0" y2="0"><stop offset="0" stop-color="#926cff"/><stop offset=".1" stop-color="#8e6eff"/><stop offset=".2" stop-color="#8a70ff"/><stop offset=".3" stop-color="#8672ff"/><stop offset=".4" stop-color="#8274ff"/><stop offset=".5" stop-color="#7e76ff"/><stop offset=".6" stop-color="#7978ff"/><stop offset=".7" stop-color="#747aff"/><stop offset=".8" stop-color="#6e7cff"/><stop offset=".9" stop-color="#697eff"/><stop offset="1" stop-color="#647fff"/></linearGradient>
<linearGradient id="g2_1" gradientUnits="userSpaceOnUse" x1="260.2" y1="0" x2="371.1" y2="0"><stop offset="0" stop-color="#8a70ff"/><stop offset=".1" stop-color="#8771ff"/><stop offset=".2" stop-color="#8572ff"/><stop offset=".3" stop-color="#8274ff"/><stop offset=".4" stop-color="#8075ff"/><stop offset=".5" stop-color="#7e76ff"/><stop offset=".6" stop-color="#7b77ff"/><stop offset=".7" stop-color="#7879ff"/><stop offset=".8" stop-color="#757aff"/><stop offset=".9" stop-color="#727bff"/><stop offset="1" stop-color="#6e7cff"/></linearGradient>
<linearGradient id="g2_0" gradientUnits="userSpaceOnUse" x1="258.3" y1="0" x2="369.2" y2="0"><stop offset="0" stop-color="#8274ff"/><stop offset=".1" stop-color="#8175ff"/><stop offset=".2" stop-color="#8075ff"/><stop offset=".3" stop-color="#7f75ff"/><stop offset=".4" stop-color="#7e76ff"/><stop offset=".5" stop-color="#7d76ff"/><stop offset=".6" stop-color="#7d77ff"/><stop offset=".7" stop-color="#7c77ff"/><stop offset=".8" stop-color="#7b78ff"/><stop offset=".9" stop-color="#7a78ff"/><stop offset="1" stop-color="#7978ff"/></linearGradient></defs>
<rect width="773" height="401" fill="#fff"/>
<line x1="61.50" y1="122.20" x2="253.20" y2="93.60" stroke="#f0f0f0" stroke-width="0.6"/>
<line x1="89.22" y1="134.68" x2="280.92" y2="106.08" stroke="#f0f0f0" stroke-width="0.6"/>
<line x1="116.95" y1="147.15" x2="308.65" y2="118.55" stroke="#f0f0f0" stroke-width="0.6"/>
<line x1="144.68" y1="159.62" x2="336.38" y2="131.03" stroke="#f0f0f0" stroke-width="0.6"/>
<line x1="172.40" y1="172.10" x2="364.10" y2="143.50" stroke="#f0f0f0" stroke-width="0.6"/>
<line x1="61.50" y1="122.20" x2="172.40" y2="172.10" stroke="#f0f0f0" stroke-width="0.6"/>
<line x1="99.84" y1="116.48" x2="210.74" y2="166.38" stroke="#f0f0f0" stroke-width="0.6"/>
<line x1="138.18" y1="110.76" x2="249.08" y2="160.66" stroke="#f0f0f0" stroke-width="0.6"/>
<line x1="176.52" y1="105.04" x2="287.42" y2="154.94" stroke="#f0f0f0" stroke-width="0.6"/>
<line x1="214.86" y1="99.32" x2="325.76" y2="149.22" stroke="#f0f0f0" stroke-width="0.6"/>
<line x1="253.20" y1="93.60" x2="364.10" y2="143.50" stroke="#f0f0f0" stroke-width="0.6"/>
<line x1="61.50" y1="120.69" x2="253.20" y2="92.09" stroke="#f0f0f0" stroke-width="0.6"/>
<line x1="61.50" y1="100.84" x2="253.20" y2="72.24" stroke="#f0f0f0" stroke-width="0.6"/>
<line x1="61.50" y1="80.99" x2="253.20" y2="52.39" stroke="#f0f0f0" stroke-width="0.6"/>
<line x1="61.50" y1="61.14" x2="253.20" y2="32.54" stroke="#f0f0f0" stroke-width="0.6"/>
<line x1="61.50" y1="41.29" x2="253.20" y2="12.69" stroke="#f0f0f0" stroke-width="0.6"/>
<line x1="61.50" y1="122.20" x2="61.50" y2="41.29" stroke="#f0f0f0" stroke-width="0.6"/>
<line x1="99.84" y1="116.48" x2="99.84" y2="35.57" stroke="#f0f0f0" stroke-width="0.6"/>
<line x1="138.18" y1="110.76" x2="138.18" y2="29.85" stroke="#f0f0f0" stroke-width="0.6"/>
<line x1="176.52" y1="105.04" x2="176.52" y2="24.13" stroke="#f0f0f0" stroke-width="0.6"/>
<line x1="214.86" y1="99.32" x2="214.86" y2="18.41" stroke="#f0f0f0" stroke-width="0.6"/>
<line x1="253.20" y1="93.60" x2="253.20" y2="12.69" stroke="#f0f0f0" stroke-width="0.6"/>
<line x1="253.20" y1="92.09" x2="364.10" y2="141.99" stroke="#f0f0f0" stroke-width="0.6"/>
<line x1="253.20" y1="72.24" x2="364.10" y2="122.14" stroke="#f0f0f0" stroke-width="0.6"/>
<line x1="253.20" y1="52.39" x2="364.10" y2="102.29" stroke="#f0f0f0" stroke-width="0.6"/>
<line x1="253.20" y1="32.54" x2="364.10" y2="82.44" stroke="#f0f0f0" stroke-width="0.6"/>
<line x1="253.20" y1="12.69" x2="364.10" y2="62.59" stroke="#f0f0f0" stroke-width="0.6"/>
<line x1="253.20" y1="93.60" x2="253.20" y2="12.69" stroke="#f0f0f0" stroke-width="0.6"/>
<line x1="280.92" y1="106.08" x2="280.92" y2="25.17" stroke="#f0f0f0" stroke-width="0.6"/>
<line x1="308.65" y1="118.55" x2="308.65" y2="37.64" stroke="#f0f0f0" stroke-width="0.6"/>
<line x1="336.38" y1="131.03" x2="336.38" y2="50.12" stroke="#f0f0f0" stroke-width="0.6"/>
<line x1="364.10" y1="143.50" x2="364.10" y2="62.59" stroke="#f0f0f0" stroke-width="0.6"/>
<line x1="453.40" y1="122.45" x2="645.10" y2="93.85" stroke="#f0f0f0" stroke-width="0.6"/>
<line x1="481.12" y1="134.93" x2="672.83" y2="106.33" stroke="#f0f0f0" stroke-width="0.6"/>
<line x1="508.85" y1="147.40" x2="700.55" y2="118.80" stroke="#f0f0f0" stroke-width="0.6"/>
<line x1="536.58" y1="159.88" x2="728.28" y2="131.28" stroke="#f0f0f0" stroke-width="0.6"/>
<line x1="564.30" y1="172.35" x2="756.00" y2="143.75" stroke="#f0f0f0" stroke-width="0.6"/>
<line x1="453.40" y1="122.45" x2="564.30" y2="172.35" stroke="#f0f0f0" stroke-width="0.6"/>
<line x1="491.74" y1="116.73" x2="602.64" y2="166.63" stroke="#f0f0f0" stroke-width="0.6"/>
<line x1="530.08" y1="111.01" x2="640.98" y2="160.91" stroke="#f0f0f0" stroke-width="0.6"/>
<line x1="568.42" y1="105.29" x2="679.32" y2="155.19" stroke="#f0f0f0" stroke-width="0.6"/>
<line x1="606.76" y1="99.57" x2="717.66" y2="149.47" stroke="#f0f0f0" stroke-width="0.6"/>
<line x1="645.10" y1="93.85" x2="756.00" y2="143.75" stroke="#f0f0f0" stroke-width="0.6"/>
<line x1="453.40" y1="122.45" x2="645.10" y2="93.85" stroke="#f0f0f0" stroke-width="0.6"/>
<line x1="453.40" y1="101.89" x2="645.10" y2="73.29" stroke="#f0f0f0" stroke-width="0.6"/>
<line x1="453.40" y1="81.33" x2="645.10" y2="52.72" stroke="#f0f0f0" stroke-width="0.6"/>
<line x1="453.40" y1="60.76" x2="645.10" y2="32.16" stroke="#f0f0f0" stroke-width="0.6"/>
<line x1="453.40" y1="40.20" x2="645.10" y2="11.60" stroke="#f0f0f0" stroke-width="0.6"/>
<line x1="453.40" y1="122.45" x2="453.40" y2="40.20" stroke="#f0f0f0" stroke-width="0.6"/>
<line x1="491.74" y1="116.73" x2="491.74" y2="34.48" stroke="#f0f0f0" stroke-width="0.6"/>
<line x1="530.08" y1="111.01" x2="530.08" y2="28.76" stroke="#f0f0f0" stroke-width="0.6"/>
<line x1="568.42" y1="105.29" x2="568.42" y2="23.04" stroke="#f0f0f0" stroke-width="0.6"/>
<line x1="606.76" y1="99.57" x2="606.76" y2="17.32" stroke="#f0f0f0" stroke-width="0.6"/>
<line x1="645.10" y1="93.85" x2="645.10" y2="11.60" stroke="#f0f0f0" stroke-width="0.6"/>
<line x1="645.10" y1="93.85" x2="756.00" y2="143.75" stroke="#f0f0f0" stroke-width="0.6"/>
<line x1="645.10" y1="73.29" x2="756.00" y2="123.19" stroke="#f0f0f0" stroke-width="0.6"/>
<line x1="645.10" y1="52.72" x2="756.00" y2="102.62" stroke="#f0f0f0" stroke-width="0.6"/>
<line x1="645.10" y1="32.16" x2="756.00" y2="82.06" stroke="#f0f0f0" stroke-width="0.6"/>
<line x1="645.10" y1="11.60" x2="756.00" y2="61.50" stroke="#f0f0f0" stroke-width="0.6"/>
<line x1="645.10" y1="93.85" x2="645.10" y2="11.60" stroke="#f0f0f0" stroke-width="0.6"/>
<line x1="672.83" y1="106.33" x2="672.83" y2="24.08" stroke="#f0f0f0" stroke-width="0.6"/>
<line x1="700.55" y1="118.80" x2="700.55" y2="36.55" stroke="#f0f0f0" stroke-width="0.6"/>
<line x1="728.28" y1="131.28" x2="728.28" y2="49.03" stroke="#f0f0f0" stroke-width="0.6"/>
<line x1="756.00" y1="143.75" x2="756.00" y2="61.50" stroke="#f0f0f0" stroke-width="0.6"/>
<line x1="257.30" y1="324.00" x2="449.00" y2="295.40" stroke="#f0f0f0" stroke-width="0.6"/>
<line x1="285.03" y1="336.48" x2="476.73" y2="307.88" stroke="#f0f0f0" stroke-width="0.6"/>
<line x1="312.75" y1="348.95" x2="504.45" y2="320.35" stroke="#f0f0f0" stroke-width="0.6"/>
<line x1="340.48" y1="361.43" x2="532.17" y2="332.82" stroke="#f0f0f0" stroke-width="0.6"/>
<line x1="368.20" y1="373.90" x2="559.90" y2="345.30" stroke="#f0f0f0" stroke-width="0.6"/>
<line x1="257.30" y1="324.00" x2="368.20" y2="373.90" stroke="#f0f0f0" stroke-width="0.6"/>
<line x1="295.64" y1="318.28" x2="406.54" y2="368.18" stroke="#f0f0f0" stroke-width="0.6"/>
<line x1="333.98" y1="312.56" x2="444.88" y2="362.46" stroke="#f0f0f0" stroke-width="0.6"/>
<line x1="372.32" y1="306.84" x2="483.22" y2="356.74" stroke="#f0f0f0" stroke-width="0.6"/>
<line x1="410.66" y1="301.12" x2="521.56" y2="351.02" stroke="#f0f0f0" stroke-width="0.6"/>
<line x1="449.00" y1="295.40" x2="559.90" y2="345.30" stroke="#f0f0f0" stroke-width="0.6"/>
<line x1="257.30" y1="324.00" x2="449.00" y2="295.40" stroke="#f0f0f0" stroke-width="0.6"/>
<line x1="257.30" y1="303.50" x2="449.00" y2="274.90" stroke="#f0f0f0" stroke-width="0.6"/>
<line x1="257.30" y1="283.00" x2="449.00" y2="254.40" stroke="#f0f0f0" stroke-width="0.6"/>
<line x1="257.30" y1="262.50" x2="449.00" y2="233.90" stroke="#f0f0f0" stroke-width="0.6"/>
<line x1="257.30" y1="242.00" x2="449.00" y2="213.40" stroke="#f0f0f0" stroke-width="0.6"/>
<line x1="257.30" y1="324.00" x2="257.30" y2="242.00" stroke="#f0f0f0" stroke-width="0.6"/>
<line x1="295.64" y1="318.28" x2="295.64" y2="236.28" stroke="#f0f0f0" stroke-width="0.6"/>
<line x1="333.98" y1="312.56" x2="333.98" y2="230.56" stroke="#f0f0f0" stroke-width="0.6"/>
<line x1="372.32" y1="306.84" x2="372.32" y2="224.84" stroke="#f0f0f0" stroke-width="0.6"/>
<line x1="410.66" y1="301.12" x2="410.66" y2="219.12" stroke="#f0f0f0" stroke-width="0.6"/>
<line x1="449.00" y1="295.40" x2="449.00" y2="213.40" stroke="#f0f0f0" stroke-width="0.6"/>
<line x1="449.00" y1="295.40" x2="559.90" y2="345.30" stroke="#f0f0f0" stroke-width="0.6"/>
<line x1="449.00" y1="274.90" x2="559.90" y2="324.80" stroke="#f0f0f0" stroke-width="0.6"/>
<line x1="449.00" y1="254.40" x2="559.90" y2="304.30" stroke="#f0f0f0" stroke-width="0.6"/>
<line x1="449.00" y1="233.90" x2="559.90" y2="283.80" stroke="#f0f0f0" stroke-width="0.6"/>
<line x1="449.00" y1="213.40" x2="559.90" y2="263.30" stroke="#f0f0f0" stroke-width="0.6"/>
<line x1="449.00" y1="295.40" x2="449.00" y2="213.40" stroke="#f0f0f0" stroke-width="0.6"/>
<line x1="476.73" y1="307.88" x2="476.73" y2="225.88" stroke="#f0f0f0" stroke-width="0.6"/>
<line x1="504.45" y1="320.35" x2="504.45" y2="238.35" stroke="#f0f0f0" stroke-width="0.6"/>
<line x1="532.17" y1="332.82" x2="532.17" y2="250.82" stroke="#f0f0f0" stroke-width="0.6"/>
<line x1="559.90" y1="345.30" x2="559.90" y2="263.30" stroke="#f0f0f0" stroke-width="0.6"/>
<path d="M250.1 31.2L361.0 124.4L364.1 125.0L253.2 29.7z" fill="url(#g0_99)"/>
<path d="M248.2 32.1L359.1 124.1L362.2 124.6L251.3 30.6z" fill="url(#g0_98)"/>
<path d="M246.3 33.0L357.2 123.7L360.3 124.3L249.4 31.5z" fill="url(#g0_97)"/>
<path d="M244.4 33.9L355.3 123.4L358.3 123.9L247.4 32.5z" fill="url(#g0_96)"/>
<path d="M242.5 34.8L353.4 123.1L356.4 123.6L245.5 33.4z" fill="url(#g0_95)"/>
<path d="M240.5 35.7L351.4 122.7L354.5 123.3L243.6 34.3z" fill="url(#g0_94)"/>
<path d="M238.6 36.6L349.5 122.4L352.6 122.9L241.7 35.2z" fill="url(#g0_93)"/>
<path d="M236.7 37.6L347.6 122.0L350.7 122.6L239.8 36.1z" fill="url(#g0_92)"/>
<path d="M234.8 38.5L345.7 121.7L348.8 122.3L237.9 37.0z" fill="url(#g0_91)"/>
<path d="M232.9 39.4L343.8 121.4L346.8 121.9L235.9 37.9z" fill="url(#g0_90)"/>
<path d="M231.0 40.3L341.9 121.0L344.9 121.6L234.0 38.8z" fill="url(#g0_89)"/>
<path d="M229.0 41.2L339.9 120.7L343.0 121.2L232.1 39.7z" fill="url(#g0_88)"/>
<path d="M227.1 42.1L338.0 120.4L341.1 120.9L230.2 40.6z" fill="url(#g0_87)"/>
<path d="M225.2 43.0L336.1 120.0L339.2 120.6L228.3 41.6z" fill="url(#g0_86)"/>
<path d="M223.3 43.9L334.2 119.7L337.3 120.2L226.4 42.5z" fill="url(#g0_85)"/>
<path d="M221.4 44.8L332.3 119.3L335.3 119.9L224.4 43.4z" fill="url(#g0_84)"/>
<path d="M219.5 45.7L330.4 119.0L333.4 119.6L222.5 44.3z" fill="url(#g0_83)"/>
<path d="M217.5 46.6L328.4 118.7L331.5 119.2L220.6 45.2z" fill="url(#g0_82)"/>
<path d="M215.6 47.6L326.5 118.3L329.6 118.9L218.7 46.1z" fill="url(#g0_81)"/>
<path d="M213.7 48.5L324.6 118.0L327.7 118.5L216.8 47.0z" fill="url(#g0_80)"/>
<path d="M211.8 49.4L322.7 117.7L325.8 118.2L214.9 47.9z" fill="url(#g0_79)"/>
<path d="M209.9 50.3L320.8 117.3L323.8 117.9L212.9 48.8z" fill="url(#g0_78)"/>
<path d="M208.0 51.2L318.9 117.0L321.9 117.5L211.0 49.7z" fill="url(#g0_77)"/>
<path d="M206.0 52.1L316.9 116.6L320.0 117.2L209.1 50.7z" fill="url(#g0_76)"/>
<path d="M204.1 53.0L315.0 116.3L318.1 116.8L207.2 51.6z" fill="url(#g0_75)"/>
<path d="M202.2 53.9L313.1 116.0L316.2 116.5L205.3 52.5z" fill="url(#g0_74)"/>
<path d="M200.3 54.8L311.2 115.6L314.3 116.2L203.4 53.4z" fill="url(#g0_73)"/>
<path d="M198.4 55.7L309.3 115.3L312.3 115.8L201.4 54.3z" fill="url(#g0_72)"/>
<path d="M196.5 56.7L307.4 115.0L310.4 115.5L199.5 55.2z" fill="url(#g0_71)"/>
<path d="M194.5 57.6L305.4 114.6L308.5 115.2L197.6 56.1z" fill="url(#g0_70)"/>
<path d="M192.6 58.5L303.5 114.3L306.6 114.8L195.7 57.0z" fill="url(#g0_69)"/>
<path d="M190.7 59.4L301.6 113.9L304.7 114.5L193.8 57.9z" fill="url(#g0_68)"/>
<path d="M188.8 60.3L299.7 113.6L302.8 114.1L191.9 58.8z" fill="url(#g0_67)"/>
<path d="M186.9 61.2L297.8 113.3L300.8 113.8L189.9 59.7z" fill="url(#g0_66)"/>
<path d="M185.0 62.1L295.9 112.9L298.9 113.5L188.0 60.7z" fill="url(#g0_65)"/>
<path d="M183.0 63.0L293.9 112.6L297.0 113.1L186.1 61.6z" fill="url(#g0_64)"/>
<path d="M181.1 63.9L292.0 112.3L295.1 112.8L184.2 62.5z" fill="url(#g0_63)"/>
<path d="M179.2 64.8L290.1 111.9L293.2 112.5L182.3 63.4z" fill="url(#g0_62)"/>
<path d="M177.3 65.8L288.2 111.6L291.3 112.1L180.4 64.3z" fill="url(#g0_61)"/>
<path d="M175.4 66.7L286.3 111.2L289.3 111.8L178.4 65.2z" fill="url(#g0_60)"/>
<path d="M173.5 67.6L284.4 110.9L287.4 111.4L176.5 66.1z" fill="url(#g0_59)"/>
<path d="M171.5 68.5L282.4 110.6L285.5 111.1L174.6 67.0z" fill="url(#g0_58)"/>
<path d="M169.6 69.4L280.5 110.2L283.6 110.8L172.7 67.9z" fill="url(#g0_57)"/>
<path d="M167.7 70.3L278.6 109.9L281.7 110.4L170.8 68.8z" fill="url(#g0_56)"/>
<path d="M165.8 71.2L276.7 109.6L279.8 110.1L168.9 69.8z" fill="url(#g0_55)"/>
<path d="M163.9 72.1L274.8 109.2L277.8 109.8L166.9 70.7z" fill="url(#g0_54)"/>
<path d="M162.0 73.0L272.9 108.9L275.9 109.4L165.0 71.6z" fill="url(#g0_53)"/>
<path d="M160.0 73.9L270.9 108.5L274.0 109.1L163.1 72.5z" fill="url(#g0_52)"/>
<path d="M158.1 74.8L269.0 108.2L272.1 108.7L161.2 73.4z" fill="url(#g0_51)"/>
<path d="M156.2 75.8L267.1 107.9L270.2 108.4L159.3 74.3z" fill="url(#g0_50)"/>
<path d="M154.3 76.7L265.2 107.5L268.2 108.1L157.3 75.2z" fill="url(#g0_49)"/>
<path d="M152.4 77.6L263.3 107.2L266.3 107.7L155.4 76.1z" fill="url(#g0_48)"/>
<path d="M150.4 78.5L261.3 106.9L264.4 107.4L153.5 77.0z" fill="url(#g0_47)"/>
<path d="M148.5 79.4L259.4 106.5L262.5 107.1L151.6 77.9z" fill="url(#g0_46)"/>
<path d="M146.6 80.3L257.5 106.2L260.6 106.7L149.7 78.8z" fill="url(#g0_45)"/>
<path d="M144.7 81.2L255.6 105.8L258.7 106.4L147.8 79.8z" fill="url(#g0_44)"/>
<path d="M142.8 82.1L253.7 105.5L256.7 106.0L145.8 80.7z" fill="url(#g0_43)"/>
<path d="M140.9 83.0L251.8 105.2L254.8 105.7L143.9 81.6z" fill="url(#g0_42)"/>
<path d="M138.9 83.9L249.8 104.8L252.9 105.4L142.0 82.5z" fill="url(#g0_41)"/>
<path d="M137.0 84.9L247.9 104.5L251.0 105.0L140.1 83.4z" fill="url(#g0_40)"/>
<path d="M135.1 85.8L246.0 104.2L249.1 104.7L138.2 84.3z" fill="url(#g0_39)"/>
<path d="M133.2 86.7L244.1 103.8L247.2 104.4L136.3 85.2z" fill="url(#g0_38)"/>
<path d="M131.3 87.6L242.2 103.5L245.2 104.0L134.3 86.1z" fill="url(#g0_37)"/>
<path d="M129.4 88.5L240.3 103.1L243.3 103.7L132.4 87.0z" fill="url(#g0_36)"/>
<path d="M127.4 89.4L238.3 102.8L241.4 103.3L130.5 87.9z" fill="url(#g0_35)"/>
<path d="M125.5 90.3L236.4 102.5L239.5 103.0L128.6 88.9z" fill="url(#g0_34)"/>
<path d="M123.6 91.2L234.5 102.1L237.6 102.7L126.7 89.8z" fill="url(#g0_33)"/>
<path d="M121.7 92.1L232.6 101.8L235.7 102.3L124.8 90.7z" fill="url(#g0_32)"/>
<path d="M119.8 93.0L230.7 101.5L233.7 102.0L122.8 91.6z" fill="url(#g0_31)"/>
<path d="M117.9 93.9L228.8 101.1L231.8 101.7L120.9 92.5z" fill="url(#g0_30)"/>
<path d="M115.9 94.9L226.8 100.8L229.9 101.3L119.0 93.4z" fill="url(#g0_29)"/>
<path d="M114.0 95.8L224.9 100.4L228.0 101.0L117.1 94.3z" fill="url(#g0_28)"/>
<path d="M112.1 96.7L223.0 100.1L226.1 100.6L115.2 95.2z" fill="url(#g0_27)"/>
<path d="M110.2 97.6L221.1 99.8L224.2 100.3L113.3 96.1z" fill="url(#g0_26)"/>
<path d="M108.3 98.5L219.2 99.4L222.2 100.0L111.3 97.0z" fill="url(#g0_25)"/>
<path d="M106.4 99.4L217.3 99.1L220.3 99.6L109.4 98.0z" fill="url(#g0_24)"/>
<path d="M104.4 100.3L215.3 98.8L218.4 99.3L107.5 98.9z" fill="url(#g0_23)"/>
<path d="M102.5 101.2L213.4 98.4L216.5 99.0L105.6 99.8z" fill="url(#g0_22)"/>
<path d="M100.6 102.1L211.5 98.1L214.6 98.6L103.7 100.7z" fill="url(#g0_21)"/>
<path d="M98.7 103.0L209.6 97.7L212.7 98.3L101.8 101.6z" fill="url(#g0_20)"/>
<path d="M96.8 104.0L207.7 97.4L210.7 97.9L99.8 102.5z" fill="url(#g0_19)"/>
<path d="M94.9 104.9L205.8 97.1L208.8 97.6L97.9 103.4z" fill="url(#g0_18)"/>
<path d="M92.9 105.8L203.8 96.7L206.9 97.3L96.0 104.3z" fill="url(#g0_17)"/>
<path d="M91.0 106.7L201.9 96.4L205.0 96.9L94.1 105.2z" fill="url(#g0_16)"/>
<path d="M89.1 107.6L200.0 96.1L203.1 96.6L92.2 106.1z" fill="url(#g0_15)"/>
<path d="M87.2 108.5L198.1 95.7L201.2 96.3L90.3 107.0z" fill="url(#g0_14)"/>
<path d="M85.3 109.4L196.2 95.4L199.2 95.9L88.3 108.0z" fill="url(#g0_13)"/>
<path d="M83.4 110.3L194.3 95.0L197.3 95.6L86.4 108.9z" fill="url(#g0_12)"/>
<path d="M81.4 111.2L192.3 94.7L195.4 95.2L84.5 109.8z" fill="url(#g0_11)"/>
<path d="M79.5 112.1L190.4 94.4L193.5 94.9L82.6 110.7z" fill="url(#g0_10)"/>
<path d="M77.6 113.1L188.5 94.0L191.6 94.6L80.7 111.6z" fill="url(#g0_9)"/>
<path d="M75.7 114.0L186.6 93.7L189.7 94.2L78.8 112.5z" fill="url(#g0_8)"/>
<path d="M73.8 114.9L184.7 93.4L187.7 93.9L76.8 113.4z" fill="url(#g0_7)"/>
<path d="M71.9 115.8L182.8 93.0L185.8 93.6L74.9 114.3z" fill="url(#g0_6)"/>
<path d="M69.9 116.7L180.8 92.7L183.9 93.2L73.0 115.2z" fill="url(#g0_5)"/>
<path d="M68.0 117.6L178.9 92.3L182.0 92.9L71.1 116.1z" fill="url(#g0_4)"/>
<path d="M66.1 118.5L177.0 92.0L180.1 92.5L69.2 117.1z" fill="url(#g0_3)"/>
<path d="M64.2 119.4L175.1 91.7L178.2 92.2L67.3 118.0z" fill="url(#g0_2)"/>
<path d="M62.3 120.3L173.2 91.3L176.2 91.9L65.3 118.9z" fill="url(#g0_1)"/>
<path d="M61.5 120.7L172.4 91.2L174.3 91.5L63.4 119.8z" fill="url(#g0_0)"/>
<path d="M642.0 37.5L752.9 117.4L756.0 118.3L645.1 35.6z" fill="url(#g1_99)"/>
<path d="M640.1 38.7L751.0 116.8L754.1 117.7L643.2 36.8z" fill="url(#g1_98)"/>
<path d="M638.2 39.9L749.1 116.2L752.2 117.1L641.3 38.0z" fill="url(#g1_97)"/>
<path d="M636.3 41.1L747.2 115.6L750.2 116.5L639.3 39.2z" fill="url(#g1_96)"/>
<path d="M634.4 42.3L745.3 115.0L748.3 115.9L637.4 40.4z" fill="url(#g1_95)"/>
<path d="M632.4 43.5L743.3 114.4L746.4 115.3L635.5 41.6z" fill="url(#g1_94)"/>
<path d="M630.5 44.7L741.4 113.8L744.5 114.7L633.6 42.8z" fill="url(#g1_93)"/>
<path d="M628.6 45.9L739.5 113.1L742.6 114.1L631.7 44.0z" fill="url(#g1_92)"/>
<path d="M626.7 47.1L737.6 112.5L740.7 113.5L629.8 45.2z" fill="url(#g1_91)"/>
<path d="M624.8 48.3L735.7 111.9L738.7 112.9L627.8 46.4z" fill="url(#g1_90)"/>
<path d="M622.9 49.5L733.8 111.3L736.8 112.3L625.9 47.6z" fill="url(#g1_89)"/>
<path d="M620.9 50.7L731.8 110.7L734.9 111.7L624.0 48.8z" fill="url(#g1_88)"/>
<path d="M619.0 51.9L729.9 110.1L733.0 111.1L622.1 50.0z" fill="url(#g1_87)"/>
<path d="M617.1 53.1L728.0 109.5L731.1 110.5L620.2 51.2z" fill="url(#g1_86)"/>
<path d="M615.2 54.3L726.1 108.9L729.2 109.9L618.3 52.4z" fill="url(#g1_85)"/>
<path d="M613.3 55.5L724.2 108.3L727.2 109.3L616.3 53.6z" fill="url(#g1_84)"/>
<path d="M611.4 56.7L722.3 107.7L725.3 108.7L614.4 54.8z" fill="url(#g1_83)"/>
<path d="M609.4 57.9L720.3 107.1L723.4 108.1L612.5 56.0z" fill="url(#g1_82)"/>
<path d="M607.5 59.1L718.4 106.5L721.5 107.5L610.6 57.2z" fill="url(#g1_81)"/>
<path d="M605.6 60.3L716.5 105.9L719.6 106.9L608.7 58.4z" fill="url(#g1_80)"/>
<path d="M603.7 61.5L714.6 105.3L717.7 106.3L606.8 59.6z" fill="url(#g1_79)"/>
<path d="M601.8 62.7L712.7 104.7L715.7 105.7L604.8 60.8z" fill="url(#g1_78)"/>
<path d="M599.9 63.9L710.8 104.1L713.8 105.1L602.9 62.0z" fill="url(#g1_77)"/>
<path d="M597.9 65.1L708.8 103.5L711.9 104.5L601.0 63.2z" fill="url(#g1_76)"/>
<path d="M596.0 66.3L706.9 102.9L710.0 103.9L599.1 64.4z" fill="url(#g1_75)"/>
<path d="M594.1 67.5L705.0 102.3L708.1 103.3L597.2 65.6z" fill="url(#g1_74)"/>
<path d="M592.2 68.7L703.1 101.7L706.2 102.7L595.3 66.8z" fill="url(#g1_73)"/>
<path d="M590.3 69.9L701.2 101.1L704.2 102.1L593.3 68.0z" fill="url(#g1_72)"/>
<path d="M588.4 71.1L699.3 100.5L702.3 101.5L591.4 69.2z" fill="url(#g1_71)"/>
<path d="M586.4 72.3L697.3 99.9L700.4 100.8L589.5 70.4z" fill="url(#g1_70)"/>
<path d="M584.5 73.5L695.4 99.3L698.5 100.2L587.6 71.6z" fill="url(#g1_69)"/>
<path d="M582.6 74.7L693.5 98.7L696.6 99.6L585.7 72.8z" fill="url(#g1_68)"/>
<path d="M580.7 75.9L691.6 98.1L694.7 99.0L583.8 74.0z" fill="url(#g1_67)"/>
<path d="M578.8 77.1L689.7 97.5L692.7 98.4L581.8 75.2z" fill="url(#g1_66)"/>
<path d="M576.9 78.3L687.8 96.9L690.8 97.8L579.9 76.4z" fill="url(#g1_65)"/>
<path d="M574.9 79.5L685.8 96.3L688.9 97.2L578.0 77.6z" fill="url(#g1_64)"/>
<path d="M573.0 80.7L683.9 95.7L687.0 96.6L576.1 78.8z" fill="url(#g1_63)"/>
<path d="M571.1 81.9L682.0 95.1L685.1 96.0L574.2 80.0z" fill="url(#g1_62)"/>
<path d="M569.2 83.1L680.1 94.5L683.2 95.4L572.3 81.2z" fill="url(#g1_61)"/>
<path d="M567.3 84.4L678.2 93.9L681.2 94.8L570.3 82.4z" fill="url(#g1_60)"/>
<path d="M565.4 85.6L676.3 93.2L679.3 94.2L568.4 83.6z" fill="url(#g1_59)"/>
<path d="M563.4 87.0L674.3 92.5L677.4 93.6L566.5 84.9z" fill="url(#g1_58)"/>
<path d="M561.5 88.4L672.4 91.8L675.5 92.9L564.6 86.2z" fill="url(#g1_57)"/>
<path d="M559.6 89.8L670.5 91.2L673.6 92.3L562.7 87.6z" fill="url(#g1_56)"/>
<path d="M557.7 91.2L668.6 90.5L671.7 91.6L560.8 89.0z" fill="url(#g1_55)"/>
<path d="M555.8 92.6L666.7 89.8L669.7 90.9L558.8 90.4z" fill="url(#g1_54)"/>
<path d="M553.9 93.9L664.8 89.1L667.8 90.2L556.9 91.7z" fill="url(#g1_53)"/>
<path d="M551.9 95.1L662.8 88.5L665.9 89.5L555.0 93.1z" fill="url(#g1_52)"/>
<path d="M550.0 96.2L660.9 88.0L664.0 88.9L553.1 94.4z" fill="url(#g1_51)"/>
<path d="M548.1 97.2L659.0 87.5L662.1 88.3L551.2 95.6z" fill="url(#g1_50)"/>
<path d="M546.2 98.1L657.1 87.0L660.1 87.8L549.2 96.6z" fill="url(#g1_49)"/>
<path d="M544.3 98.7L655.2 86.7L658.2 87.3L547.3 97.6z" fill="url(#g1_48)"/>
<path d="M542.3 99.3L653.2 86.4L656.3 86.9L545.4 98.4z" fill="url(#g1_47)"/>
<path d="M540.4 99.8L651.3 86.2L654.4 86.6L543.5 99.0z" fill="url(#g1_46)"/>
<path d="M538.5 100.2L649.4 86.0L652.5 86.3L541.6 99.5z" fill="url(#g1_45)"/>
<path d="M536.6 100.7L647.5 85.9L650.6 86.1L539.7 100.0z" fill="url(#g1_44)"/>
<path d="M534.7 101.2L645.6 85.7L648.6 86.0L537.7 100.4z" fill="url(#g1_43)"/>
<path d="M532.8 101.7L643.7 85.6L646.7 85.8L535.8 100.9z" fill="url(#g1_42)"/>
<path d="M530.8 102.2L641.7 85.5L644.8 85.7L533.9 101.4z" fill="url(#g1_41)"/>
<path d="M528.9 102.6L639.8 85.5L642.9 85.5L532.0 101.9z" fill="url(#g1_40)"/>
<path d="M527.0 102.9L637.9 85.8L641.0 85.5L530.1 102.4z" fill="url(#g1_39)"/>
<path d="M525.1 103.2L636.0 86.1L639.1 85.6L528.2 102.7z" fill="url(#g1_38)"/>
<path d="M523.2 103.4L634.1 86.4L637.1 85.9L526.2 103.0z" fill="url(#g1_37)"/>
<path d="M521.3 103.7L632.2 86.7L635.2 86.2L524.3 103.3z" fill="url(#g1_36)"/>
<path d="M519.3 103.9L630.2 87.0L633.3 86.5L522.4 103.6z" fill="url(#g1_35)"/>
<path d="M517.4 104.1L628.3 87.5L631.4 86.8L520.5 103.8z" fill="url(#g1_34)"/>
<path d="M515.5 104.1L626.4 88.0L629.5 87.2L518.6 104.0z" fill="url(#g1_33)"/>
<path d="M513.6 104.1L624.5 88.6L627.6 87.7L516.7 104.1z" fill="url(#g1_32)"/>
<path d="M511.7 103.9L622.6 89.4L625.6 88.3L514.7 104.1z" fill="url(#g1_31)"/>
<path d="M509.8 103.5L620.7 90.4L623.7 88.9L512.8 104.0z" fill="url(#g1_30)"/>
<path d="M507.8 102.9L618.7 91.5L621.8 89.7L510.9 103.8z" fill="url(#g1_29)"/>
<path d="M505.9 102.1L616.8 92.9L619.9 90.8L509.0 103.3z" fill="url(#g1_28)"/>
<path d="M504.0 101.2L614.9 94.3L618.0 92.1L507.1 102.6z" fill="url(#g1_27)"/>
<path d="M502.1 100.3L613.0 95.9L616.1 93.5L505.2 101.8z" fill="url(#g1_26)"/>
<path d="M500.2 99.3L611.1 97.4L614.1 94.9L503.2 100.9z" fill="url(#g1_25)"/>
<path d="M498.3 98.3L609.2 99.0L612.2 96.5L501.3 99.9z" fill="url(#g1_24)"/>
<path d="M496.3 97.4L607.2 100.5L610.3 98.0L499.4 98.9z" fill="url(#g1_23)"/>
<path d="M494.4 96.5L605.3 101.9L608.4 99.6L497.5 97.9z" fill="url(#g1_22)"/>
<path d="M492.5 95.7L603.4 103.3L606.5 101.1L495.6 97.0z" fill="url(#g1_21)"/>
<path d="M490.6 95.0L601.5 104.6L604.6 102.5L493.7 96.2z" fill="url(#g1_20)"/>
<path d="M488.7 94.2L599.6 105.9L602.6 103.8L491.7 95.4z" fill="url(#g1_19)"/>
<path d="M486.8 93.5L597.7 107.2L600.7 105.1L489.8 94.7z" fill="url(#g1_18)"/>
<path d="M484.8 92.7L595.7 108.6L598.8 106.4L487.9 93.9z" fill="url(#g1_17)"/>
<path d="M482.9 92.0L593.8 109.9L596.9 107.8L486.0 93.2z" fill="url(#g1_16)"/>
<path d="M481.0 91.2L591.9 111.2L595.0 109.1L484.1 92.4z" fill="url(#g1_15)"/>
<path d="M479.1 90.5L590.0 112.5L593.1 110.4L482.2 91.7z" fill="url(#g1_14)"/>
<path d="M477.2 89.7L588.1 113.9L591.1 111.7L480.2 90.9z" fill="url(#g1_13)"/>
<path d="M475.3 89.0L586.2 115.2L589.2 113.1L478.3 90.2z" fill="url(#g1_12)"/>
<path d="M473.3 88.2L584.2 116.5L587.3 114.4L476.4 89.4z" fill="url(#g1_11)"/>
<path d="M471.4 87.5L582.3 117.8L585.4 115.7L474.5 88.7z" fill="url(#g1_10)"/>
<path d="M469.5 86.7L580.4 119.2L583.5 117.0L472.6 87.9z" fill="url(#g1_9)"/>
<path d="M467.6 86.0L578.5 120.5L581.6 118.4L470.7 87.2z" fill="url(#g1_8)"/>
<path d="M465.7 85.2L576.6 121.8L579.6 119.7L468.7 86.4z" fill="url(#g1_7)"/>
<path d="M463.8 84.5L574.7 123.1L577.7 121.0L466.8 85.7z" fill="url(#g1_6)"/>
<path d="M461.8 83.7L572.7 124.5L575.8 122.3L464.9 84.9z" fill="url(#g1_5)"/>
<path d="M459.9 82.9L570.8 125.8L573.9 123.7L463.0 84.2z" fill="url(#g1_4)"/>
<path d="M458.0 82.2L568.9 127.1L572.0 125.0L461.1 83.4z" fill="url(#g1_3)"/>
<path d="M456.1 81.4L567.0 128.4L570.1 126.3L459.2 82.6z" fill="url(#g1_2)"/>
<path d="M454.2 80.7L565.1 129.8L568.1 127.6L457.2 81.9z" fill="url(#g1_1)"/>
<path d="M453.4 80.4L564.3 130.3L566.2 129.0L455.3 81.1z" fill="url(#g1_0)"/>
<path d="M445.9 240.7L556.8 318.5L559.9 319.7L449.0 238.5z" fill="url(#g2_99)"/>
<path d="M444.0 242.0L554.9 317.8L558.0 318.9L447.1 239.8z" fill="url(#g2_98)"/>
<path d="M442.1 243.4L553.0 317.0L556.1 318.2L445.2 241.2z" fill="url(#g2_97)"/>
<path d="M440.2 244.8L551.1 316.3L554.1 317.5L443.2 242.6z" fill="url(#g2_96)"/>
<path d="M438.3 246.1L549.2 315.6L552.2 316.7L441.3 243.9z" fill="url(#g2_95)"/>
<path d="M436.3 247.5L547.2 314.9L550.3 316.0L439.4 245.3z" fill="url(#g2_94)"/>
<path d="M434.4 248.9L545.3 314.2L548.4 315.3L437.5 246.7z" fill="url(#g2_93)"/>
<path d="M432.5 250.3L543.4 313.4L546.5 314.6L435.6 248.1z" fill="url(#g2_92)"/>
<path d="M430.6 251.7L541.5 312.7L544.6 313.9L433.7 249.5z" fill="url(#g2_91)"/>
<path d="M428.7 253.1L539.6 312.0L542.6 313.1L431.7 250.9z" fill="url(#g2_90)"/>
<path d="M426.8 254.6L537.7 311.3L540.7 312.4L429.8 252.3z" fill="url(#g2_89)"/>
<path d="M424.8 256.0L535.7 310.6L538.8 311.7L427.9 253.7z" fill="url(#g2_88)"/>
<path d="M422.9 257.5L533.8 309.9L536.9 311.0L426.0 255.1z" fill="url(#g2_87)"/>
<path d="M421.0 258.9L531.9 309.2L535.0 310.3L424.1 256.6z" fill="url(#g2_86)"/>
<path d="M419.1 260.3L530.0 308.5L533.1 309.6L422.2 258.0z" fill="url(#g2_85)"/>
<path d="M417.2 261.6L528.1 307.8L531.1 308.9L420.2 259.5z" fill="url(#g2_84)"/>
<path d="M415.3 262.9L526.2 307.1L529.2 308.2L418.3 260.8z" fill="url(#g2_83)"/>
<path d="M413.3 264.1L524.2 306.4L527.3 307.5L416.4 262.1z" fill="url(#g2_82)"/>
<path d="M411.4 265.4L522.3 305.7L525.4 306.8L414.5 263.4z" fill="url(#g2_81)"/>
<path d="M409.5 266.6L520.4 305.0L523.5 306.1L412.6 264.6z" fill="url(#g2_80)"/>
<path d="M407.6 267.7L518.5 304.3L521.6 305.4L410.7 265.9z" fill="url(#g2_79)"/>
<path d="M405.7 268.9L516.6 303.6L519.6 304.7L408.7 267.0z" fill="url(#g2_78)"/>
<path d="M403.8 270.0L514.7 302.9L517.7 304.0L406.8 268.2z" fill="url(#g2_77)"/>
<path d="M401.8 271.1L512.7 302.2L515.8 303.3L404.9 269.3z" fill="url(#g2_76)"/>
<path d="M399.9 272.1L510.8 301.5L513.9 302.6L403.0 270.4z" fill="url(#g2_75)"/>
<path d="M398.0 273.2L508.9 300.9L512.0 301.9L401.1 271.5z" fill="url(#g2_74)"/>
<path d="M396.1 274.1L507.0 300.2L510.1 301.2L399.2 272.5z" fill="url(#g2_73)"/>
<path d="M394.2 275.1L505.1 299.6L508.1 300.6L397.2 273.5z" fill="url(#g2_72)"/>
<path d="M392.3 276.1L503.2 298.9L506.2 300.0L395.3 274.5z" fill="url(#g2_71)"/>
<path d="M390.3 277.1L501.2 298.2L504.3 299.3L393.4 275.5z" fill="url(#g2_70)"/>
<path d="M388.4 278.1L499.3 297.5L502.4 298.6L391.5 276.5z" fill="url(#g2_69)"/>
<path d="M386.5 279.2L497.4 296.9L500.5 297.9L389.6 277.5z" fill="url(#g2_68)"/>
<path d="M384.6 280.3L495.5 296.6L498.6 297.3L387.7 278.5z" fill="url(#g2_67)"/>
<path d="M382.7 281.4L493.6 296.4L496.6 296.8L385.7 279.7z" fill="url(#g2_66)"/>
<path d="M380.8 282.1L491.7 296.3L494.7 296.5L383.8 280.8z" fill="url(#g2_65)"/>
<path d="M378.8 282.9L489.7 296.3L492.8 296.4L381.9 281.7z" fill="url(#g2_64)"/>
<path d="M376.9 283.5L487.8 296.4L490.9 296.3L380.0 282.4z" fill="url(#g2_63)"/>
<path d="M375.0 283.8L485.9 296.5L489.0 296.3L378.1 283.1z" fill="url(#g2_62)"/>
<path d="M373.1 284.0L484.0 296.7L487.1 296.4L376.2 283.6z" fill="url(#g2_61)"/>
<path d="M371.2 284.1L482.1 297.0L485.1 296.6L374.2 283.9z" fill="url(#g2_60)"/>
<path d="M369.3 284.2L480.2 297.2L483.2 296.8L372.3 284.1z" fill="url(#g2_59)"/>
<path d="M367.3 284.0L478.2 297.5L481.3 297.0L370.4 284.1z" fill="url(#g2_58)"/>
<path d="M365.4 283.7L476.3 298.0L479.4 297.3L368.5 284.1z" fill="url(#g2_57)"/>
<path d="M363.5 283.2L474.4 298.7L477.5 297.7L366.6 283.9z" fill="url(#g2_56)"/>
<path d="M361.6 282.6L472.5 299.5L475.6 298.3L364.7 283.5z" fill="url(#g2_55)"/>
<path d="M359.7 281.7L470.6 300.5L473.6 299.0L362.7 282.9z" fill="url(#g2_54)"/>
<path d="M357.8 280.7L468.7 301.6L471.7 299.8L360.8 282.3z" fill="url(#g2_53)"/>
<path d="M355.8 279.4L466.7 303.0L469.8 300.9L358.9 281.3z" fill="url(#g2_52)"/>
<path d="M353.9 278.1L464.8 304.6L467.9 302.2L357.0 280.2z" fill="url(#g2_51)"/>
<path d="M352.0 276.6L462.9 306.5L466.0 303.6L355.1 278.9z" fill="url(#g2_50)"/>
<path d="M350.1 274.9L461.0 308.6L464.1 305.3L353.1 277.5z" fill="url(#g2_49)"/>
<path d="M348.2 273.1L459.1 311.1L462.1 307.3L351.2 276.0z" fill="url(#g2_48)"/>
<path d="M346.2 271.3L457.1 314.0L460.2 309.6L349.3 274.2z" fill="url(#g2_47)"/>
<path d="M344.3 269.4L455.2 317.0L458.3 312.2L347.4 272.4z" fill="url(#g2_46)"/>
<path d="M342.4 267.4L453.3 320.1L456.4 315.2L345.5 270.6z" fill="url(#g2_45)"/>
<path d="M340.5 265.4L451.4 323.3L454.5 318.2L343.6 268.6z" fill="url(#g2_44)"/>
<path d="M338.6 263.5L449.5 326.6L452.5 321.4L341.6 266.6z" fill="url(#g2_43)"/>
<path d="M336.7 261.7L447.6 329.9L450.6 324.6L339.7 264.7z" fill="url(#g2_42)"/>
<path d="M334.7 259.8L445.6 333.2L448.7 327.9L337.8 262.8z" fill="url(#g2_41)"/>
<path d="M332.8 258.0L443.7 336.4L446.8 331.2L335.9 260.9z" fill="url(#g2_40)"/>
<path d="M330.9 256.3L441.8 339.4L444.9 334.5L334.0 259.1z" fill="url(#g2_39)"/>
<path d="M329.0 254.6L439.9 342.4L443.0 337.6L332.1 257.3z" fill="url(#g2_38)"/>
<path d="M327.1 253.0L438.0 345.1L441.0 340.6L330.1 255.6z" fill="url(#g2_37)"/>
<path d="M325.2 251.4L436.1 347.7L439.1 343.5L328.2 254.0z" fill="url(#g2_36)"/>
<path d="M323.2 249.7L434.1 350.2L437.2 346.2L326.3 252.4z" fill="url(#g2_35)"/>
<path d="M321.3 247.9L432.2 352.4L435.3 348.7L324.4 250.7z" fill="url(#g2_34)"/>
<path d="M319.4 246.2L430.3 354.3L433.4 351.1L322.5 248.9z" fill="url(#g2_33)"/>
<path d="M317.5 244.9L428.4 355.9L431.5 353.2L320.6 247.2z" fill="url(#g2_32)"/>
<path d="M315.6 243.7L426.5 357.3L429.5 355.0L318.6 245.7z" fill="url(#g2_31)"/>
<path d="M313.7 242.7L424.6 358.4L427.6 356.5L316.7 244.4z" fill="url(#g2_30)"/>
<path d="M311.7 241.9L422.6 359.2L425.7 357.8L314.8 243.3z" fill="url(#g2_29)"/>
<path d="M309.8 241.3L420.7 359.7L423.8 358.8L312.9 242.4z" fill="url(#g2_28)"/>
<path d="M307.9 241.1L418.8 359.9L421.9 359.4L311.0 241.6z" fill="url(#g2_27)"/>
<path d="M306.0 241.5L416.9 359.5L420.0 359.8L309.1 241.2z" fill="url(#g2_26)"/>
<path d="M304.1 242.3L415.0 358.6L418.0 359.8L307.1 241.2z" fill="url(#g2_25)"/>
<path d="M302.2 243.6L413.1 357.6L416.1 359.2L305.2 241.8z" fill="url(#g2_24)"/>
<path d="M300.2 245.1L411.1 356.5L414.2 358.2L303.3 242.8z" fill="url(#g2_23)"/>
<path d="M298.3 246.7L409.2 355.4L412.3 357.1L301.4 244.1z" fill="url(#g2_22)"/>
<path d="M296.4 248.5L407.3 354.3L410.4 356.0L299.5 245.7z" fill="url(#g2_21)"/>
<path d="M294.5 250.1L405.4 353.2L408.5 355.0L297.6 247.4z" fill="url(#g2_20)"/>
<path d="M292.6 251.8L403.5 352.2L406.5 353.9L295.6 249.1z" fill="url(#g2_19)"/>
<path d="M290.7 253.4L401.6 351.1L404.6 352.8L293.7 250.8z" fill="url(#g2_18)"/>
<path d="M288.7 255.1L399.6 350.0L402.7 351.7L291.8 252.4z" fill="url(#g2_17)"/>
<path d="M286.8 256.8L397.7 348.9L400.8 350.7L289.9 254.1z" fill="url(#g2_16)"/>
<path d="M284.9 258.5L395.8 347.9L398.9 349.6L288.0 255.8z" fill="url(#g2_15)"/>
<path d="M283.0 260.1L393.9 346.8L397.0 348.5L286.1 257.4z" fill="url(#g2_14)"/>
<path d="M281.1 261.8L392.0 345.7L395.0 347.4L284.1 259.1z" fill="url(#g2_13)"/>
<path d="M279.2 263.5L390.1 344.6L393.1 346.4L282.2 260.8z" fill="url(#g2_12)"/>
<path d="M277.2 265.1L388.1 343.6L391.2 345.3L280.3 262.5z" fill="url(#g2_11)"/>
<path d="M275.3 266.8L386.2 342.5L389.3 344.2L278.4 264.1z" fill="url(#g2_10)"/>
<path d="M273.4 268.5L384.3 341.4L387.4 343.1L276.5 265.8z" fill="url(#g2_9)"/>
<path d="M271.5 270.1L382.4 340.3L385.5 342.1L274.6 267.5z" fill="url(#g2_8)"/>
<path d="M269.6 271.8L380.5 339.3L383.5 341.0L272.6 269.1z" fill="url(#g2_7)"/>
<path d="M267.7 273.5L378.6 338.2L381.6 339.9L270.7 270.8z" fill="url(#g2_6)"/>
<path d="M265.7 275.1L376.6 337.1L379.7 338.8L268.8 272.5z" fill="url(#g2_5)"/>
<path d="M263.8 276.8L374.7 336.0L377.8 337.8L266.9 274.1z" fill="url(#g2_4)"/>
<path d="M261.9 278.5L372.8 335.0L375.9 336.7L265.0 275.8z" fill="url(#g2_3)"/>
<path d="M260.0 280.2L370.9 333.9L374.0 335.6L263.1 277.5z" fill="url(#g2_2)"/>
<path d="M258.1 281.8L369.0 332.8L372.0 334.5L261.1 279.2z" fill="url(#g2_1)"/>
<path d="M257.3 282.5L368.2 332.4L370.1 333.5L259.2 280.8z" fill="url(#g2_0)"/>
<path class="m" d="M62.9 120.3L254.6 30.9M64.3 120L256 32.1M65.7 119.6L257.4 33.3M67 119.2L258.7 34.5M68.4 118.8L260.1 35.7M69.8 118.5L261.5 36.9M71.2 118.1L262.9 38.1M72.6 117.7L264.3 39.3M74 117.4L265.7 40.4M75.4 117L267.1 41.6M76.7 116.6L268.4 42.8M78.1 116.3L269.8 44M79.5 115.9L271.2 45.2M80.9 115.5L272.6 46.4M82.3 115.2L274 47.6M83.7 114.8L275.4 48.8M85.1 114.4L276.8 50M86.5 114.1L278.2 51.2M87.8 113.7L279.5 52.3M89.2 113.3L280.9 53.5M90.6 112.9L282.3 54.7M92 112.6L283.7 55.9M93.4 112.2L285.1 57.1M94.8 111.8L286.5 58.3M96.2 111.5L287.9 59.5M97.5 111.1L102.3 109.8M104.9 109.2L106.2 108.8M106.8 108.7L107.8 108.4M108.4 108.2L126 103.6M127.6 103.2L128.9 102.9M130.5 102.4L131.7 102.1M133.3 101.7L135.6 101.1M136.2 100.9L159.2 94.9M159.8 94.7L162.1 94.1M172.3 91.4L289.2 60.7M98.9 110.7L104.4 109.4M105 109.2L107.2 108.6M108.8 108.2L113 107.2M114.6 106.7L116.2 106.3M174 91.6L290.6 61.9M100.3 110.4L108 108.5M112.1 107.4L113.1 107.2M175.4 91.8L292 63.1M101.7 110L109.4 108.2M110.3 107.9L111.6 107.6M112.2 107.5L113.8 107.1M176.1 92.2L293.4 64.2M103.1 109.6L109.8 108.1M111.4 107.7L113 107.3M177.9 92.4L294.8 65.4M104.5 109.3L114.1 107.1M179.6 92.6L296.2 66.6M105.9 108.9L114.2 107.1M115.8 106.8L118 106.3M119.6 105.9L120.2 105.8M180.9 92.8L297.6 67.8M107.2 108.5L117.5 106.4M118.1 106.3L118.7 106.2M120.7 105.8L121.3 105.6M123.5 105.2L124.2 105M182.3 93L298.9 69M108.6 108.2L120.1 105.9M120.8 105.8L121.4 105.6M122.1 105.5L123 105.3M184 93.2L300.3 70.2M110 107.8L122.5 105.4M123.1 105.3L124.1 105.1M124.7 105L125.4 104.9M127.6 104.4L128.2 104.3M185.4 93.5L301.7 71.4M111.4 107.4L126.7 104.6M127.4 104.5L128 104.4M129 104.2L129.6 104.1M130.3 104L131.2 103.8M186.2 93.8L303.1 72.6M112.8 107L131 103.9M133.6 103.4L134.2 103.3M187.6 94.1L304.5 73.8M114.2 106.7L131.1 103.9M131.8 103.8L134 103.4M189.3 94.3L305.9 75M115.6 106.3L134.1 103.4M135.1 103.2L135.7 103.1M136.3 103L137 102.9M190.6 94.5L307.3 76.2M117 105.9L135.8 103.1M136.4 103L137.1 102.9M138 102.8L139 102.7M192 94.7L308.6 77.3M118.3 105.6L138.8 102.7M139.4 102.6L140.7 102.4M141.7 102.3L142.6 102.1M193.4 95L310 78.5M119.7 105.2L138.9 102.7M139.5 102.6L140.5 102.4M141.8 102.3L142.7 102.1M145.6 101.8L146.2 101.7M147.8 101.5L148.5 101.4M194.8 95.2L311.4 79.7M121.1 104.8L146.3 101.7M147.3 101.6L148.6 101.4M196.2 95.5L312.8 80.9M122.5 104.5L146.8 101.6M147.4 101.6L149 101.4M149.7 101.3L150.6 101.2M197.3 95.7L314.2 82.1M123.9 104.1L150.7 101.2M151.7 101.1L153 100.9M198.6 96L315.6 83.3M125.3 103.7L153.1 100.9M200 96.2L317 84.5M126.7 103.4L153.2 100.9M153.8 100.9L155.4 100.7M156.7 100.6L158 100.5M201.1 96.5L318.4 85.7M128 103L155.5 100.7M156.2 100.6L158.1 100.5M160 100.3L161.3 100.2M163.8 100L164.5 99.9M202.5 96.7L319.7 86.9M129.4 102.6L161.4 100.2M163.3 100L164.6 100M167.8 99.7L168.4 99.7M203.9 97L321.1 88.1M130.8 102.3L164.7 100M167.2 99.8L168.5 99.7M205.3 97.2L322.5 89.2M132.2 101.9L164.5 100M165.1 99.9L168.6 99.7M172.8 99.5L173.7 99.4M206 97.5L323.9 90.4M133.6 101.5L168.7 99.7M172.6 99.5L173.5 99.5M207.7 97.7L325.3 91.6M135 101.1L169.2 99.7M169.8 99.6L173.6 99.5M209.1 97.9L326.7 92.8M136.4 100.8L173.7 99.5M180.4 99.2L181.4 99.2M210.8 98.1L328.1 94M137.7 100.4L181.2 99.2M212.5 98.4L329.4 95.2M139.1 100L181.3 99.2M213.9 98.6L330.8 96.4M140.5 99.7L181.4 99.2M214.6 98.9L332.2 97.6M141.9 99.3L181.5 99.2M216 99.1L333.6 98.8M143.3 98.9L186.1 99.2M217.7 99.3L335 100M144.7 98.6L188.1 99.2M194.5 99.2L195.5 99.3M219.1 99.6L336.4 101.1M146.1 98.2L191.1 99.2M194.6 99.2L196.5 99.3M220.5 99.8L337.8 102.3M147.4 97.8L192.5 99.2M194.7 99.2L197.3 99.3M202.1 99.5L202.7 99.5M222.2 100.1L339.1 103.5M148.8 97.5L198.4 99.3M202.2 99.5L203.1 99.5M223.9 100.3L340.5 104.7M150.2 97.1L199.7 99.4M202.3 99.5L203.6 99.5M207.1 99.7L207.7 99.7M225 100.5L341.9 105.9M151.6 96.7L201.1 99.4M202.1 99.5L204.3 99.6M207.2 99.7L208.2 99.8M224.8 100.7L225.7 100.7M226.4 100.8L343.3 107.1M153 96.4L205.7 99.6M207.3 99.7L208.9 99.8M210.5 99.9L211.5 100M226.5 100.9L344.7 108.3M154.4 96L206.5 99.7M207.1 99.7L209.3 99.9M210.6 99.9L212.2 100.1M214.1 100.2L214.8 100.2M217.3 100.4L218 100.5M227.9 101.2L346.1 109.5M155.8 95.6L212.6 100.1M214.2 100.2L215.5 100.3M229.2 101.4L347.5 110.7M157.2 95.2L215.9 100.3M217.5 100.5L218.5 100.6M219.8 100.7L220.7 100.8M222.3 100.9L223 101M230.6 101.6L348.9 111.9M158.5 94.9L216.7 100.4M217.3 100.5L218.3 100.5M219.9 100.7L220.8 100.8M222.4 100.9L223.1 101M232 101.8L350.2 113M159.9 94.5L221.3 100.8M222.5 101L223.2 101M224.8 101.2L225.7 101.3M228.9 101.6L229.6 101.7M233.7 102.1L351.6 114.2M161.3 94.1L221.7 100.8M222.3 100.9L223.9 101.1M224.9 101.2L225.8 101.3M226.8 101.4L227.4 101.5M229 101.7L229.7 101.7M233.2 102.1L234.2 102.2M234.8 102.3L353 115.4M162.7 93.8L226 101.3M226.9 101.4L228.2 101.6M228.8 101.7L229.8 101.8M231.1 101.9L231.7 102M233.3 102.2L233.9 102.3M234.9 102.4L235.9 102.5M236.5 102.6L354.4 116.6M164.1 93.4L230.2 101.8M230.9 101.9L231.5 102M233.1 102.2L233.7 102.3M235 102.4L235.7 102.5M236.3 102.6L237.2 102.7M237.9 102.8L355.8 117.8M165.5 93L230.3 101.8M231 101.9L231.9 102M233.2 102.2L235.8 102.6M236.4 102.6L237.4 102.8M238 102.9L357.2 119M166.9 92.7L234.3 102.3M234.9 102.4L235.9 102.6M236.5 102.7L240.7 103.3M241.3 103.4L358.6 120.2M168.2 92.3L359.9 121.4M169.6 91.9L361.3 122.6M171 91.6L362.7 123.8"/>
<path class="n" d="M63.9 119.6L174.8 91.6M66.3 118.4L102.3 109.8M102.9 109.7L177.2 92M68.7 117.3L109.7 108.1M110.3 108L110.8 107.8M111.4 107.7L179.6 92.5M71.1 116.1L106 108.8M106.6 108.7L107.1 108.6M108.8 108.2L109.3 108.1M110.2 107.9L110.7 107.8M111.3 107.7L111.8 107.6M112.4 107.5L114.1 107.1M114.6 107L115.2 106.9M115.7 106.8L182 92.9M73.5 115L111.5 107.6M112 107.5L113.1 107.2M113.7 107.1L114.2 107M116.2 106.6L117.6 106.4M118.1 106.3L119 106.1M119.5 106L120.1 105.9M120.6 105.8L184.4 93.3M75.9 113.9L113 107.1M119.7 105.9L120.2 105.8M120.8 105.7L121.3 105.6M122.2 105.5L124.1 105.1M124.7 105L186.8 93.7M78.3 112.7L115.1 106.6M127.3 104.5L128.2 104.4M129 104.2L189.2 94.1M80.7 111.6L117.8 105.9M127.5 104.4L128.1 104.3M130.3 104L131.1 103.8M133.1 103.5L134.2 103.4M135 103.3L135.6 103.2M136.4 103L138.9 102.7M139.4 102.6L191.6 94.6M83.1 110.5L119.7 105.4M133.5 103.4L134.1 103.3M138.2 102.8L138.8 102.7M139.6 102.6L140.7 102.4M141.6 102.3L194 95M85.5 109.3L121.5 104.8M142 102.2L142.6 102.2M145.1 101.8L146.5 101.7M147 101.6L196.4 95.4M87.9 108.2L124.5 104.1M143.9 101.9L144.4 101.9M145.5 101.8L146.4 101.7M147.5 101.5L148.6 101.4M149.1 101.4L150.5 101.2M151.1 101.1L198.8 95.8M90.3 107L126 103.6M147.9 101.4L148.5 101.4M152.1 101L153.2 100.9M154.3 100.8L155.4 100.7M156.2 100.6L158.2 100.4M158.7 100.4L201.2 96.3M92.7 105.9L129 102.9M154.8 100.7L155.3 100.7M157.3 100.5L158.1 100.5M159.5 100.3L161.4 100.2M162 100.1L203.6 96.7M95 104.8L131.1 102.3M160.5 100.2L161.3 100.2M163.3 100.1L164.6 100M165.5 99.9L205.9 97.1M97.4 103.6L133.8 101.6M164 100L164.5 99.9M166.8 99.8L168.7 99.7M170.1 99.6L208.3 97.5M99.8 102.5L135.6 101M136.4 101L137.3 101M167.8 99.7L168.6 99.7M171.9 99.5L173.6 99.5M175.3 99.4L210.7 97.9M102.2 101.4L139.1 100.4M172.9 99.5L173.5 99.4M177.6 99.3L181.3 99.2M183.2 99.2L213.1 98.4M104.6 100.2L141 99.8M179.8 99.3L181.4 99.2M187.3 99.2L215.5 98.8M107 99.1L143.9 99.1M193.3 99.2L217.9 99.2M109.4 98L145.7 98.5M194.5 99.2L220.3 99.6M111.8 96.8L148.4 97.9M194.7 99.2L197.5 99.3M202.2 99.5L222.7 100.1M114.2 95.7L150.5 97.2M194.6 99.2L195.2 99.2M202.1 99.5L206 99.6M207.1 99.7L225.1 100.5M116.6 94.5L152.9 96.6M202 99.4L202.8 99.5M207.3 99.7L227.5 100.9M119 93.4L155.3 96M207.2 99.7L208 99.8M210.5 99.9L212.7 100.1M214.1 100.2L229.9 101.3M121.4 92.3L157.7 95.4M210.7 99.9L211.2 99.9M214 100.2L214.8 100.2M217.3 100.5L218.4 100.6M219.8 100.7L232.3 101.7M123.8 91.1L160.1 94.7M220 100.7L220.8 100.8M222.5 100.9L224.4 101.1M225 101.2L234.7 102.2M126.2 90L162.2 94.1M219.9 100.6L220.5 100.7M222.4 100.9L223.2 101M224.9 101.2L225.7 101.3M226.8 101.4L237.1 102.6M128.6 88.9L164.9 93.5M224.8 101.1L225.4 101.2M229 101.7L229.8 101.8M230.9 101.9L231.7 102M233.1 102.2L239.5 103M131 87.7L166.8 92.8M228.9 101.6L229.7 101.7M230.8 101.9L231.4 101.9M233 102.2L234.1 102.3M235 102.4L235.8 102.6M236.3 102.6L241.9 103.4M133.4 86.6L169.7 92.2M233.2 102.1L233.8 102.2M234.9 102.4L235.7 102.5M236.5 102.6L237.4 102.8M237.9 102.9L244.3 103.9M135.8 85.4L171.3 91.5M206.2 97.4L206.8 97.5M207.6 97.6L208.1 97.7M210.6 98.2L211.2 98.2M214.5 98.8L215.4 99M216.2 99.1L217 99.2M217.6 99.3L218.4 99.5M219.2 99.6L219.8 99.7M220.6 99.8L221.5 100M222 100.1L222.8 100.2M224.8 100.6L225.9 100.7M226.4 100.8L227.3 101M227.8 101.1L228.7 101.2M229.2 101.3L231.7 101.7M232.3 101.8L233.1 102M233.7 102.1L238.9 103M239.5 103L240.6 103.2M241.1 103.3L246.7 104.3M138.2 84.3L249.1 104.7M140.6 83.2L251.5 105.1M143 82L253.9 105.5M145.4 80.9L256.3 106M147.8 79.8L258.7 106.4M150.2 78.6L261.1 106.8M152.6 77.5L263.5 107.2M155 76.3L265.9 107.6M157.3 75.2L268.2 108.1M159.7 74.1L270.6 108.5M162.1 72.9L273 108.9M164.5 71.8L275.4 109.3M166.9 70.7L277.8 109.8M169.3 69.5L280.2 110.2M171.7 68.4L282.6 110.6M174.1 67.3L285 111M176.5 66.1L287.4 111.4M178.9 65L289.8 111.9M181.3 63.8L292.2 112.3M183.7 62.7L294.6 112.7M186.1 61.6L297 113.1M188.5 60.4L299.4 113.6M190.9 59.3L301.8 114M193.3 58.2L304.2 114.4M195.7 57L306.6 114.8M198.1 55.9L309 115.2M200.5 54.7L311.4 115.7M202.9 53.6L313.8 116.1M205.3 52.5L316.2 116.5M207.7 51.3L318.6 116.9M210.1 50.2L321 117.4M212.5 49.1L323.4 117.8M214.9 47.9L325.8 118.2M217.3 46.8L328.2 118.6M219.7 45.6L330.6 119M222 44.5L332.9 119.5M224.4 43.4L335.3 119.9M226.8 42.2L337.7 120.3M229.2 41.1L340.1 120.7M231.6 40L342.5 121.2M234 38.8L344.9 121.6M236.4 37.7L347.3 122M238.8 36.6L349.7 122.4M241.2 35.4L352.1 122.8M243.6 34.3L354.5 123.3M246 33.1L356.9 123.7M248.4 32L359.3 124.1M250.8 30.9L361.7 124.5"/>
<path class="b" d="M61.5 120.7L253.2 29.7M172.4 91.2L364.1 125M61.5 120.7L172.4 91.2M253.2 29.7L364.1 125"/>
<path class="m" d="M454.8 81L465.6 85.1M468.5 86.2L469.2 86.5M545.2 98.7L549 97.3L553.5 94.9L569.5 83.9L646.5 36.6M456.2 81.6L469.9 86.7M546.9 98.5L550.7 97L555.2 94.6L570.9 84.1L647.9 37.7M457.6 82.3L470.3 86.8M548 98.4L551.8 97.1L556.3 94.7L572.3 84.2L649.3 38.7M458.9 82.9L475.6 88.5M548.7 98.4L552.9 97.1L557.7 94.7L573.6 84.3L650.6 39.7M460.3 83.5L479.2 89.6M549.5 98.4L553.9 97.1L559.1 94.6L575 84.5L652 40.8M461.7 84.1L481.5 90.3M550.2 98.4L555.3 96.9L560.4 94.5L576.4 84.6L653.4 41.8M463.1 84.8L482.9 90.7M550.6 98.5L556.1 97L561.5 94.6L577.8 84.7L654.8 42.8M464.5 85.4L484.9 91.2M552.4 98.2L557.8 96.8L562.9 94.5L579.2 84.8L656.2 43.9M465.9 86L489.5 92.4M553.1 98.2L558.9 96.8L564.3 94.4L580.6 85L657.6 44.9M467.3 86.6L490.9 92.7M553.5 98.2L559.9 96.7L565.7 94.3L582 85.1L659 45.9M468.6 87.2L493.9 93.4M554 98.2L561 96.7L566.7 94.4L583.3 85.2L660.3 47M470 87.9L496.6 94M556 97.9L562.7 96.5L568.4 94.2L584.7 85.4L661.7 48M471.4 88.5L498.6 94.4M500.8 94.9L501.5 95M556.4 98L563.8 96.4L569.5 94.2L586.1 85.5L663.1 49M472.8 89.1L498.7 94.4M499.3 94.5L502.2 95.1M503.2 95.3L503.8 95.4M504.8 95.6L505.4 95.7M556.8 97.9L564.8 96.4L567.7 95.4L570.9 94.1L587.5 85.6L664.5 50.1M474.2 89.7L502.3 95.1M502.9 95.2L503.9 95.4M556.9 98L557.9 97.8M558.5 97.7L566.5 96.1L572.3 94.1L588.9 85.7L665.9 51.1M475.6 90.4L502.4 95.1M503.1 95.2L503.7 95.3M504.3 95.4L505.3 95.6M505.9 95.7L506.6 95.8M559 97.7L567.6 96.1L570.5 95.2L573.7 94L590.3 85.9L667.3 52.1M477 91L506.7 95.8M507.3 95.9L508.3 96.1M509.2 96.2L509.9 96.3M513.1 96.9L513.7 97M559.1 97.7L560 97.6M560.7 97.5L569 95.9L575.1 93.9L591.7 86L668.7 53.2M478.4 91.6L510.3 96.4M510.9 96.5L511.6 96.6M513.2 96.8L513.8 96.9M559.5 97.7L560.1 97.6M560.8 97.5L561.7 97.3M562.4 97.2L570.4 95.8L576.4 93.8L593.1 86.1L670.1 54.2M479.7 92.2L513.9 96.9M514.6 96.9L515.8 97.1M561.2 97.5L561.9 97.4M562.8 97.2L571.8 95.6L577.8 93.7L594.4 86.3L671.4 55.2M481.1 92.9L516.3 97.1M516.9 97.2L517.9 97.3M562.9 97.2L563.9 97.1M564.5 97L573.1 95.5L579.2 93.6L595.8 86.4L672.8 56.3M482.5 93.5L518 97.3M518.6 97.4L520.2 97.6M522.4 97.8L523.1 97.9M563.3 97.2L564 97.1M564.6 97L574.2 95.4L580.3 93.7L597.2 86.5L674.2 57.3M483.9 94.1L520 97.5M521.9 97.7L523.2 97.8M525.8 98.1L526.7 98.2M565.1 97L565.7 96.8M566.3 96.7L569.2 96.3M569.8 96.2L570.8 96.1M571.4 96L576.9 95L582.3 93.3L598.6 86.7L675.6 58.3M485.3 94.7L523 97.8M524.3 97.9L526.5 98.1M565.2 97L565.8 96.9M566.8 96.7L567.7 96.6M568.4 96.5L569 96.4M570 96.2L570.9 96.1M571.5 96L572.5 95.8M573.5 95.7L574.4 95.6M575.1 95.5L575.7 95.4M576.3 95.2L580.2 94.4L584.3 93L600 86.8L677 59.4M486.7 95.4L526.6 98.1M529.5 98.3L530.8 98.4M565.3 97L565.9 96.9M566.9 96.7L567.5 96.6M568.5 96.5L569.1 96.4M570.1 96.2L570.7 96.1M571.7 96L572.6 95.9M573.6 95.7L574.2 95.6M575.2 95.5L575.8 95.4M576.8 95.2L577.7 95.1M578.4 95L579 94.9M579.6 94.7L585.7 93L601.4 86.9L678.4 60.4M488.1 96L530.9 98.3M567 96.7L567.6 96.6M568.6 96.5L569.2 96.4M570.2 96.2L570.8 96.1M571.8 96L572.7 95.9M573.7 95.7L574.3 95.6M581.7 94.4L588.4 92.4L602.8 87L679.8 61.4M489.4 96.6L531.6 98.3M567.1 96.7L567.7 96.6M570.3 96.2L570.9 96.1M571.9 96L572.5 95.9M573.8 95.7L574.4 95.6M583.4 94.2L584 94.1M584.7 93.9L590.4 92.2L604.1 87.2L681.1 62.5M490.8 97.2L531.4 98.3L536.8 98.6M572 96L572.6 95.9M586.4 93.7L591.8 92.1L605.5 87.3L682.5 63.5M492.2 97.9L536.9 98.5M567 96.7L567.6 96.6M572.1 96L572.7 95.9M573.7 95.7L574.3 95.7M588.4 93.4L593.5 91.9L606.9 87.4L683.9 64.5M493.6 98.5L536.7 98.5M565.2 97L565.8 96.9M567.1 96.7L567.7 96.6M570.3 96.2L570.9 96.1M573.8 95.7L574.4 95.6M591.4 92.9L608.3 87.6L685.3 65.6M495 99.1L538.4 98.5M545.1 98.6L546.4 98.7M565.3 97L565.9 96.9M566.9 96.7L567.5 96.6M572 96L572.6 95.9M593.4 92.7L609.7 87.7L686.7 66.6M496.4 99.7L541.4 98.6M545.3 98.6L546.9 98.6M550.7 98.5L551.6 98.5M565.1 97L565.7 96.9M567 96.7L567.6 96.6M568.6 96.5L569.2 96.4M570.2 96.2L570.8 96.1M572.1 96L572.7 95.9M573.7 95.7L574.3 95.6M595.4 92.4L611.1 87.8L688.1 67.7M497.8 100.3L543.4 98.6M545 98.5L551.4 98.4M554 98.2L555 98.2M557.2 98L557.8 97.9M559.4 97.7L560.1 97.6M561.3 97.5L562 97.4M563.3 97.2L563.9 97.1M565.2 97L565.8 96.9M566.8 96.7L567.7 96.6M568.4 96.5L569 96.4M570.3 96.2L570.9 96.1M571.9 96L572.5 95.9M573.5 95.7L574.4 95.6M599.4 91.7L612.5 87.9L689.5 68.7M499.1 101L540 98.7L551.9 98.3M553.1 98.2L554.7 98.1M556.7 98L557.9 97.9M559.2 97.7L560.2 97.6M561.1 97.5L561.8 97.4M563 97.2L563.7 97.2M565 97L565.9 96.8M566.9 96.7L567.5 96.6M568.5 96.5L569.1 96.4M570.1 96.2L570.7 96.1M572 96L572.6 95.9M573.6 95.7L574.2 95.6M575.2 95.5L575.8 95.4M577.1 95.2L577.7 95.1M602.3 91.2L613.8 88.1L690.8 69.7M500.5 101.6L541.4 98.8L555.2 98.1M556.1 98L558 97.8M558.7 97.7L560 97.6M560.9 97.5L561.9 97.4M562.8 97.2L563.8 97.1M564.8 97L565.7 96.9M566.7 96.7L567.6 96.6M568.3 96.5L569.2 96.4M570.2 96.2L570.8 96.1M571.8 96L572.7 95.8M573.4 95.7L574.3 95.6M575.3 95.5L575.9 95.4M576.9 95.2L577.5 95.1M604.7 90.9L615.2 88.2L692.2 70.8M501.9 102.2L560.1 97.6M560.7 97.5L562.3 97.3M562.9 97.2L563.9 97.1M564.5 97L567.7 96.6M568.4 96.5L569 96.4M570 96.2L570.9 96.1M571.9 96L572.5 95.9M573.5 95.7L574.4 95.6M575.1 95.5L575.7 95.4M576.7 95.2L577.6 95.1M578.6 95L579.2 94.9M609 90.2L616.6 88.3L693.6 71.8M503.3 102.8L563.7 97.1M564.6 97L569.4 96.3M570.1 96.2L570.7 96.1M571.7 96L572.6 95.8M573.3 95.7L574.2 95.6M575.2 95.5L575.8 95.4M576.8 95.2L577.7 95.1M578.4 95L579 94.9M580.3 94.7L580.9 94.6M612.3 89.7L695 72.8M504.7 103.5L559.6 97.6L572.7 95.8M573.4 95.7L574.3 95.6M575 95.5L575.9 95.3M576.6 95.2L577.5 95.1M578.5 95L579.1 94.9M580.1 94.7L580.7 94.6M617.5 89L618.1 88.8M618.8 88.7L696.4 73.9M506.1 104.1L561 97.4L574.5 95.6M575.1 95.5L575.7 95.4M576.7 95.2L577.6 95.1M578.3 95L579.2 94.8M579.9 94.7L580.8 94.6M581.8 94.5L582.4 94.4M629.1 87.2L629.7 87.1M630.4 87L631 86.9M632 86.7L697.8 74.9M507.5 104.7L562.4 97.3L577.4 95.1M578.4 95L579 94.9M580 94.7L580.9 94.6M581.6 94.5L582.2 94.4M583.5 94.2L584.1 94.1M642.3 85.5L699.2 75.9M508.8 105.3L577.5 95.1M578.2 95L579.1 94.8M579.8 94.7L580.7 94.6M581.7 94.5L582.3 94.4M583.3 94.2L583.9 94.1M584.9 94L585.8 93.9M644.3 85.7L700.5 77M510.2 106L577.7 95.1M578.3 95L579.2 94.8M579.9 94.7L580.8 94.6M581.5 94.5L582.4 94.3M583.1 94.2L584 94.1M585 94L586 93.8M586.6 93.7L587.2 93.7M646.7 86L701.9 78M511.6 106.6L566.3 96.9L577.4 95.1M578.1 95L579 94.8M579.7 94.7L581 94.6M581.6 94.5L582.2 94.4M583.2 94.2L584.1 94.1M584.8 94L585.7 93.8M586.4 93.7L587.3 93.6M588.3 93.5L588.9 93.4M649 86.2L703.3 79M513 107.2L568.3 96.6L583.9 94.1M584.9 94L585.9 93.8M586.5 93.7L587.5 93.6M588.1 93.5L589 93.4M590 93.2L590.6 93.2M651.7 86.5L704.7 80.1M514.4 107.8L570 96.4L587.2 93.6M588.2 93.5L589.2 93.3M589.8 93.2L590.4 93.1M654.3 86.7L706.1 81.1M515.8 108.5L571.4 96.3L588.9 93.3M589.6 93.2L590.5 93.1M591.5 93L592.5 92.9M656.4 87.1L707.5 82.1M517.2 109.1L572.4 96.2L577.9 95.1L587.5 93.6M588.1 93.5L589.1 93.3M589.7 93.2L590.7 93.1M591.3 93L592.2 92.8M593.2 92.7L593.8 92.6M658.4 87.5L708.9 83.2M518.6 109.7L559.4 99.7L574.1 96L580.9 94.6L590.4 93.1M591.4 93L592.4 92.8M593 92.7L594 92.6M594.9 92.5L595.6 92.4M659.5 87.9L710.3 84.2M519.9 110.3L560.8 99.8L574.9 96L580 94.8L589 93.3M589.6 93.2L590.5 93.1M591.2 93L593.7 92.6M594.7 92.5L595.7 92.3M620.3 91L621.5 90.9M661.8 88.3L711.6 85.2M521.3 111L562.2 99.9L576.6 95.7L582.7 94.4L592.3 92.8M592.9 92.7L593.9 92.6M594.5 92.5L595.5 92.3M596.1 92.2L597 92.1M619.7 91.1L621.6 91M663.2 88.8L713 86.3M522.7 111.6L563.6 99.9L578 95.6L584.1 94.2L594 92.6M594.6 92.5L595.6 92.3M596.2 92.2L597.2 92.1M597.8 92L598.4 91.9M619.5 91.1L621.4 91M627.5 90.7L628.1 90.7M663.9 89.2L714.4 87.3M524.1 112.2L565 100L579.7 95.3L587 93.7L596.9 92.1M597.9 92L598.9 91.8M599.5 91.7L600.5 91.6M619.6 91L627.9 90.7M665.6 89.7L715.8 88.3M525.5 112.8L566.4 100.1L580.8 95.3L585.9 94L595.5 92.3M596.1 92.2L597.1 92.1M597.7 92L600.2 91.6M601.2 91.5L601.8 91.4M619.7 90.9L628 90.8M667 90.1L717.2 89.4M526.9 113.4L567.8 100.1L581.8 95.2L586.9 93.9L595.6 92.3M596.2 92.2L597.2 92.1M597.8 92L598.8 91.8M599.4 91.7L600.4 91.6M601 91.5L602 91.3M602.9 91.2L603.6 91.2M619.5 90.8L628.8 90.7M668.7 90.6L718.6 90.4M528.3 114.1L569.2 100.2L583.5 95L589 93.5L598.9 91.8M599.5 91.7L600.5 91.6M601.1 91.5L601.7 91.4M602.7 91.2L603.7 91.1M620 90.6L631.5 90.7M636.6 90.7L637.8 90.7M669.8 91L720 91.4M529.6 114.7L570.5 100.3L585.2 94.7L588.8 93.7L592.9 92.8L603.4 91.1M604.4 91L605 90.9M606.3 90.7L607 90.7M620.4 90.4L634.4 90.7M636.7 90.7L639.2 90.8M643.1 90.9L643.7 90.9M670.2 91.4L721.3 92.5M531 115.3L571.9 100.3L586.6 94.6L589.8 93.6L593.7 92.7L603.6 91.1M604.2 91L605.2 90.8M605.8 90.7L606.8 90.6M620.5 90.3L639.7 90.8M643.2 90.9L643.8 91M671.6 91.9L722.7 93.5M532.4 115.9L573.3 100.4L587.7 94.5L593.8 92.8L603.7 91.1M604.3 91L604.9 90.9M605.9 90.7L606.9 90.6M607.5 90.5L608.5 90.4M620.6 90.1L641 90.9M643.3 91L644.2 91M673.3 92.3L724.1 94.5M533.8 116.6L574.7 100.5L589.1 94.4L594.2 92.8L603.5 91.1M604.1 91L605.1 90.8M606 90.7L607 90.6M607.6 90.5L608.2 90.4M609.2 90.2L610.2 90.1M621 89.9L629.3 90.2L642.4 90.9M643.1 91L645 91.1M646.9 91.2L647.9 91.3M674.1 92.7L725.5 95.6M535.2 117.2L576.1 100.6L586.6 95.8L591.1 94L594.6 92.9L599.1 91.9L610 90.1M610.9 90L611.5 89.9M621.5 89.7L631 90.1L646.4 91.2M647 91.2L648.6 91.3M650.2 91.4L650.8 91.5M675.4 93.1L726.9 96.6M536.6 117.8L577.5 100.6L588 95.7L592.5 93.8L596 92.7L600.5 91.7L612 89.8M612.6 89.7L613.3 89.7M621.6 89.6L632.1 90L649.4 91.4M650.3 91.5L651.3 91.5M677.2 93.6L728.3 97.6M538 118.4L578.9 100.7L589.4 95.6L593.6 93.8L597.1 92.6L601.2 91.6L611.8 89.8M612.4 89.7L613.4 89.6M614.3 89.5L615 89.5M622 89.4L633.2 89.8L652 91.6M653 91.7L654.3 91.8M677.9 94L729.7 98.7M539.3 119.1L580.2 100.8L590.8 95.5L594.9 93.6L598.5 92.4L602.6 91.4L613.5 89.6M614.1 89.5L614.7 89.4M622.7 89.2L628.5 89.3L634.6 89.7L654.4 91.8M655.3 91.9L656.6 92.1M657.6 92.2L658.2 92.2M659.8 92.4L660.4 92.5M679.3 94.4L731 99.7M540.7 119.7L581.6 100.8L592.2 95.4L596.3 93.5L599.5 92.3L603.4 91.3L613.3 89.6M613.9 89.5L614.9 89.3M615.5 89.2L616.5 89.1M622.5 89L629.2 89.1L635.3 89.5L657 92.1M657.7 92.2L658.6 92.3M659.9 92.4L660.9 92.6M661.5 92.6L662.5 92.7M665 93L665.7 93.1M681 94.9L732.4 100.7M542.1 120.3L583 100.9L593.6 95.3L597.7 93.3L600.9 92.1L604.7 91.1L615 89.3M615.6 89.2L616.6 89.1M617.2 89L618.2 88.9M623.3 88.8L630.6 89L637 89.4L661 92.6M661.6 92.7L662.6 92.8M663.5 92.9L664.2 93M681.7 95.2L733.8 101.8M543.5 120.9L584.4 101L594.9 95.2L599.4 93L602.9 91.7L607.4 90.6L618.3 88.8M618.9 88.7L619.9 88.6M623.7 88.6L631.7 88.8L638.4 89.3L664.3 93M665.2 93.2L666.2 93.3M666.8 93.4L667.5 93.5M670 93.8L670.7 93.9M683.1 95.6L735.2 102.8M544.9 121.6L585.8 101L596.3 95.1L600.8 92.9L604.3 91.5L608.8 90.4L620 88.6M620.6 88.5L621.6 88.4M624.4 88.4L633.1 88.6L639.5 89.2L666 93.3M666.9 93.4L667.6 93.5M668.5 93.7L669.2 93.7M670.1 93.9L670.8 94M683.9 96L736.6 103.9M546.3 122.2L587.2 101.1L597.7 95L601.9 92.8L605.4 91.5L609.2 90.4L612.7 89.7L619.8 88.6M620.4 88.5L621.7 88.3M622.3 88.2L623 88.2M625.5 88.2L634.5 88.5L641.2 89.1L668 93.6M668.6 93.7L669.6 93.8M670.2 93.9L671.8 94.2M672.8 94.4L673.4 94.5M674.1 94.6L674.7 94.7M686.5 96.6L738 104.9M547.7 122.8L588.6 101.2L598.8 95.1L602.9 92.8L605.8 91.6L608.4 90.8L613.2 89.7L618.3 88.8M618.9 88.7L619.9 88.6M620.5 88.5L621.5 88.3M622.1 88.2L623.1 88.1M624.3 88L625 88M626.3 88L635.8 88.3L642.6 88.9L673.5 94.5M674.2 94.6L675.8 94.9M688.2 97.1L739.4 105.9M549.1 123.4L589.9 101.3L600.5 94.8L604.6 92.5L607.8 91.2L611.7 90.1L615.5 89.3L621.6 88.3M622.2 88.2L623.2 88.1M623.8 88L624.8 87.8M626.4 87.8L636.9 88.1L643.9 88.8L676.2 95M676.9 95.1L677.5 95.2M681.6 96L682.3 96.1M689 97.4L740.8 107M550.4 124L591.3 101.3L601.9 94.7L606.4 92.2L609.9 90.8L614.7 89.5L626.5 87.6M627.1 87.6L638 87.9L645 88.7L650.4 89.6L663.9 92.6L678.6 95.5M679.5 95.7L680.8 95.9M681.8 96.1L682.4 96.2M689.7 97.7L742.1 108M551.8 124.7L592.7 101.4L603.3 94.6L607.7 92.1L611.3 90.6L615.4 89.5L626.3 87.6M626.9 87.5L629.8 87.3L638.1 87.7L646.4 88.5L651.8 89.6L665.2 92.7L684.4 96.7M685.1 96.8L686.7 97.2M691.1 98.1L743.5 109M553.2 125.3L594.1 101.5L604.3 94.7L608.5 92.2L611.7 90.8L614.9 89.8L619 88.8L624.8 87.8M625.4 87.7L626.4 87.6M627 87.5L629.6 87.2L632.1 87.2L641.1 87.6L647.1 88.3L652.9 89.4L666.6 92.8L684.2 96.7M685.2 96.9L686.4 97.2M687.1 97.3L687.7 97.5M689.3 97.8L690.6 98.1M691.9 98.4L744.9 110.1M554.6 125.9L595.5 101.5L605.7 94.6L609.2 92.4L613.7 90.3L620.1 88.6L629 87.2L631.3 86.9L640.5 87.3L646.3 87.8L654 89.3L668.3 93L688.5 97.7M689.1 97.8L692 98.5M692.6 98.6L746.3 111.1M556 126.5L596.9 101.6L607.1 94.5L610.6 92.3L613.2 90.9L615.4 90L622.1 88.3L630.7 86.9L633 86.7L642.6 87.2L648.3 87.8L655.3 89.2L669.7 93.1L694.6 99.2M695.3 99.3L747.7 112.1M557.4 127.2L598.3 101.7L608.5 94.4L612 92.1L614.6 90.8L616.8 89.8L623.2 88.1L632.1 86.7L634 86.5L643.6 87L649.4 87.6L656.7 89.1L671.1 93.2L694.4 99.2M696 99.6L749.1 113.2M558.8 127.8L599.7 101.7L609.9 94.3L613.4 92L615.9 90.6L618.2 89.6L624.6 87.9L633.5 86.5L635.4 86.3L645.3 86.8L651.1 87.5L658.1 89.1L672.5 93.3L696.1 99.7M696.8 99.8L750.5 114.2M560.1 128.4L601 101.8L611.6 94L616.1 91.1L619.6 89.5L624.4 88.1L627.2 87.5L635.9 86.1L638.7 86.1L648.3 86.8L652.5 87.4L656.9 88.3L674.5 93.6L751.8 115.2M561.5 129L602.4 101.9L613 93.9L617.4 90.9L621 89.3L625.7 87.9L628.6 87.3L637.2 85.9L640.1 85.9L650 86.7L654.2 87.3L658.3 88.2L675.9 93.8L753.2 116.3M562.9 129.7L603.8 101.9L614.4 93.8L618.8 90.8L622.3 89.1L627.1 87.7L630 87L638.6 85.7L641.5 85.7L651.4 86.5L655.6 87.1L659.7 88.1L664.5 89.6L677.3 93.9L754.6 117.3"/>
<path class="n" d="M455.8 81.3L566.7 128.6M458.2 82.3L569.1 127M460.6 83.2L571.5 125.3M463.3 84.3L573.9 123.7M467.3 85.7L576.3 122M472.5 87.5L578.7 120.4M474.9 88.3L581.1 118.7M480.6 90L583.5 117M486.3 91.6L486.9 91.7M487.4 91.8L585.9 115.4M492.3 93L588.3 113.7M495.6 93.8L498.6 94.4M499.4 94.5L590.7 112.1M500.7 94.8L502.4 95.1M502.9 95.2L503.8 95.3M504.3 95.4L593.1 110.4M503.1 95.3L504 95.4M504.8 95.6L505.3 95.6M505.9 95.7L506.7 95.8M507.6 96L509.8 96.3M510.3 96.4L595.5 108.8M509.1 96.3L510 96.4M510.8 96.5L511.6 96.6M512.7 96.7L597.8 107.1M513.2 96.9L513.7 96.9M514.9 97L516 97.1M516.8 97.2L517.9 97.3M518.7 97.4L600.2 105.4M519.5 97.5L520 97.6M522 97.7L523.1 97.8M523.9 97.9L602.6 103.8M522.4 97.8L523.2 97.9M525.2 98L526.6 98.1M528 98.1L605 102.1M529.8 98.3L530.9 98.4M534 98.4L536.7 98.5M537.6 98.5L607.4 100.3M535.8 98.6L536.9 98.6M542.7 98.6L609.8 98.4M545.1 98.5L612.2 96.5M545 98.7L547 98.5M547.8 98.5L614.6 94.6M549.6 98.5L617 92.7M553.7 98.2L555.1 98.1M555.9 98L619.4 91.1M556.7 98L621.8 89.7M557.4 98L557.9 97.9M559.1 97.7L560.2 97.6M561 97.5L564 97M564.6 97L624.2 88.7M559.5 97.7L560.1 97.6M561.2 97.5L561.7 97.4M562.8 97.2L563.9 97.1M564.8 97L626.6 88M563.3 97.2L563.8 97.1M565 97L565.8 96.8M566.6 96.7L567.7 96.6M568.3 96.5L629 87.3M565.1 97L566 96.8M566.8 96.7L567.6 96.6M568.5 96.5L569 96.4M569.8 96.2L577.6 95.1M578.2 95L579.3 94.8M579.8 94.7L631.4 86.8M565.3 97L565.9 96.9M566.7 96.7L567.5 96.6M568.4 96.5L569.2 96.4M570 96.2L570.9 96.1M571.7 96L572.5 95.9M573.4 95.7L574.5 95.6M575 95.5L576.1 95.3M576.7 95.2L577.5 95.1M578.3 95L579.2 94.8M579.7 94.7L580.8 94.6M581.4 94.5L582.5 94.3M583.1 94.2L587.5 93.6M588 93.5L589.2 93.3M589.7 93.2L595.5 92.3M596.1 92.2L633.8 86.4M565.2 97L565.8 96.9M566.9 96.7L567.7 96.6M568.5 96.5L569.1 96.4M570.2 96.2L570.8 96.1M571.9 96L572.7 95.8M573.5 95.7L574.4 95.6M574.9 95.5L575.7 95.4M576.6 95.2L577.7 95.1M578.2 95L579.1 94.9M579.9 94.7L580.7 94.6M581.6 94.5L582.4 94.3M583.2 94.2L584.1 94.1M584.9 94L585.7 93.8M586.3 93.7L589.1 93.3M589.6 93.2L590.7 93.1M591.3 93L592.4 92.8M592.9 92.7L594 92.5M594.6 92.5L597.1 92.1M597.6 92L598.8 91.8M599.3 91.7L603.7 91.1M604.3 91L605.1 90.8M606 90.7L611.8 89.8M612.3 89.7L624.8 87.8M625.4 87.7L636.2 86M565.4 97L565.9 96.9M567.1 96.7L567.6 96.6M570.4 96.2L570.9 96.1M571.8 96L572.6 95.9M573.4 95.7L574.3 95.6M575.1 95.5L575.9 95.4M576.8 95.2L577.6 95.1M578.4 95L579 94.9M580.1 94.7L580.9 94.6M581.5 94.5L582.3 94.4M583.1 94.2L584.2 94.1M584.8 94L585.9 93.8M586.5 93.7L587.3 93.6M588.1 93.5L589.2 93.3M589.8 93.2L590.6 93.1M591.5 93L592.3 92.8M592.8 92.7L593.9 92.6M594.5 92.5L595.6 92.3M596.2 92.2L597 92.1M597.8 92L598.9 91.8M599.5 91.7L600.3 91.6M601.2 91.5L602 91.3M602.5 91.2L603.7 91.1M604.2 91L605 90.9M605.9 90.7L607 90.6M607.5 90.5L608.4 90.3M609.2 90.2L610.3 90M610.9 90L613.4 89.6M613.9 89.5L614.7 89.4M615.6 89.2L618.3 88.8M618.9 88.7L619.7 88.6M620.6 88.5L623.1 88.1M623.6 88L626.4 87.6M626.9 87.5L638.6 85.7M568.6 96.5L569.2 96.4M570.3 96.2L570.8 96.2M571.9 96L572.5 95.9M573.6 95.7L574.4 95.6M575.3 95.5L575.8 95.4M576.9 95.2L577.5 95.1M578.6 95L579.2 94.9M580.3 94.7L580.8 94.6M581.9 94.5L582.5 94.4M583.6 94.2L584.1 94.1M585.3 94L585.8 93.9M586.6 93.7L587.5 93.6M588.3 93.5L589.1 93.4M590 93.2L590.5 93.2M591.6 93L592.5 92.9M593.3 92.7L593.8 92.6M595 92.5L595.5 92.4M596.6 92.2L597.2 92.1M604.7 91L605.2 90.9M606.3 90.7L606.9 90.7M609.7 90.2L610.2 90.2M622.7 88.2L623.2 88.2M624.3 88L624.9 87.9M627.1 87.6L641 85.5M565.2 97L565.7 96.9M566.9 96.7L567.7 96.6M572.1 96L572.7 95.9M573.8 95.7L574.3 95.7M577.1 95.2L577.7 95.2M625.6 88.2L643.4 85.6M559.3 97.7L560.1 97.6M561.2 97.5L561.8 97.4M562.9 97.2L564 97.1M564.8 97L565.9 96.8M566.5 96.7L567.6 96.6M568.4 96.5L569 96.4M570.1 96.2L570.9 96.1M572 96L572.6 95.9M573.7 95.7L574.2 95.7M623.3 88.9L645.8 85.8M556.7 98L557.8 97.8M558.6 97.7L560 97.5M560.6 97.5L567.5 96.6M568 96.5L569.2 96.3M570 96.2L570.8 96.1M571.9 96L572.5 95.9M573.6 95.7L574.4 95.6M621.8 89.4L648.2 85.9M553.5 98.2L554.9 98.1M555.5 98L569.1 96.3M569.6 96.2L571 96.1M571.5 96L572.7 95.8M573.5 95.7L574.3 95.6M575.4 95.5L576 95.4M621.2 89.8L650.6 86.1M549.5 98.5L572.6 95.8M573.1 95.7L574.5 95.6M575.3 95.5L575.9 95.4M620.5 90.2L653 86.4M545 98.6L575.8 95.3M576.3 95.2L577.7 95.1M619.9 90.5L655.4 86.7M546.9 97.8L582.3 94.4M619.8 90.8L657.8 87.2M549.2 96.6L587.2 93.6M588.6 93.5L589.2 93.4M619.7 91L660.1 87.8M551.6 95.3L593.8 92.7M619.6 91.1L662.5 88.4M554 93.7L598.7 91.9M620 91L621.7 91M623.9 90.9L664.9 89.2M556.4 92.1L603.6 91.2M626 90.8L628.2 90.7M630.7 90.7L667.3 90M558.8 90.4L606.8 90.6M627.3 90.7L628.1 90.7M635.9 90.7L669.7 90.9M561.2 88.6L610.3 90M636.6 90.7L672.1 91.7M563.6 86.9L614.4 89.5M636.5 90.6L637.1 90.7M643.2 91L674.5 92.6M566 85.2L617 89M643.1 90.9L644.2 91M647 91.2L676.9 93.4M568.4 83.6L620 88.5M650.2 91.4L650.8 91.5M653 91.7L654.4 91.8M655.5 91.9L679.3 94.2M570.8 82.1L623.2 88.2M655.4 91.9L655.9 92M657.6 92.2L681.7 95M573.2 80.6L625.3 87.7M660 92.4L660.8 92.6M661.7 92.7L662.8 92.8M663.3 92.9L684.1 95.7M575.6 79.1L627.7 87.3M659.9 92.3L660.4 92.4M661.6 92.6L662.4 92.7M663.5 92.9L664.1 93M665.2 93.1L666 93.3M666.8 93.4L667.9 93.6M668.8 93.7L669.6 93.8M670.2 93.9L686.5 96.5M578 77.6L631 87M665.1 93L665.6 93.1M668.7 93.6L669.2 93.7M670.1 93.9L688.9 97.2M580.4 76.1L632.8 86.4M674.1 94.6L676.1 95M676.9 95.1L691.3 98M582.8 74.6L636 86.2M674.3 94.5L674.8 94.6M676.8 95.1L677.6 95.2M679.3 95.6L681.2 96M681.8 96.1L693.7 98.7M585.2 73.1L638.1 85.7M681.7 96.1L684.4 96.7M685 96.9L696.1 99.5M587.6 71.6L641.4 85.5M685.2 96.8L686.6 97.2M687.1 97.3L687.7 97.5M689.1 97.8L698.5 100.2M590 70.1L646.8 85.9M689.2 97.8L689.8 97.9M691.2 98.3L700.9 101M592.4 68.6L651.2 86.2M692.7 98.6L694.7 99.2M695.2 99.3L697.2 99.9M697.7 100.1L703.3 101.8M594.8 67.1L660.2 88M669.4 90.9L705.7 102.5M597.2 65.6L708.1 103.3M599.6 64.1L710.5 104M602 62.6L712.9 104.8M604.4 61.1L715.3 105.5M606.8 59.6L717.7 106.3M609.2 58.1L720.1 107M611.6 56.6L722.5 107.8M613.9 55.1L724.8 108.5M616.3 53.6L727.2 109.3M618.7 52.1L729.6 110M621.1 50.6L732 110.8M623.5 49.1L734.4 111.6M625.9 47.6L736.8 112.3M628.3 46.1L739.2 113.1M630.7 44.6L741.6 113.8M633.1 43.1L744 114.6M635.5 41.6L746.4 115.3M637.9 40.1L748.8 116.1M640.3 38.6L751.2 116.8M642.7 37.1L753.6 117.6"/>
<path class="b" d="M453.4 80.4L461.7 83.7M463.9 84.5L464.9 84.9M545.1 98.5L548.6 97L552.4 94.8L568.1 83.8L645.1 35.6M564.3 130.3L605.2 102L615.7 93.7L620.2 90.6L623.7 88.9L628.5 87.4L632.4 86.7L640.3 85.5L642.9 85.5L652.8 86.3L657 87L661.1 88L665.9 89.5L678.7 94L756 118.3M453.4 80.4L564.3 130.3M645.1 35.6L756 118.3"/>
<path class="m" d="M258.7 283.1L301.5 246.6L305 244L306.9 243.1L309.2 242.6L311.4 242.8L314.6 244L317.5 245.4L321.3 248L326.1 252.2L332.8 257.8M378.8 283.5L384.9 281.1L389.7 278.4L403.1 271.5L412 266.3L420.7 260.7L432.2 252.3L450.4 239.5M260.1 283.7L302.9 248L306.1 245.7L308 244.7L310.6 244L312.5 244.2L315.3 245.2L318.5 246.7L322.7 249.3L327.5 253.4L333.9 258.5M379.6 283.8L382.1 283L386 281.5L391.1 278.7L404.5 271.9L413.1 267L422.1 261.4L433.6 253.1L451.8 240.5M261.5 284.4L304.3 249.3L307.5 247.1L309.4 246.2L311.9 245.5L313.9 245.7L316.7 246.6L319.9 248.1L324.1 250.6L328.9 254.7L335.6 259.8M380.3 284.1L383.2 283.3L387.3 281.7L392.5 278.9L405.6 272.5L414.2 267.7L423.4 262L434.9 253.9L453.2 241.5M262.8 285L305.7 250.7L309.2 248.4L311.4 247.4L313.3 247L315.6 247.2L318.8 248.3L322.3 250L325.5 252L330.3 255.9L338.9 262.3M381.4 284.3L384.3 283.6L388.7 281.9L393.8 279.1L407.3 272.7L415.6 268.2L424.8 262.6L436.3 254.6L454.5 242.5M264.2 285.6L307 252.1L310.6 249.8L312.8 248.9L314.7 248.5L316.9 248.7L320.1 249.8L323.7 251.4L326.9 253.3L331.6 257.1L340.6 263.5M381.8 284.6L385 284L389.8 282.2L395.2 279.4L408.3 273.3L416 269.2L425.9 263.4L437.7 255.4L455.9 243.6M265.6 286.2L308.4 253.5L312.3 251.1L314.8 250.2L316.4 250L319 250.4L322.5 251.6L326.3 253.5L328.6 254.9L332.7 258.1L340.1 263.1L345.2 266.9M382.9 284.8L386.1 284.2L391.2 282.4L396.6 279.6L409.7 273.6L417.4 269.7L427.3 264L439.1 256.2L457.3 244.6M267 286.9L309.8 254.9L313.7 252.6L316.2 251.7L317.8 251.5L320.4 251.8L323.9 253.1L327.4 254.7L329.6 256L334.1 259.3L341.4 264.1L345.9 267.3M346.9 268L347.8 268.7M383.6 285.1L387.5 284.4L392.6 282.6L398 279.9L411.1 274L418.4 270.3L428.7 264.6L440.5 256.9L458.7 245.6M268.4 287.5L311.2 256.3L315 254L317.6 253.2L319.2 252.9L321.7 253.3L325.3 254.5L329.1 256.3L331 257.3L335.5 260.5L343.2 265.3L348.6 269.1M384.4 285.3L388.2 284.7L393.6 282.9L399.4 280.1L412.5 274.4L419.2 271.1L430.1 265.2L441.9 257.7L460.1 246.6M269.8 288.1L312.9 257.5L316.7 255.3L319.3 254.6L320.9 254.4L323.5 254.9L327.3 256.2L331.1 258L337.2 262L345.8 267.1L351.9 271.2M384.8 285.5L389.3 284.9L395 283.1L400.5 280.5L412.6 275.4L419.9 271.9L431.1 266L443.3 258.4L461.5 247.6M271.2 288.7L314 259.1L317.8 256.9L320.7 256L322.3 255.9L324.5 256.3L328.4 257.5L332.5 259.3L338.6 263.2L347.5 268.3L353.6 272.2M385.5 285.7L390.7 285.1L396.1 283.4L402.2 280.6L414 275.7L421 272.5L432.5 266.6L444.7 259.2L462.9 248.6M272.5 289.4L315.4 260.5L319.2 258.4L322.1 257.5L323.7 257.4L325.9 257.7L329.7 258.9L333.9 260.7L340 264.4L348 268.7L355.3 273.1M355.9 273.5L356.9 274.2M386.3 285.9L391.7 285.3L397.5 283.6L403.5 280.8L415 276.2L422.1 273.1L433.9 267.2L446.4 259.8L464.2 249.7M273.9 290L317.1 261.7L320.9 259.7L323.8 259L325.4 258.9L327.6 259.3L331.4 260.5L335.3 262.1L341.3 265.6L351.6 270.9L358.9 275.2M387.4 286.1L393.1 285.5L398.9 283.8L404.9 281.1L416.4 276.6L423.1 273.7L435.3 267.8L447.7 260.6L465.6 250.7M275.3 290.6L318.1 263.2L322 261.3L324.8 260.5L326.4 260.4L328.7 260.7L332.5 261.8L336.7 263.4L342.7 266.8L353.3 272L360.3 275.9M361.3 276.5L361.9 276.9M388.1 286.2L394.2 285.7L399.9 284.1L406.3 281.3L417.8 277L424.2 274.3L436.7 268.4L449.1 261.3L467 251.7M276.7 291.2L319.8 264.4L323.7 262.6L326.5 261.9L328.1 261.9L330.4 262.2L334.2 263.4L338.4 264.9L344.1 268L356.3 273.7L364.6 278.2M388.5 286.4L394.9 286L399.1 285L402.3 283.9L407.7 281.5L418.9 277.4L425 275L437.7 269.1L450.5 262.1L468.4 252.7M278.1 291.8L321.2 265.8L325.1 264L327.9 263.4L329.2 263.4L331.5 263.6L335.3 264.7L339.4 266.2L345.5 269.2L357.6 274.5L365.6 278.6M389.3 286.6L396 286.2L400.1 285.2L403.7 284.1L409.1 281.8L420 277.9L426 275.6L432.7 272.7L439.1 269.7L451.9 262.9L469.8 253.7M279.5 292.5L322.6 267.2L326.4 265.5L329.3 264.9L330.6 264.8L332.8 265.1L336.7 266.1L340.8 267.5L347.2 270.6L359.7 275.7L367.3 279.3M368.3 279.8L369.6 280.4M389.4 286.7L391.6 286.8L396.1 286.5L398.7 286.1L400.9 285.6L404.7 284.4L410.5 282L426.5 276.4L433.5 273.5L440.2 270.5L453.3 263.6L471.2 254.7M280.9 293.1L324 268.6L327.8 267L330.7 266.4L332 266.3L334.2 266.6L338.1 267.6L342.2 268.9L348.6 271.8L357.2 275L363.6 277.6L371.6 281.2M390.5 286.8L392.7 286.9L396.8 286.7L399.7 286.4L402 285.9L406.1 284.6L411.9 282.3L427.5 276.9L434.9 274L441.6 271L454.7 264.4L472.6 255.7M282.3 293.7L325.1 270.2L329.2 268.4L332.1 267.9L335.6 268.1L343.6 270.3L350 273L365 278.3L374.9 282.5M390.6 286.9L393.4 287.1L396.6 287L400.1 286.7L402.7 286.2L407.5 284.8L413.2 282.5L427.9 277.7L435.6 274.7L443 271.6L456.1 265.2L474 256.8M283.6 294.3L326.5 271.6L330.6 269.9L333.5 269.3L337 269.5L345 271.6L351.7 274.3L366.7 279.1L377.6 283.4M390.4 286.9L391 287M391.9 287.1L394.8 287.3L398 287.1L401.5 286.8L404.1 286.3L408.9 285L414.6 282.7L429.7 278L437.3 275.1L444.3 272.2L457.4 266L475.3 257.8M285 295L327.8 273L332 271.3L334.9 270.8L338.4 271L346.4 273L353.1 275.5L368.4 280L379.9 284.2M392.1 287.1L397.2 287.4L402 287.1L405.2 286.6L410.3 285.2L416 283L430.1 278.7L438.1 275.9L445.4 272.9L459.2 266.6L476.7 258.8M286.4 295.6L329.2 274.4L333.4 272.8L336.3 272.3L339.8 272.5L347.4 274.3L354.8 276.8L370.1 280.8L382.6 284.9M391.8 287.2L398.2 287.6L402.7 287.3L405.9 286.9L411.3 285.4L417.4 283.2L430.8 279.3L439.1 276.5L446.8 273.5L460.5 267.4L478.1 259.8M287.8 296.2L330.6 275.8L334.8 274.2L337.6 273.8L340.8 273.9L348.2 275.5L356.2 278L371.5 281.5L383.6 285.2M384.3 285.4L385.9 285.8M392.9 287.3L399.6 287.8L404.1 287.5L407.3 287L412.7 285.6L418.8 283.5L432.2 279.7L440.5 276.9L448.2 274.1L461.9 268.1L479.5 260.8M289.2 296.8L332 277.1L336.2 275.7L339 275.3L342.2 275.4L349.2 276.8L356.6 279L372.6 282.1L387.6 286.2M389.2 286.6L389.8 286.7M391.4 287.1L392.1 287.2M393 287.4L399.7 287.9L404.2 287.7L408.7 287.2L414.1 285.8L420.2 283.7L435.8 279.4L446.1 276L451.5 273.9L463 269L480.9 261.8M290.6 297.5L333.1 278.7L337.9 277.1L341.4 276.7L343.6 276.9L346.8 277.4L352.2 278.5L359.3 280.5L374.6 283L387.4 286.1L393.8 287.5L401.4 288.1L407.2 287.8L410.7 287.2L415.5 286L421.2 284L434.7 280.5L444.6 277.5L452.6 274.7L464.4 269.8L482.3 262.8M292 298.1L334.4 280.1L339.2 278.5L342.4 278.2L345.3 278.4L353.6 279.9L360.6 281.6L376.6 283.8L395.5 287.8L402.8 288.2L408.9 287.9L412.1 287.4L416.9 286.2L422.6 284.3L436.1 280.9L446.6 277.8L453.9 275.3L465.8 270.6L483.7 263.9M293.3 298.7L335.8 281.4L340.6 280L343.8 279.7L346.7 279.9L355 281.2L361.1 282.7L377.7 284.4L384.4 285.5L393.3 287.4L397.2 288L404.5 288.4L410.3 288L413.5 287.6L417.9 286.5L424 284.5L437.4 281.3L448 278.3L455.3 275.9L467.2 271.3L485 264.9M294.7 299.3L337.2 282.8L342 281.5L345.2 281.2L347.8 281.3L356.4 282.6L362.1 283.8L379.4 285.1L386.1 286L395.4 287.8L398.9 288.3L405.9 288.6L412 288.2L417.4 287.1L425.4 284.8L438.8 281.7L449.7 278.7L456.7 276.5L468.5 272.1L486.4 265.9M296.1 300L338.6 284.2L343.1 283L346.3 282.7L348.8 282.7L357.8 284L364.5 285.2L381.1 285.8L387.5 286.5L400.6 288.5L407.3 288.7L413.4 288.3L418.2 287.5L426.8 285L440.5 282L451.4 279.1L458.1 277.1L469.9 272.9L487.8 266.9M297.5 300.6L340 285.6L344.5 284.4L347.7 284.1L350.2 284.2L359.2 285.3L364 286.2L366.5 286.4L380.6 286.4L387.9 286.9L402 288.7L409 288.9L415.1 288.4L419.2 287.7L428.2 285.2L441.9 282.4L453.1 279.6L459.5 277.7L471.3 273.7L489.2 267.9M298.9 301.2L341.4 287L345.9 285.9L349 285.6L351.6 285.7L360.6 286.7L365 287.4L367.6 287.5L383.6 287.2L390.6 287.4L403.7 288.9L410.4 289.1L416.5 288.6L423.8 287.1L429.6 285.5L443.3 282.8L454.8 280L460.9 278.3L472.7 274.4L490.6 268.9M300.3 301.8L342.8 288.4L346.9 287.4L350.4 287.1L353 287.2L368.3 288.7L385.6 287.8L392 287.9L405.1 289.1L411.8 289.2L418.2 288.7L425.2 287.3L430.9 285.7L445 283.1L456.5 280.5L462.3 278.9L474.1 275.2L492 269.9M301.7 302.5L344.2 289.8L348.3 288.8L351.8 288.6L354.4 288.7L369.1 289.9L372.9 289.8L385.4 288.6L392.1 288.3L406.5 289.4L413.2 289.4L419.6 288.9L426.6 287.5L432.3 285.9L446.4 283.5L458.2 280.9L464 279.4L475.5 276L493.4 271M303 303.1L345.5 291.1L349.7 290.3L355.4 290.1L370.5 291.1L374.3 290.9L386.8 289.3L393.8 288.8L408.2 289.6L414.9 289.5L421.3 289L428 287.7L433.7 286.2L447.8 283.9L459.9 281.4L494.7 272M304.4 303.7L346.9 292.5L350.8 291.8L355.2 291.6L371.5 292.4L375.7 292L388.5 289.9L395.2 289.3L410.2 289.8L416.3 289.7L422.6 289.2L429.4 287.9L435.1 286.4L449.2 284.3L461.3 281.9L496.1 273M305.8 304.3L350.2 293.5L352.8 293.2L356.3 293L363.6 293.4L372.9 293.6L377.4 293L389.8 290.6L396.9 289.7L403.6 289.7L410.3 290L416.7 289.9L424.4 289.3L430.7 288L436.5 286.7L450.6 284.7L463 282.4L497.5 274M307.2 304.9L351.3 295L354.2 294.6L357.7 294.5L365 294.9L374 294.8L378.8 294.1L391.6 291.3L398.3 290.2L404.7 290L411.4 290.2L418.4 290.1L425.7 289.4L432.1 288.2L437.9 286.9L452.3 285L464.7 282.9L498.9 275M308.6 305.6L352.4 296.4L355.6 296.1L358.8 296L366.4 296.3L375 296.1L379.5 295.4L392.6 292L400 290.6L406.4 290.3L420.1 290.2L427.1 289.6L439.3 287.1L453.6 285.4L466.4 283.4L500.3 276M310 306.2L353.7 297.9L357.3 297.5L368.8 297.7L374.8 297.5L377.7 297.2L382.2 296.2L394.3 292.6L401.4 291.1L407.7 290.6L421.5 290.4L426.9 289.9L431.1 289.3L440.7 287.4L453.4 286L463 284.7L471.6 283.2L484.1 280.5L501.7 277.1M311.4 306.8L355.1 299.3L358.6 299L369.5 299.1L377.8 298.6L382.3 297.6L395.7 293.3L403.1 291.5L409.1 291L423.2 290.5L429.9 289.9L442 287.6L456.4 286.2L469.5 284.4L503.1 278.1M312.8 307.4L356.2 300.7L359.7 300.4L370.3 300.6L378.6 299.9L383.7 298.7L397.1 294L404.8 291.9L410.5 291.3L424.3 290.7L429.7 290.3L433.5 289.7L443.4 287.8L456.2 286.7L466.1 285.6L474.4 284.4L486.9 282.1L504.4 279.1M314.1 308.1L357.3 302.1L361.1 301.9L371.3 302L379.3 301.3L384.7 300L398.8 294.6L404.2 292.8L406.5 292.3L412.2 291.5L430.8 290.5L434.6 289.9L444.8 288.1L458.2 287.1L469.1 285.9L475.8 285L488.3 282.8L505.8 280.1M315.5 308.7L358.7 303.5L362.5 303.3L372.4 303.5L379.7 302.7L382.6 302.2L385.8 301.2L400.8 295L406.3 293.1L409.1 292.5L413.9 291.8L433.1 290.5L446.2 288.3L460.3 287.4L472.1 286.3L507.2 281.1M316.9 309.3L359.7 305L363.6 304.8L373.5 304.9L380.5 304.1L383.7 303.5L387.5 302.2L401.3 296L407 293.8L408.9 293.2L412.4 292.5L416.3 292L434.5 290.7L447.6 288.6L462 287.8L474.4 286.7L508.6 282.1M318.3 309.9L361.1 306.3L364.9 306.3L372.9 306.4L377.7 306.1L383.2 305.2L387.3 304L393.4 301.3L403 296.6L408.1 294.4L410.6 293.6L415.1 292.7L419.9 292.1L436.2 290.8L448.7 288.8L464.3 288.1L477.4 287.1L510 283.1M319.7 310.6L362.5 307.7L374.3 307.9L378.5 307.6L384.2 306.6L388.7 305.1L394.8 302.3L404.3 297.3L409.8 294.8L412.3 293.9L417.1 292.9L427 291.8L437.6 290.9L449.7 289.1L464.4 288.6L476.6 287.8L511.4 284.2M321.1 311.2L363.6 309.1L372.5 309.4L376 309.4L379.2 309.1L385.3 307.9L389.8 306.5L394.6 304.2L405.4 298.1L411.2 295.3L413.7 294.4L418.8 293.1L428.4 292L439 291.1L451.1 289.3L465.8 289L477.9 288.4L512.8 285.2M322.5 311.8L364.9 310.5L373.9 310.9L380 310.6L386.7 309.2L391.1 307.6L396.3 305L406.8 298.8L412.6 295.8L415.4 294.7L420.5 293.4L430.1 292.1L440.7 291.2L452.5 289.6L467.2 289.4L479.3 288.9L514.2 286.2M323.8 312.4L366.3 311.9L375.3 312.4L381 312.1L387.7 310.6L392.5 308.8L398.3 305.7L408.2 299.5L413.9 296.3L417.1 295L422.2 293.6L431.5 292.3L442.1 291.4L453.6 289.8L469.2 289.7L481 289.4L515.5 287.2M325.2 313.1L367.7 313.3L376.7 313.9L382.1 313.5L388.8 312L393.3 310.3L398.7 307.3L409.6 300.2L415.6 296.6L419.8 295L424.6 293.7L432.9 292.5L442.8 291.6L454.9 290L470.6 290.1L482.4 290L516.9 288.2M326.6 313.7L369.1 314.7L377.7 315.3L383.2 315L385.7 314.6L389.9 313.5L394 311.8L399.8 308.5L411.3 300.6L417 297.1L418.9 296.2L421.8 295.1L426.9 293.8L434.6 292.6L444.2 291.8L456.3 290.3L472 290.5L483.8 290.5L518.3 289.2M328 314.3L370.5 316.1L377.2 316.8L379.8 316.8L383.6 316.6L386.8 316L390.9 314.9L395.1 313.2L400.8 309.8L412.7 301.3L418.7 297.4L420.7 296.5L424.2 295.1L429.3 293.9L436.3 292.8L445.3 292L457.7 290.5L485.2 291.1L519.7 290.2M329.4 314.9L371.9 317.4L378.6 318.2L381.1 318.3L384.7 318.1L387.2 317.7L390.1 316.9L393.3 315.9L396.2 314.6L399 313L402.2 310.9L414.1 302L420.4 297.7L423 296.5L426.2 295.3L431.6 293.9L438 292.9L446.3 292.2L459.1 290.7L486.6 291.6L521.1 291.3M330.8 315.6L373.3 318.8L380 319.7L382.2 319.8L385.7 319.6L388.3 319.2L390.8 318.5L394.4 317.3L397.2 316L400.4 314.1L403.3 312.2L415.8 302.4L421.8 298.2L424.4 296.9L427.6 295.6L433.3 294.1L439.7 293L460.5 290.9L488 292.2L522.5 292.3M332.2 316.2L374.7 320.2L381.4 321.2L383.6 321.3L387.1 321L389.7 320.6L392.2 319.9L395.7 318.6L398.6 317.2L401.8 315.3L405 313L417.1 303.1L423.2 298.6L426.1 297.1L429.3 295.8L435.4 294.2L441.4 293.2L461.9 291.2L489.4 292.7L523.9 293.3M333.5 316.8L376 321.6L382.4 322.7L385 322.8L388.2 322.6L390.7 322.1L393.3 321.4L397.1 319.9L399.7 318.7L403.2 316.4L406.4 314.1L418.5 303.7L424.6 299.1L427.5 297.5L430.7 296.1L437.1 294.4L442.8 293.4L460.7 291.5L463.3 291.4L490.7 293.2L525.2 294.3M334.9 317.4L377.4 323L383.8 324.1L386.4 324.2L389.6 324L392.1 323.5L394.7 322.8L398.5 321.3L401.1 319.9L404.6 317.6L407.8 315.1L419.9 304.4L426.3 299.4L429.2 297.8L432.4 296.3L438.8 294.5L444.5 293.5L461.8 291.7L464.6 291.6L492.1 293.8L526.6 295.3M336.3 318L378.8 324.4L385.2 325.6L387.8 325.7L390.6 325.5L393.5 325L396.1 324.2L399.9 322.6L402.5 321.2L406 318.8L409.2 316.2L421.3 305.1L427.7 299.8L430.6 298.1L433.8 296.6L437.3 295.5L440.5 294.7L445.9 293.7L460 292.2L466 291.8L493.5 294.3L528 296.3M337.7 318.7L380.2 325.8L386.6 327.1L389.1 327.2L392 327L395.9 326.1L400.3 324.4L402.9 323L406.4 320.6L412.8 315.3L423.6 304.9L427.8 301.3L430 299.6L433.2 297.8L435.8 296.7L439.9 295.3L443.8 294.5L447.3 293.8L459.8 292.6L467.4 292.1L494.9 294.9L529.4 297.3M339.1 319.3L381.6 327.1L388 328.6L390.5 328.7L393.4 328.5L397.2 327.6L401.7 325.7L404.3 324.3L407.8 321.8L414.2 316.2L425 305.5L429.2 301.8L431.4 300.1L434.6 298.2L437.5 296.9L441.3 295.6L445.5 294.6L448.7 294L460.8 292.8L466.2 292.3L468.8 292.3L496.3 295.4L530.8 298.4M340.5 319.9L383 328.5L389.4 330L391.9 330.2L394.8 329.9L398.6 329L403.1 327L405.7 325.6L409.2 323L415.6 317.2L426.4 306.1L430.6 302.3L432.8 300.5L436 298.6L438.9 297.2L443 295.7L447.2 294.7L450.4 294.1L462.2 292.9L467.6 292.5L470.2 292.5L497.7 295.9L532.2 299.4M341.9 320.5L384.4 329.9L390.4 331.4L393.9 331.6L396.8 331.3L400 330.4L404.5 328.4L406.7 327.1L410.9 323.9L414.1 321L417.9 317.3L427.2 307.4L433.6 301.4L436.8 299.3L439.9 297.6L444.4 296L448.9 294.8L451.8 294.3L463.6 293.1L469 292.7L471.6 292.8L499.1 296.5L533.6 300.4M343.2 321.2L385.7 331.3L391.8 332.9L395.3 333.1L398.2 332.7L401.4 331.8L405.9 329.7L408.1 328.3L412.3 325.1L415.8 321.8L419.3 318.2L428.6 308L434.9 301.9L438.5 299.5L441.7 297.8L445.8 296.2L450.6 294.9L453.2 294.5L464.7 293.3L470.4 292.9L473 293L500.4 297L534.9 301.4M344.6 321.8L387.1 332.7L393.2 334.4L396.1 334.6L399.6 334.2L402.8 333.2L406 331.7L408.9 330.1L412 327.6L415.2 324.8L419.4 320.6L429.3 309.4L434.7 303.8L437.9 301.1L442.4 298.4L447.8 296.2L454.5 294.6L465.7 293.5L471.8 293.1L475 293.3L479.1 294M479.8 294.1L482 294.5M482.7 294.6L483.6 294.7M484.3 294.8L491.6 296M492.2 296.1L504.4 297.9L536.3 302.4M346 322.4L388.5 334.1L394.6 335.9L397.5 336.1L400.7 335.7L403.5 334.9L406.7 333.5L409.9 331.6L413.1 329.1L416.6 325.9L420.8 321.6L430.7 310.1L436.1 304.3L439.6 301.3L443.8 298.7L449.5 296.3L453.7 295.2L456.2 294.8L467.1 293.6L473.2 293.3L476.7 293.6L481.8 294.5M484 294.9L484.7 295M485.6 295.1L486.3 295.2M488.5 295.6L489.2 295.7M497.5 297.2L537.7 303.4M347.4 323L396 337.3L398.8 337.6L402 337.2L404.9 336.4L408.1 334.8L411.3 332.9L414.5 330.3L418 327L422.2 322.6L432.4 310.4L437.5 304.8L441 301.7L445.2 299L450.6 296.7L454.8 295.5L457.3 295L468.2 293.8L474.2 293.5L477.4 293.7L481.6 294.4M499.5 297.7L539.1 304.4M348.8 323.7L397.4 338.8L400.2 339.1L403.4 338.7L406.3 337.8L409.5 336.2L412.7 334.2L415.9 331.6L419.4 328.2L423.6 323.6L433.8 311L438.9 305.2L442.4 302.1L446.6 299.3L452 296.9L456.1 295.7L458.7 295.1L469.2 294L475.3 293.7L478.5 293.9L482 294.5M500.6 298.2L540.5 305.5M350.2 324.3L398.7 340.3L401.6 340.6L404.8 340.1L407.7 339.2L410.9 337.6L414.1 335.5L417.3 332.8L420.8 329.3L424.9 324.6L435.2 311.7L440.3 305.7L443.8 302.5L447.9 299.6L453.4 297.1L457.5 295.9L460.1 295.3L470 294.2L474.5 294L478.9 294L483.1 294.7M501.9 298.6L541.9 306.5M351.6 324.9L400.1 341.8L403 342.1L406.2 341.6L409.1 340.6L412.3 339L415.5 336.8L418.7 334L422.2 330.4L426.3 325.6L436.6 312.3L441.7 306.2L444.9 303.2L449 300.1L454.4 297.4L458.6 296.1L461.2 295.5L474.6 294.2L479.4 294.2L483.2 294.7M483.8 294.8L484.5 295M490.5 296.3L492.1 296.7M503.6 299.2L543.3 307.5M353 325.5L401.5 343.2L404.4 343.5L407.6 343.1L410.5 342.1L413.7 340.3L416.9 338.1L420 335.2L423.6 331.6L427.7 326.6L437.9 313L443.1 306.7L446.2 303.6L450.4 300.4L453.3 298.8L456.1 297.6L460.3 296.2L462.9 295.6L472.1 294.6L476 294.4L480.8 294.4L484.6 294.9M485.2 295.1L485.9 295.2M490.7 296.4L493.2 296.9M493.9 297.1L496.1 297.6M504.7 299.6L544.7 308.5M354.3 326.2L402.6 344.6L405.5 345L409 344.5L411.8 343.5L415 341.7L418.2 339.5L421.4 336.5L424.9 332.7L429.1 327.6L439.3 313.7L444.4 307.2L448 303.7L452.1 300.5L455 298.9L457.5 297.8L461.7 296.4L464.2 295.8L473.5 294.8L477.3 294.6L482.1 294.6L486 295.2M490.8 296.4L493 296.9M494 297.1L496.2 297.7M498.8 298.3L499.4 298.4M505.5 299.9L506.7 300.2M507.7 300.4L546 309.5M355.7 326.8L404 346.1L404.9 346.3L406.8 346.5L410 346.1L413.2 344.9L416.1 343.3L419.3 341L422.5 338L426.3 333.8L430.5 328.6L440.7 314.3L445.8 307.7L449.3 304.1L453.5 300.8L456.4 299.2L458.9 298L463.1 296.6L465.6 296L474.9 295L478.7 294.7L483.5 294.8L487.4 295.4M490.6 296.3L497.3 297.9M498.9 298.3L501.1 298.9M508.8 300.9L547.4 310.5M357.1 327.4L405.4 347.5L406.3 347.8L408.2 348L411.4 347.5L414.6 346.4L417.5 344.7L420.7 342.4L423.9 339.2L427.7 334.9L431.9 329.6L442.1 315L447.2 308.2L450.7 304.5L454.9 301.1L457.8 299.4L460.3 298.2L464.5 296.8L467 296.2L476 295.1L479.5 294.9L484.6 295L488.1 295.5M491 296.3L498.3 298.2M499 298.4L502.2 299.2M510.2 301.4L548.8 311.6M358.5 328L406.7 349L407.7 349.3L409.6 349.5L412.8 349L416 347.8L418.9 346.1L422.1 343.7L425.3 340.5L429.1 336.1L433.3 330.6L443.5 315.7L448.6 308.7L452.1 304.9L456.3 301.4L459.1 299.7L461.7 298.4L465.8 297L468.4 296.3L477 295.3L480.5 295.1L485.7 295.1L489.2 295.7M491.4 296.3L503.9 299.7M510.3 301.5L550.2 312.6M359.9 328.6L408.1 350.5L409.1 350.8L411 351L414.2 350.5L417.4 349.2L420.3 347.5L423.5 345L426.7 341.7L430.5 337.2L434.6 331.6L444.9 316.3L450 309.2L453.5 305.3L457.6 301.7L460.5 300L463.1 298.7L467.2 297.1L469.8 296.5L478.4 295.5L481.9 295.3L487 295.3L490.6 295.9M491.5 296.2L505.6 300.2M510 301.5L551.6 313.6M361.3 329.3L409.2 351.8L410.5 352.3L411.7 352.4L414 352.3L416.5 351.6L419.7 350.1L423.9 347.1L426.4 344.7L430.9 339.5L434.8 334.4L446.6 316.5L452.3 308.5L454.9 305.7L457.8 303L460 301.4L463.2 299.5L468 297.5L471.5 296.6L481.1 295.5L487.8 295.5L490 295.8L492.6 296.3L509.8 301.5M510.5 301.6L514.6 302.9M515.3 303.1L553 314.6M362.7 329.9L408.3 352.3L411.5 353.7L414.1 353.9L417.6 353.2L420.8 351.7L425.3 348.5L428.5 345.3L432.6 340.3L437.1 334.1L447.6 317.6L452.1 311.1L454.4 308.2L456.9 305.4L460.1 302.6L463.6 300.3L466.5 298.8L471.3 297.1L475.8 296.4L483.4 295.7L489.2 295.7L492.4 296.2L509.6 301.4L554.4 315.6M364 330.5L409.7 353.7L412.9 355.1L415.5 355.4L419 354.7L422.2 353.2L426.7 349.8L429.9 346.5L434 341.4L438.5 335.1L449 318.3L453.5 311.6L455.7 308.6L458.3 305.8L461.5 302.9L465 300.5L467.9 299L472.7 297.3L477.1 296.6L484.8 295.8L490.6 295.9L493.8 296.4L511.7 302L555.7 316.6M365.4 331.1L411.1 355.1L414.3 356.6L416.9 356.9L420.4 356.1L423.6 354.6L428 351.2L431.2 347.8L435.4 342.6L439.9 336.1L450.4 319L454.9 312.1L457.1 309.1L459.7 306.2L462.9 303.2L466.4 300.8L469.3 299.3L474.1 297.5L478.2 296.8L485.9 296L491.9 296.1L495.1 296.6L513.4 302.5L557.1 317.6M366.8 331.8L412.5 356.6L415.7 358.1L418.3 358.4L421.8 357.6L425 356L429.4 352.5L432.6 349.1L436.8 343.7L441.3 337.1L451.8 319.6L456.3 312.7L458.5 309.5L461.1 306.6L464.3 303.5L467.8 301.1L470.7 299.5L475.4 297.7L479.6 296.9L487.3 296.2L493.3 296.3L496.5 296.9L515.1 303.1L558.5 318.7"/>
<path class="n" d="M259.7 280.4L370.6 333.7M262.1 278.3L373 335.1M264.5 276.2L367.1 331.9M368.5 332.7L375.4 336.4M266.9 274.1L377.8 337.8M269.3 272.1L380.2 339.1M271.7 270L382.6 340.5M274.1 267.9L385 341.8M276.5 265.8L387.4 343.1M278.9 263.7L389.8 344.5M281.3 261.6L392.2 345.8M283.7 259.5L394.6 347.2M286.1 257.4L397 348.5M288.5 255.4L399.4 349.9M290.8 253.3L401.7 351.2M293.2 251.2L404.1 352.5M295.6 249.1L406.5 353.9M298 247L408.9 355.2M300.4 244.9L411.3 356.6M302.8 243.1L413.7 357.9M305.2 241.8L416.1 359.2M307.6 241.1L418.5 359.8M310 241.3L420.9 359.7M312.4 242.2L423.3 359M314.8 243.3L425.7 357.8M317.2 244.7L428.1 356.2M319.6 246.4L430.5 354.1M322 248.5L432.9 351.7M324.4 250.7L435.3 348.7M326.8 252.8L437.7 345.5M329.2 254.8L440.1 342.1M332.4 257.5L333 257.9M333.5 258.3L442.5 338.4M339.5 262.8L340.6 263.6M341.5 264.2L444.9 334.5M344.7 266.6L345.2 266.9M346.9 267.9L447.3 330.4M350.7 270.5L449.7 326.3M355.9 273.6L452.1 322.2M361 276.4L454.5 318.2M368.4 279.8L456.9 314.4M372.8 281.6L459.3 310.8M376.5 283L461.7 307.9M382.3 284.8L382.8 285M384.2 285.3L464.1 305.3M388.3 286.3L466.4 303.2M389.3 286.6L389.8 286.7M390.4 286.8L468.8 301.5M392.8 287.3L471.2 300.1M391.8 287.2L392.4 287.2M393 287.3L473.6 299M390.4 286.9L391.2 287M392 287.1L476 298.1M390.3 286.8L478.4 297.4M388.5 286.3L480.8 297.1M385.4 285.6L483.2 296.8M381.9 284.7L485.6 296.6M378.8 283.6L488 296.4M379.5 282.6L490.4 296.3M381.9 281.7L492.8 296.4M384.3 280.5L495.2 296.5M386.7 279.1L497.6 297M389.1 277.7L486.1 295.2M487 295.4L487.5 295.5M491.7 296.2L500 297.7M391.5 276.5L481.9 294.5M483.8 294.9L484.4 295M490.7 296.3L502.4 298.6M393.9 275.3L480.7 294.2M481.2 294.3L481.8 294.5M490.6 296.4L504.8 299.5M396.3 274L483.6 294.7M484.2 294.8L484.7 295M490.5 296.3L493 296.9M493.9 297.1L507.2 300.3M398.7 272.8L486.6 295.2M487.1 295.4L487.7 295.5M493.8 297.1L496.3 297.7M496.8 297.8L497.4 298M497.9 298.1L509.6 301.1M401.1 271.5L489.2 295.7M498.9 298.3L512 301.9M403.5 270.2L491.1 295.9M503.3 299.5L503.8 299.7M504.4 299.8L504.9 300M506.1 300.3L514.4 302.8M405.9 268.8L494 296.5M509.3 301.3L509.8 301.5M510.4 301.6L516.8 303.6M408.3 267.3L495.9 296.7M510 301.4L519.2 304.5M410.7 265.9L506.9 300.2M507.7 300.4L514.6 302.9M515.2 303.1L521.6 305.4M413.1 264.3L524 306.3M415.5 262.8L526.4 307.1M417.8 261.2L528.7 308M420.2 259.5L531.1 308.9M422.6 257.7L533.5 309.8M425 255.9L535.9 310.7M427.4 254.1L538.3 311.5M429.8 252.3L540.7 312.4M432.2 250.5L543.1 313.3M434.6 248.8L545.5 314.2M437 247L547.9 315.1M439.4 245.3L550.3 316M441.8 243.6L552.7 316.9M444.2 241.9L555.1 317.8M446.6 240.2L557.5 318.8"/>
<path class="b" d="M257.3 282.5L300.1 245.2L303.3 242.8L305.2 241.8L307.8 241.1L309.7 241.2L312.3 242.1L315.1 243.5L319.6 246.4L329.2 254.8M329.8 255.3L330.5 255.9M378.1 283.1L383.5 280.9L388.3 278.2L401.7 271.2L411 265.7L419.3 260.1L430.8 251.6L449 238.5M368.2 332.4L413.9 358L417.1 359.6L419.6 359.9L423.2 359.1L426.7 357.2L430.8 353.8L434 350.3L438.2 344.9L442.6 338.1L453.2 320.3L457.7 313.2L460.2 309.6L462.8 306.6L466 303.6L469.8 300.9L472.4 299.6L477.1 297.7L482.3 296.9L489 296.3L494.7 296.5L497.9 297.1L517.1 303.7L559.9 319.7M257.3 282.5L368.2 332.4M449 238.5L559.9 319.7"/>
<line x1="61.50" y1="122.20" x2="61.50" y2="41.29" stroke="#8c8c8c" stroke-width="0.75"/>
<line x1="61.50" y1="122.20" x2="172.40" y2="172.10" stroke="#8c8c8c" stroke-width="0.75"/>
<line x1="172.40" y1="172.10" x2="364.10" y2="143.50" stroke="#8c8c8c" stroke-width="0.75"/>
<line x1="61.50" y1="120.69" x2="57.58" y2="118.93" stroke="#8c8c8c" stroke-width="0.75"/>
<line x1="61.50" y1="100.84" x2="57.58" y2="99.08" stroke="#8c8c8c" stroke-width="0.75"/>
<line x1="61.50" y1="80.99" x2="57.58" y2="79.23" stroke="#8c8c8c" stroke-width="0.75"/>
<line x1="61.50" y1="61.14" x2="57.58" y2="59.38" stroke="#8c8c8c" stroke-width="0.75"/>
<line x1="61.50" y1="41.29" x2="57.58" y2="39.53" stroke="#8c8c8c" stroke-width="0.75"/>
<line x1="61.50" y1="122.20" x2="57.25" y2="122.83" stroke="#8c8c8c" stroke-width="0.75"/>
<line x1="89.22" y1="134.68" x2="84.97" y2="135.31" stroke="#8c8c8c" stroke-width="0.75"/>
<line x1="116.95" y1="147.15" x2="112.70" y2="147.78" stroke="#8c8c8c" stroke-width="0.75"/>
<line x1="144.68" y1="159.62" x2="140.42" y2="160.26" stroke="#8c8c8c" stroke-width="0.75"/>
<line x1="172.40" y1="172.10" x2="168.15" y2="172.73" stroke="#8c8c8c" stroke-width="0.75"/>
<line x1="172.40" y1="172.10" x2="176.32" y2="173.86" stroke="#8c8c8c" stroke-width="0.75"/>
<line x1="210.74" y1="166.38" x2="214.66" y2="168.14" stroke="#8c8c8c" stroke-width="0.75"/>
<line x1="249.08" y1="160.66" x2="253.00" y2="162.42" stroke="#8c8c8c" stroke-width="0.75"/>
<line x1="287.42" y1="154.94" x2="291.34" y2="156.70" stroke="#8c8c8c" stroke-width="0.75"/>
<line x1="325.76" y1="149.22" x2="329.68" y2="150.98" stroke="#8c8c8c" stroke-width="0.75"/>
<line x1="364.10" y1="143.50" x2="368.02" y2="145.26" stroke="#8c8c8c" stroke-width="0.75"/>
<line x1="453.40" y1="122.45" x2="453.40" y2="40.20" stroke="#8c8c8c" stroke-width="0.75"/>
<line x1="453.40" y1="122.45" x2="564.30" y2="172.35" stroke="#8c8c8c" stroke-width="0.75"/>
<line x1="564.30" y1="172.35" x2="756.00" y2="143.75" stroke="#8c8c8c" stroke-width="0.75"/>
<line x1="453.40" y1="122.45" x2="449.48" y2="120.69" stroke="#8c8c8c" stroke-width="0.75"/>
<line x1="453.40" y1="101.89" x2="449.48" y2="100.12" stroke="#8c8c8c" stroke-width="0.75"/>
<line x1="453.40" y1="81.33" x2="449.48" y2="79.56" stroke="#8c8c8c" stroke-width="0.75"/>
<line x1="453.40" y1="60.76" x2="449.48" y2="59.00" stroke="#8c8c8c" stroke-width="0.75"/>
<line x1="453.40" y1="40.20" x2="449.48" y2="38.44" stroke="#8c8c8c" stroke-width="0.75"/>
<line x1="453.40" y1="122.45" x2="449.15" y2="123.08" stroke="#8c8c8c" stroke-width="0.75"/>
<line x1="481.12" y1="134.93" x2="476.87" y2="135.56" stroke="#8c8c8c" stroke-width="0.75"/>
<line x1="508.85" y1="147.40" x2="504.60" y2="148.03" stroke="#8c8c8c" stroke-width="0.75"/>
<line x1="536.58" y1="159.88" x2="532.32" y2="160.51" stroke="#8c8c8c" stroke-width="0.75"/>
<line x1="564.30" y1="172.35" x2="560.05" y2="172.98" stroke="#8c8c8c" stroke-width="0.75"/>
<line x1="564.30" y1="172.35" x2="568.22" y2="174.11" stroke="#8c8c8c" stroke-width="0.75"/>
<line x1="602.64" y1="166.63" x2="606.56" y2="168.39" stroke="#8c8c8c" stroke-width="0.75"/>
<line x1="640.98" y1="160.91" x2="644.90" y2="162.67" stroke="#8c8c8c" stroke-width="0.75"/>
<line x1="679.32" y1="155.19" x2="683.24" y2="156.95" stroke="#8c8c8c" stroke-width="0.75"/>
<line x1="717.66" y1="149.47" x2="721.58" y2="151.23" stroke="#8c8c8c" stroke-width="0.75"/>
<line x1="756.00" y1="143.75" x2="759.92" y2="145.51" stroke="#8c8c8c" stroke-width="0.75"/>
<line x1="257.30" y1="324.00" x2="257.30" y2="242.00" stroke="#8c8c8c" stroke-width="0.75"/>
<line x1="257.30" y1="324.00" x2="368.20" y2="373.90" stroke="#8c8c8c" stroke-width="0.75"/>
<line x1="368.20" y1="373.90" x2="559.90" y2="345.30" stroke="#8c8c8c" stroke-width="0.75"/>
<line x1="257.30" y1="324.00" x2="253.38" y2="322.24" stroke="#8c8c8c" stroke-width="0.75"/>
<line x1="257.30" y1="303.50" x2="253.38" y2="301.74" stroke="#8c8c8c" stroke-width="0.75"/>
<line x1="257.30" y1="283.00" x2="253.38" y2="281.24" stroke="#8c8c8c" stroke-width="0.75"/>
<line x1="257.30" y1="262.50" x2="253.38" y2="260.74" stroke="#8c8c8c" stroke-width="0.75"/>
<line x1="257.30" y1="242.00" x2="253.38" y2="240.24" stroke="#8c8c8c" stroke-width="0.75"/>
<line x1="257.30" y1="324.00" x2="253.05" y2="324.63" stroke="#8c8c8c" stroke-width="0.75"/>
<line x1="285.03" y1="336.48" x2="280.77" y2="337.11" stroke="#8c8c8c" stroke-width="0.75"/>
<line x1="312.75" y1="348.95" x2="308.50" y2="349.58" stroke="#8c8c8c" stroke-width="0.75"/>
<line x1="340.48" y1="361.43" x2="336.22" y2="362.06" stroke="#8c8c8c" stroke-width="0.75"/>
<line x1="368.20" y1="373.90" x2="363.95" y2="374.53" stroke="#8c8c8c" stroke-width="0.75"/>
<line x1="368.20" y1="373.90" x2="372.12" y2="375.66" stroke="#8c8c8c" stroke-width="0.75"/>
<line x1="406.54" y1="368.18" x2="410.46" y2="369.94" stroke="#8c8c8c" stroke-width="0.75"/>
<line x1="444.88" y1="362.46" x2="448.80" y2="364.22" stroke="#8c8c8c" stroke-width="0.75"/>
<line x1="483.22" y1="356.74" x2="487.14" y2="358.50" stroke="#8c8c8c" stroke-width="0.75"/>
<line x1="521.56" y1="351.02" x2="525.48" y2="352.78" stroke="#8c8c8c" stroke-width="0.75"/>
<line x1="559.90" y1="345.30" x2="563.82" y2="347.06" stroke="#8c8c8c" stroke-width="0.75"/>
<g><text x="54.4" y="121.8" text-anchor="end" font-size="9.9">-0.05</text>
<text x="54.4" y="101.9" text-anchor="end" font-size="9.9">-0.025</text>
<text x="54.4" y="82.1" text-anchor="end" font-size="9.9">0</text>
<text x="54.4" y="62.2" text-anchor="end" font-size="9.9">0.025</text>
<text x="54.4" y="42.4" text-anchor="end" font-size="9.9">0.05</text>
<text x="54.2" y="132.2" text-anchor="end" font-size="9.9">-1</text>
<text x="81.9" y="144.7" text-anchor="end" font-size="9.9">-0.5</text>
<text x="109.7" y="157.2" text-anchor="end" font-size="9.9">0</text>
<text x="137.4" y="169.6" text-anchor="end" font-size="9.9">0.5</text>
<text x="165.1" y="182.1" text-anchor="end" font-size="9.9">1</text>
<text x="179.1" y="184.3" text-anchor="start" font-size="9.9">0</text>
<text x="217.4" y="178.6" text-anchor="start" font-size="9.9">0.2</text>
<text x="255.8" y="172.9" text-anchor="start" font-size="9.9">0.4</text>
<text x="294.1" y="167.1" text-anchor="start" font-size="9.9">0.6</text>
<text x="332.5" y="161.4" text-anchor="start" font-size="9.9">0.8</text>
<text x="370.8" y="155.7" text-anchor="start" font-size="9.9">1</text>
<text x="0.0" y="0.0" text-anchor="middle" font-size="10.8" transform="translate(25.5,81.5) rotate(-90)">Qtot</text>
<text x="83.6" y="186.9" text-anchor="middle" font-size="10.8">Power Factor</text>
<text x="287.9" y="192.1" text-anchor="middle" font-size="10.8">Modulation Index</text>
<text x="4.0" y="18.8" text-anchor="start" font-size="17.0">(a)</text>
<text x="446.3" y="123.5" text-anchor="end" font-size="9.9">-0.05</text>
<text x="446.3" y="103.0" text-anchor="end" font-size="9.9">-0.025</text>
<text x="446.3" y="82.4" text-anchor="end" font-size="9.9">0</text>
<text x="446.3" y="61.9" text-anchor="end" font-size="9.9">0.025</text>
<text x="446.3" y="41.3" text-anchor="end" font-size="9.9">0.05</text>
<text x="446.1" y="132.4" text-anchor="end" font-size="9.9">-1</text>
<text x="473.8" y="144.9" text-anchor="end" font-size="9.9">-0.5</text>
<text x="501.5" y="157.4" text-anchor="end" font-size="9.9">0</text>
<text x="529.3" y="169.9" text-anchor="end" font-size="9.9">0.5</text>
<text x="557.0" y="182.3" text-anchor="end" font-size="9.9">1</text>
<text x="571.0" y="184.5" text-anchor="start" font-size="9.9">0</text>
<text x="609.3" y="178.8" text-anchor="start" font-size="9.9">0.2</text>
<text x="647.7" y="173.1" text-anchor="start" font-size="9.9">0.4</text>
<text x="686.0" y="167.4" text-anchor="start" font-size="9.9">0.6</text>
<text x="724.4" y="161.7" text-anchor="start" font-size="9.9">0.8</text>
<text x="762.7" y="155.9" text-anchor="start" font-size="9.9">1</text>
<text x="0.0" y="0.0" text-anchor="middle" font-size="10.8" transform="translate(417.4,81.8) rotate(-90)">Qtot</text>
<text x="475.5" y="187.2" text-anchor="middle" font-size="10.8">Power Factor</text>
<text x="679.8" y="192.3" text-anchor="middle" font-size="10.8">Modulation Index</text>
<text x="395.9" y="19.1" text-anchor="start" font-size="17.0">(b)</text>
<text x="250.2" y="325.1" text-anchor="end" font-size="9.9">-0.05</text>
<text x="250.2" y="304.6" text-anchor="end" font-size="9.9">-0.025</text>
<text x="250.2" y="284.1" text-anchor="end" font-size="9.9">0</text>
<text x="250.2" y="263.6" text-anchor="end" font-size="9.9">0.025</text>
<text x="250.2" y="243.1" text-anchor="end" font-size="9.9">0.05</text>
<text x="250.0" y="334.0" text-anchor="end" font-size="9.9">-1</text>
<text x="277.7" y="346.5" text-anchor="end" font-size="9.9">-0.5</text>
<text x="305.4" y="358.9" text-anchor="end" font-size="9.9">0</text>
<text x="333.2" y="371.4" text-anchor="end" font-size="9.9">0.5</text>
<text x="360.9" y="383.9" text-anchor="end" font-size="9.9">1</text>
<text x="374.9" y="386.1" text-anchor="start" font-size="9.9">0</text>
<text x="413.2" y="380.4" text-anchor="start" font-size="9.9">0.2</text>
<text x="451.6" y="374.7" text-anchor="start" font-size="9.9">0.4</text>
<text x="489.9" y="368.9" text-anchor="start" font-size="9.9">0.6</text>
<text x="528.3" y="363.2" text-anchor="start" font-size="9.9">0.8</text>
<text x="566.6" y="357.5" text-anchor="start" font-size="9.9">1</text>
<text x="0.0" y="0.0" text-anchor="middle" font-size="10.8" transform="translate(221.3,283.3) rotate(-90)">Qtot</text>
<text x="279.4" y="388.7" text-anchor="middle" font-size="10.8">Power Factor</text>
<text x="483.7" y="393.9" text-anchor="middle" font-size="10.8">Modulation Index</text>
<text x="199.8" y="220.6" text-anchor="start" font-size="17.0">(c)</text></g>
</svg>
</body></html>
